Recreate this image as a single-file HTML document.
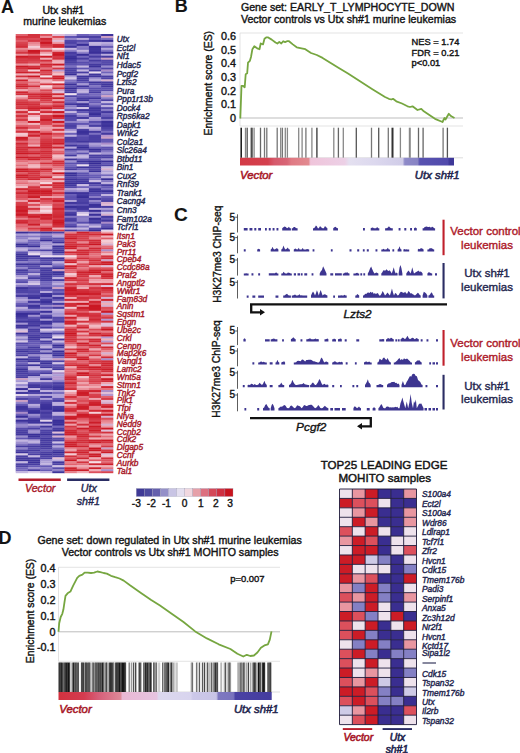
<!DOCTYPE html>
<html><head><meta charset="utf-8"><style>
html,body{margin:0;padding:0;background:#fff;}
svg{display:block;font-family:"Liberation Sans",sans-serif;}
svg{stroke-width:0.4px}
text{fill:currentColor;stroke:currentColor;}
[font-weight=bold] text,text[font-weight=bold]{stroke-width:0.08px}
</style></head><body>
<svg width="520" height="753" viewBox="0 0 520 753">
<defs><linearGradient id="gB" x1="0" x2="1" y1="0" y2="0"><stop offset="0" stop-color="#d33a46"/><stop offset="0.13" stop-color="#d4404e"/><stop offset="0.16" stop-color="#d65a6c"/><stop offset="0.22" stop-color="#d86676"/><stop offset="0.24" stop-color="#e07a84"/><stop offset="0.32" stop-color="#e28a90"/><stop offset="0.33" stop-color="#efc4da"/><stop offset="0.49" stop-color="#ecd0e6"/><stop offset="0.51" stop-color="#e4e0f0"/><stop offset="0.63" stop-color="#dcd8ee"/><stop offset="0.76" stop-color="#d0cce8"/><stop offset="0.77" stop-color="#8e8ac8"/><stop offset="0.83" stop-color="#8884c4"/><stop offset="0.84" stop-color="#5852b0"/><stop offset="0.97" stop-color="#514aac"/><stop offset="0.98" stop-color="#3e3898"/><stop offset="1" stop-color="#3e3898"/></linearGradient><linearGradient id="gD" x1="0" x2="1" y1="0" y2="0"><stop offset="0" stop-color="#d2323f"/><stop offset="0.12" stop-color="#d43c50"/><stop offset="0.19" stop-color="#d6607a"/><stop offset="0.29" stop-color="#de8898"/><stop offset="0.3" stop-color="#eab8d4"/><stop offset="0.46" stop-color="#e6c4e0"/><stop offset="0.47" stop-color="#dcd8ee"/><stop offset="0.62" stop-color="#d8d4ee"/><stop offset="0.63" stop-color="#ccc8e8"/><stop offset="0.74" stop-color="#c8c4e6"/><stop offset="0.75" stop-color="#7e78c0"/><stop offset="0.82" stop-color="#7a74be"/><stop offset="0.83" stop-color="#4a42a4"/><stop offset="1" stop-color="#443c9e"/></linearGradient></defs>
<rect width="520" height="753" fill="#fff"/>
<!-- Panel A -->
<text x="1" y="12.7" font-size="18" font-weight="bold" color="#141414">A</text>
<text x="63.3" y="13.8" font-size="10.6" text-anchor="middle" color="#141414">Utx sh#1</text>
<text x="64.7" y="25.1" font-size="10.6" text-anchor="middle" color="#141414">murine leukemias</text>
<g><rect x="15.7" y="34" width="12.5" height="2.23" fill="#e1626e"/><rect x="27.9" y="34" width="12.5" height="2.23" fill="#d3333f"/><rect x="40.1" y="34" width="12.5" height="2.23" fill="#de525e"/><rect x="52.3" y="34" width="12.5" height="2.23" fill="#e1bed7"/><rect x="64.5" y="34" width="12.5" height="2.23" fill="#c2b4e0"/><rect x="76.7" y="34" width="12.5" height="2.23" fill="#6e61ba"/><rect x="88.9" y="34" width="12.5" height="2.23" fill="#7c70c0"/><rect x="101.1" y="34" width="12.2" height="2.23" fill="#3f349c"/><rect x="15.7" y="35.98" width="12.5" height="2.23" fill="#d3333f"/><rect x="27.9" y="35.98" width="12.5" height="2.23" fill="#d4333f"/><rect x="40.1" y="35.98" width="12.5" height="2.23" fill="#ea8e99"/><rect x="52.3" y="35.98" width="12.5" height="2.23" fill="#db4a56"/><rect x="64.5" y="35.98" width="12.5" height="2.23" fill="#5e52b1"/><rect x="76.7" y="35.98" width="12.5" height="2.23" fill="#4c41a4"/><rect x="88.9" y="35.98" width="12.5" height="2.23" fill="#493fa3"/><rect x="101.1" y="35.98" width="12.2" height="2.23" fill="#cda0c3"/><rect x="15.7" y="37.95" width="12.5" height="2.23" fill="#da4753"/><rect x="27.9" y="37.95" width="12.5" height="2.23" fill="#db4b57"/><rect x="40.1" y="37.95" width="12.5" height="2.23" fill="#cf2733"/><rect x="52.3" y="37.95" width="12.5" height="2.23" fill="#eea4ae"/><rect x="64.5" y="37.95" width="12.5" height="2.23" fill="#9285ca"/><rect x="76.7" y="37.95" width="12.5" height="2.23" fill="#b7a9db"/><rect x="88.9" y="37.95" width="12.5" height="2.23" fill="#665ab6"/><rect x="101.1" y="37.95" width="12.2" height="2.23" fill="#7b6fc0"/><rect x="15.7" y="39.93" width="12.5" height="2.23" fill="#e1616d"/><rect x="27.9" y="39.93" width="12.5" height="2.23" fill="#d53844"/><rect x="40.1" y="39.93" width="12.5" height="2.23" fill="#d53743"/><rect x="52.3" y="39.93" width="12.5" height="2.23" fill="#e1bed7"/><rect x="64.5" y="39.93" width="12.5" height="2.23" fill="#5247a9"/><rect x="76.7" y="39.93" width="12.5" height="2.23" fill="#594ead"/><rect x="88.9" y="39.93" width="12.5" height="2.23" fill="#40369d"/><rect x="101.1" y="39.93" width="12.2" height="2.23" fill="#372d97"/><rect x="15.7" y="41.9" width="12.5" height="2.23" fill="#d94551"/><rect x="27.9" y="41.9" width="12.5" height="2.23" fill="#e8848f"/><rect x="40.1" y="41.9" width="12.5" height="2.23" fill="#ca1622"/><rect x="52.3" y="41.9" width="12.5" height="2.23" fill="#ed9ba5"/><rect x="64.5" y="41.9" width="12.5" height="2.23" fill="#4d42a6"/><rect x="76.7" y="41.9" width="12.5" height="2.23" fill="#7467bc"/><rect x="88.9" y="41.9" width="12.5" height="2.23" fill="#c3b5e0"/><rect x="101.1" y="41.9" width="12.2" height="2.23" fill="#baacdd"/><rect x="15.7" y="43.88" width="12.5" height="2.23" fill="#d63b47"/><rect x="27.9" y="43.88" width="12.5" height="2.23" fill="#ec96a0"/><rect x="40.1" y="43.88" width="12.5" height="2.23" fill="#d63a46"/><rect x="52.3" y="43.88" width="12.5" height="2.23" fill="#d12c38"/><rect x="64.5" y="43.88" width="12.5" height="2.23" fill="#6559b5"/><rect x="76.7" y="43.88" width="12.5" height="2.23" fill="#372d97"/><rect x="88.9" y="43.88" width="12.5" height="2.23" fill="#beb0de"/><rect x="101.1" y="43.88" width="12.2" height="2.23" fill="#a99bd5"/><rect x="15.7" y="45.86" width="12.5" height="2.23" fill="#d12d39"/><rect x="27.9" y="45.86" width="12.5" height="2.23" fill="#f4cdd6"/><rect x="40.1" y="45.86" width="12.5" height="2.23" fill="#db4955"/><rect x="52.3" y="45.86" width="12.5" height="2.23" fill="#cf2531"/><rect x="64.5" y="45.86" width="12.5" height="2.23" fill="#3e339b"/><rect x="76.7" y="45.86" width="12.5" height="2.23" fill="#897cc6"/><rect x="88.9" y="45.86" width="12.5" height="2.23" fill="#392f98"/><rect x="101.1" y="45.86" width="12.2" height="2.23" fill="#6458b4"/><rect x="15.7" y="47.83" width="12.5" height="2.23" fill="#e98993"/><rect x="27.9" y="47.83" width="12.5" height="2.23" fill="#f0afb8"/><rect x="40.1" y="47.83" width="12.5" height="2.23" fill="#efa9b3"/><rect x="52.3" y="47.83" width="12.5" height="2.23" fill="#f7e0e8"/><rect x="64.5" y="47.83" width="12.5" height="2.23" fill="#c1b3df"/><rect x="76.7" y="47.83" width="12.5" height="2.23" fill="#7f73c2"/><rect x="88.9" y="47.83" width="12.5" height="2.23" fill="#3f359c"/><rect x="101.1" y="47.83" width="12.2" height="2.23" fill="#b3a5da"/><rect x="15.7" y="49.81" width="12.5" height="2.23" fill="#e16470"/><rect x="27.9" y="49.81" width="12.5" height="2.23" fill="#ca1622"/><rect x="40.1" y="49.81" width="12.5" height="2.23" fill="#dc4d59"/><rect x="52.3" y="49.81" width="12.5" height="2.23" fill="#ed9ea8"/><rect x="64.5" y="49.81" width="12.5" height="2.23" fill="#8e81c9"/><rect x="76.7" y="49.81" width="12.5" height="2.23" fill="#c5b7e1"/><rect x="88.9" y="49.81" width="12.5" height="2.23" fill="#41379e"/><rect x="101.1" y="49.81" width="12.2" height="2.23" fill="#7f73c2"/><rect x="15.7" y="51.78" width="12.5" height="2.23" fill="#d43642"/><rect x="27.9" y="51.78" width="12.5" height="2.23" fill="#cd1f2b"/><rect x="40.1" y="51.78" width="12.5" height="2.23" fill="#ed9ca6"/><rect x="52.3" y="51.78" width="12.5" height="2.23" fill="#cf2430"/><rect x="64.5" y="51.78" width="12.5" height="2.23" fill="#463ba1"/><rect x="76.7" y="51.78" width="12.5" height="2.23" fill="#9083c9"/><rect x="88.9" y="51.78" width="12.5" height="2.23" fill="#3a2f98"/><rect x="101.1" y="51.78" width="12.2" height="2.23" fill="#3c329a"/><rect x="15.7" y="53.76" width="12.5" height="2.23" fill="#eb919c"/><rect x="27.9" y="53.76" width="12.5" height="2.23" fill="#e36c77"/><rect x="40.1" y="53.76" width="12.5" height="2.23" fill="#f5d3dc"/><rect x="52.3" y="53.76" width="12.5" height="2.23" fill="#ca1723"/><rect x="64.5" y="53.76" width="12.5" height="2.23" fill="#5045a8"/><rect x="76.7" y="53.76" width="12.5" height="2.23" fill="#372d97"/><rect x="88.9" y="53.76" width="12.5" height="2.23" fill="#6f63ba"/><rect x="101.1" y="53.76" width="12.2" height="2.23" fill="#bcaede"/><rect x="15.7" y="55.74" width="12.5" height="2.23" fill="#cb1925"/><rect x="27.9" y="55.74" width="12.5" height="2.23" fill="#cf2632"/><rect x="40.1" y="55.74" width="12.5" height="2.23" fill="#cc1c28"/><rect x="52.3" y="55.74" width="12.5" height="2.23" fill="#d53945"/><rect x="64.5" y="55.74" width="12.5" height="2.23" fill="#3c329a"/><rect x="76.7" y="55.74" width="12.5" height="2.23" fill="#7366bc"/><rect x="88.9" y="55.74" width="12.5" height="2.23" fill="#463ba1"/><rect x="101.1" y="55.74" width="12.2" height="2.23" fill="#443aa0"/><rect x="15.7" y="57.71" width="12.5" height="2.23" fill="#d53743"/><rect x="27.9" y="57.71" width="12.5" height="2.23" fill="#d2303c"/><rect x="40.1" y="57.71" width="12.5" height="2.23" fill="#efaab4"/><rect x="52.3" y="57.71" width="12.5" height="2.23" fill="#d3303c"/><rect x="64.5" y="57.71" width="12.5" height="2.23" fill="#362c96"/><rect x="76.7" y="57.71" width="12.5" height="2.23" fill="#463ba0"/><rect x="88.9" y="57.71" width="12.5" height="2.23" fill="#776abe"/><rect x="101.1" y="57.71" width="12.2" height="2.23" fill="#cda0c3"/><rect x="15.7" y="59.69" width="12.5" height="2.23" fill="#d53844"/><rect x="27.9" y="59.69" width="12.5" height="2.23" fill="#d63b47"/><rect x="40.1" y="59.69" width="12.5" height="2.23" fill="#d22e3a"/><rect x="52.3" y="59.69" width="12.5" height="2.23" fill="#eea5af"/><rect x="64.5" y="59.69" width="12.5" height="2.23" fill="#483da2"/><rect x="76.7" y="59.69" width="12.5" height="2.23" fill="#776abe"/><rect x="88.9" y="59.69" width="12.5" height="2.23" fill="#463ba0"/><rect x="101.1" y="59.69" width="12.2" height="2.23" fill="#5146a8"/><rect x="15.7" y="61.66" width="12.5" height="2.23" fill="#d53945"/><rect x="27.9" y="61.66" width="12.5" height="2.23" fill="#db4b57"/><rect x="40.1" y="61.66" width="12.5" height="2.23" fill="#e36d78"/><rect x="52.3" y="61.66" width="12.5" height="2.23" fill="#f0b2bc"/><rect x="64.5" y="61.66" width="12.5" height="2.23" fill="#4a3fa3"/><rect x="76.7" y="61.66" width="12.5" height="2.23" fill="#584cad"/><rect x="88.9" y="61.66" width="12.5" height="2.23" fill="#675bb6"/><rect x="101.1" y="61.66" width="12.2" height="2.23" fill="#564aab"/><rect x="15.7" y="63.64" width="12.5" height="2.23" fill="#ea8e99"/><rect x="27.9" y="63.64" width="12.5" height="2.23" fill="#eea3ac"/><rect x="40.1" y="63.64" width="12.5" height="2.23" fill="#cf2531"/><rect x="52.3" y="63.64" width="12.5" height="2.23" fill="#cb1925"/><rect x="64.5" y="63.64" width="12.5" height="2.23" fill="#5c50af"/><rect x="76.7" y="63.64" width="12.5" height="2.23" fill="#6054b2"/><rect x="88.9" y="63.64" width="12.5" height="2.23" fill="#43399f"/><rect x="101.1" y="63.64" width="12.2" height="2.23" fill="#5045a7"/><rect x="15.7" y="65.62" width="12.5" height="2.23" fill="#cb1a26"/><rect x="27.9" y="65.62" width="12.5" height="2.23" fill="#d12d39"/><rect x="40.1" y="65.62" width="12.5" height="2.23" fill="#d53844"/><rect x="52.3" y="65.62" width="12.5" height="2.23" fill="#efabb5"/><rect x="64.5" y="65.62" width="12.5" height="2.23" fill="#7b6fc0"/><rect x="76.7" y="65.62" width="12.5" height="2.23" fill="#c3b5e0"/><rect x="88.9" y="65.62" width="12.5" height="2.23" fill="#3b3199"/><rect x="101.1" y="65.62" width="12.2" height="2.23" fill="#978acd"/><rect x="15.7" y="67.59" width="12.5" height="2.23" fill="#d3313d"/><rect x="27.9" y="67.59" width="12.5" height="2.23" fill="#ca1723"/><rect x="40.1" y="67.59" width="12.5" height="2.23" fill="#e4717d"/><rect x="52.3" y="67.59" width="12.5" height="2.23" fill="#d43541"/><rect x="64.5" y="67.59" width="12.5" height="2.23" fill="#4a3fa3"/><rect x="76.7" y="67.59" width="12.5" height="2.23" fill="#5f54b2"/><rect x="88.9" y="67.59" width="12.5" height="2.23" fill="#7165bb"/><rect x="101.1" y="67.59" width="12.2" height="2.23" fill="#4e43a6"/><rect x="15.7" y="69.57" width="12.5" height="2.23" fill="#dc4f5b"/><rect x="27.9" y="69.57" width="12.5" height="2.23" fill="#f5d1d9"/><rect x="40.1" y="69.57" width="12.5" height="2.23" fill="#cf2531"/><rect x="52.3" y="69.57" width="12.5" height="2.23" fill="#b696ce"/><rect x="64.5" y="69.57" width="12.5" height="2.23" fill="#4b41a4"/><rect x="76.7" y="69.57" width="12.5" height="2.23" fill="#c4b6e1"/><rect x="88.9" y="69.57" width="12.5" height="2.23" fill="#483da2"/><rect x="101.1" y="69.57" width="12.2" height="2.23" fill="#aa8cc8"/><rect x="15.7" y="71.54" width="12.5" height="2.23" fill="#cd202c"/><rect x="27.9" y="71.54" width="12.5" height="2.23" fill="#d02834"/><rect x="40.1" y="71.54" width="12.5" height="2.23" fill="#db4c58"/><rect x="52.3" y="71.54" width="12.5" height="2.23" fill="#eea2ac"/><rect x="64.5" y="71.54" width="12.5" height="2.23" fill="#4a3fa3"/><rect x="76.7" y="71.54" width="12.5" height="2.23" fill="#483da2"/><rect x="88.9" y="71.54" width="12.5" height="2.23" fill="#eadcef"/><rect x="101.1" y="71.54" width="12.2" height="2.23" fill="#6f63ba"/><rect x="15.7" y="73.52" width="12.5" height="2.23" fill="#efabb5"/><rect x="27.9" y="73.52" width="12.5" height="2.23" fill="#f0b3bc"/><rect x="40.1" y="73.52" width="12.5" height="2.23" fill="#d53945"/><rect x="52.3" y="73.52" width="12.5" height="2.23" fill="#f2c0c9"/><rect x="64.5" y="73.52" width="12.5" height="2.23" fill="#372d96"/><rect x="76.7" y="73.52" width="12.5" height="2.23" fill="#bdafde"/><rect x="88.9" y="73.52" width="12.5" height="2.23" fill="#3f359c"/><rect x="101.1" y="73.52" width="12.2" height="2.23" fill="#ac9ed6"/><rect x="15.7" y="75.5" width="12.5" height="2.23" fill="#d12d39"/><rect x="27.9" y="75.5" width="12.5" height="2.23" fill="#ca1622"/><rect x="40.1" y="75.5" width="12.5" height="2.23" fill="#f7dfe7"/><rect x="52.3" y="75.5" width="12.5" height="2.23" fill="#cf2531"/><rect x="64.5" y="75.5" width="12.5" height="2.23" fill="#ac9ed6"/><rect x="76.7" y="75.5" width="12.5" height="2.23" fill="#3e349c"/><rect x="88.9" y="75.5" width="12.5" height="2.23" fill="#41369d"/><rect x="101.1" y="75.5" width="12.2" height="2.23" fill="#473ca1"/><rect x="15.7" y="77.47" width="12.5" height="2.23" fill="#eea5af"/><rect x="27.9" y="77.47" width="12.5" height="2.23" fill="#e57782"/><rect x="40.1" y="77.47" width="12.5" height="2.23" fill="#d3313d"/><rect x="52.3" y="77.47" width="12.5" height="2.23" fill="#cc1b27"/><rect x="64.5" y="77.47" width="12.5" height="2.23" fill="#d5c7e7"/><rect x="76.7" y="77.47" width="12.5" height="2.23" fill="#44399f"/><rect x="88.9" y="77.47" width="12.5" height="2.23" fill="#9b8ecf"/><rect x="101.1" y="77.47" width="12.2" height="2.23" fill="#4f44a7"/><rect x="15.7" y="79.45" width="12.5" height="2.23" fill="#cd202c"/><rect x="27.9" y="79.45" width="12.5" height="2.23" fill="#efa8b2"/><rect x="40.1" y="79.45" width="12.5" height="2.23" fill="#f0b2bc"/><rect x="52.3" y="79.45" width="12.5" height="2.23" fill="#e46f7a"/><rect x="64.5" y="79.45" width="12.5" height="2.23" fill="#7f72c1"/><rect x="76.7" y="79.45" width="12.5" height="2.23" fill="#493ea3"/><rect x="88.9" y="79.45" width="12.5" height="2.23" fill="#b4a6da"/><rect x="101.1" y="79.45" width="12.2" height="2.23" fill="#d7b0ce"/><rect x="15.7" y="81.42" width="12.5" height="2.23" fill="#e05e6a"/><rect x="27.9" y="81.42" width="12.5" height="2.23" fill="#e36e79"/><rect x="40.1" y="81.42" width="12.5" height="2.23" fill="#f0adb7"/><rect x="52.3" y="81.42" width="12.5" height="2.23" fill="#f7dfe7"/><rect x="64.5" y="81.42" width="12.5" height="2.23" fill="#6e62ba"/><rect x="76.7" y="81.42" width="12.5" height="2.23" fill="#5f53b1"/><rect x="88.9" y="81.42" width="12.5" height="2.23" fill="#3e349b"/><rect x="101.1" y="81.42" width="12.2" height="2.23" fill="#453aa0"/><rect x="15.7" y="83.4" width="12.5" height="2.23" fill="#d43642"/><rect x="27.9" y="83.4" width="12.5" height="2.23" fill="#e7828d"/><rect x="40.1" y="83.4" width="12.5" height="2.23" fill="#d43440"/><rect x="52.3" y="83.4" width="12.5" height="2.23" fill="#ce222e"/><rect x="64.5" y="83.4" width="12.5" height="2.23" fill="#3b3099"/><rect x="76.7" y="83.4" width="12.5" height="2.23" fill="#a698d4"/><rect x="88.9" y="83.4" width="12.5" height="2.23" fill="#5449aa"/><rect x="101.1" y="83.4" width="12.2" height="2.23" fill="#40369d"/><rect x="15.7" y="85.38" width="12.5" height="2.23" fill="#cd202c"/><rect x="27.9" y="85.38" width="12.5" height="2.23" fill="#d22e3a"/><rect x="40.1" y="85.38" width="12.5" height="2.23" fill="#f6dae2"/><rect x="52.3" y="85.38" width="12.5" height="2.23" fill="#e67a85"/><rect x="64.5" y="85.38" width="12.5" height="2.23" fill="#5b50af"/><rect x="76.7" y="85.38" width="12.5" height="2.23" fill="#3e339b"/><rect x="88.9" y="85.38" width="12.5" height="2.23" fill="#8174c3"/><rect x="101.1" y="85.38" width="12.2" height="2.23" fill="#42379e"/><rect x="15.7" y="87.35" width="12.5" height="2.23" fill="#d94551"/><rect x="27.9" y="87.35" width="12.5" height="2.23" fill="#e7818c"/><rect x="40.1" y="87.35" width="12.5" height="2.23" fill="#f0aeb8"/><rect x="52.3" y="87.35" width="12.5" height="2.23" fill="#d22f3b"/><rect x="64.5" y="87.35" width="12.5" height="2.23" fill="#372d96"/><rect x="76.7" y="87.35" width="12.5" height="2.23" fill="#6458b5"/><rect x="88.9" y="87.35" width="12.5" height="2.23" fill="#594eae"/><rect x="101.1" y="87.35" width="12.2" height="2.23" fill="#5b4faf"/><rect x="15.7" y="89.33" width="12.5" height="2.23" fill="#efaab4"/><rect x="27.9" y="89.33" width="12.5" height="2.23" fill="#e7818c"/><rect x="40.1" y="89.33" width="12.5" height="2.23" fill="#da4955"/><rect x="52.3" y="89.33" width="12.5" height="2.23" fill="#cda0c3"/><rect x="64.5" y="89.33" width="12.5" height="2.23" fill="#4f44a7"/><rect x="76.7" y="89.33" width="12.5" height="2.23" fill="#bbaddd"/><rect x="88.9" y="89.33" width="12.5" height="2.23" fill="#584dad"/><rect x="101.1" y="89.33" width="12.2" height="2.23" fill="#564bac"/><rect x="15.7" y="91.3" width="12.5" height="2.23" fill="#cf2430"/><rect x="27.9" y="91.3" width="12.5" height="2.23" fill="#e26773"/><rect x="40.1" y="91.3" width="12.5" height="2.23" fill="#df5763"/><rect x="52.3" y="91.3" width="12.5" height="2.23" fill="#e1bed7"/><rect x="64.5" y="91.3" width="12.5" height="2.23" fill="#43399f"/><rect x="76.7" y="91.3" width="12.5" height="2.23" fill="#bcaedd"/><rect x="88.9" y="91.3" width="12.5" height="2.23" fill="#493ea3"/><rect x="101.1" y="91.3" width="12.2" height="2.23" fill="#a698d4"/><rect x="15.7" y="93.28" width="12.5" height="2.23" fill="#d3313d"/><rect x="27.9" y="93.28" width="12.5" height="2.23" fill="#cf2531"/><rect x="40.1" y="93.28" width="12.5" height="2.23" fill="#cd1f2b"/><rect x="52.3" y="93.28" width="12.5" height="2.23" fill="#cf2632"/><rect x="64.5" y="93.28" width="12.5" height="2.23" fill="#eee0f0"/><rect x="76.7" y="93.28" width="12.5" height="2.23" fill="#6256b3"/><rect x="88.9" y="93.28" width="12.5" height="2.23" fill="#7669bd"/><rect x="101.1" y="93.28" width="12.2" height="2.23" fill="#8e81c8"/><rect x="15.7" y="95.26" width="12.5" height="2.23" fill="#f2bec7"/><rect x="27.9" y="95.26" width="12.5" height="2.23" fill="#d3313d"/><rect x="40.1" y="95.26" width="12.5" height="2.23" fill="#cd1f2b"/><rect x="52.3" y="95.26" width="12.5" height="2.23" fill="#ed9ca6"/><rect x="64.5" y="95.26" width="12.5" height="2.23" fill="#4e43a6"/><rect x="76.7" y="95.26" width="12.5" height="2.23" fill="#6559b5"/><rect x="88.9" y="95.26" width="12.5" height="2.23" fill="#6b5fb8"/><rect x="101.1" y="95.26" width="12.2" height="2.23" fill="#cda0c3"/><rect x="15.7" y="97.23" width="12.5" height="2.23" fill="#e88791"/><rect x="27.9" y="97.23" width="12.5" height="2.23" fill="#d3303c"/><rect x="40.1" y="97.23" width="12.5" height="2.23" fill="#d02733"/><rect x="52.3" y="97.23" width="12.5" height="2.23" fill="#cc1d29"/><rect x="64.5" y="97.23" width="12.5" height="2.23" fill="#7f72c2"/><rect x="76.7" y="97.23" width="12.5" height="2.23" fill="#443aa0"/><rect x="88.9" y="97.23" width="12.5" height="2.23" fill="#41369d"/><rect x="101.1" y="97.23" width="12.2" height="2.23" fill="#867ac5"/><rect x="15.7" y="99.21" width="12.5" height="2.23" fill="#da4753"/><rect x="27.9" y="99.21" width="12.5" height="2.23" fill="#e57883"/><rect x="40.1" y="99.21" width="12.5" height="2.23" fill="#d53945"/><rect x="52.3" y="99.21" width="12.5" height="2.23" fill="#ec99a3"/><rect x="64.5" y="99.21" width="12.5" height="2.23" fill="#6c60b9"/><rect x="76.7" y="99.21" width="12.5" height="2.23" fill="#3e349c"/><rect x="88.9" y="99.21" width="12.5" height="2.23" fill="#6e62ba"/><rect x="101.1" y="99.21" width="12.2" height="2.23" fill="#4b40a4"/><rect x="15.7" y="101.18" width="12.5" height="2.23" fill="#d3333f"/><rect x="27.9" y="101.18" width="12.5" height="2.23" fill="#d73e4a"/><rect x="40.1" y="101.18" width="12.5" height="2.23" fill="#dc4e5a"/><rect x="52.3" y="101.18" width="12.5" height="2.23" fill="#d02834"/><rect x="64.5" y="101.18" width="12.5" height="2.23" fill="#6d61b9"/><rect x="76.7" y="101.18" width="12.5" height="2.23" fill="#a396d2"/><rect x="88.9" y="101.18" width="12.5" height="2.23" fill="#6559b5"/><rect x="101.1" y="101.18" width="12.2" height="2.23" fill="#c5b7e1"/><rect x="15.7" y="103.16" width="12.5" height="2.23" fill="#d02935"/><rect x="27.9" y="103.16" width="12.5" height="2.23" fill="#d22e3a"/><rect x="40.1" y="103.16" width="12.5" height="2.23" fill="#e7808b"/><rect x="52.3" y="103.16" width="12.5" height="2.23" fill="#de535f"/><rect x="64.5" y="103.16" width="12.5" height="2.23" fill="#41379e"/><rect x="76.7" y="103.16" width="12.5" height="2.23" fill="#3a2f98"/><rect x="88.9" y="103.16" width="12.5" height="2.23" fill="#897cc6"/><rect x="101.1" y="103.16" width="12.2" height="2.23" fill="#6257b4"/><rect x="15.7" y="105.14" width="12.5" height="2.23" fill="#d73e4a"/><rect x="27.9" y="105.14" width="12.5" height="2.23" fill="#d3313d"/><rect x="40.1" y="105.14" width="12.5" height="2.23" fill="#d8404c"/><rect x="52.3" y="105.14" width="12.5" height="2.23" fill="#cf2632"/><rect x="64.5" y="105.14" width="12.5" height="2.23" fill="#877ac5"/><rect x="76.7" y="105.14" width="12.5" height="2.23" fill="#41379e"/><rect x="88.9" y="105.14" width="12.5" height="2.23" fill="#6256b3"/><rect x="101.1" y="105.14" width="12.2" height="2.23" fill="#bfb1de"/><rect x="15.7" y="107.11" width="12.5" height="2.23" fill="#d3323e"/><rect x="27.9" y="107.11" width="12.5" height="2.23" fill="#cd1f2b"/><rect x="40.1" y="107.11" width="12.5" height="2.23" fill="#cb1925"/><rect x="52.3" y="107.11" width="12.5" height="2.23" fill="#d43541"/><rect x="64.5" y="107.11" width="12.5" height="2.23" fill="#a295d2"/><rect x="76.7" y="107.11" width="12.5" height="2.23" fill="#d2c4e6"/><rect x="88.9" y="107.11" width="12.5" height="2.23" fill="#3f359c"/><rect x="101.1" y="107.11" width="12.2" height="2.23" fill="#574bac"/><rect x="15.7" y="109.09" width="12.5" height="2.23" fill="#eea1ab"/><rect x="27.9" y="109.09" width="12.5" height="2.23" fill="#d22f3b"/><rect x="40.1" y="109.09" width="12.5" height="2.23" fill="#e67d88"/><rect x="52.3" y="109.09" width="12.5" height="2.23" fill="#e1bed7"/><rect x="64.5" y="109.09" width="12.5" height="2.23" fill="#6156b3"/><rect x="76.7" y="109.09" width="12.5" height="2.23" fill="#3f349c"/><rect x="88.9" y="109.09" width="12.5" height="2.23" fill="#43389e"/><rect x="101.1" y="109.09" width="12.2" height="2.23" fill="#8478c4"/><rect x="15.7" y="111.06" width="12.5" height="2.23" fill="#d12b37"/><rect x="27.9" y="111.06" width="12.5" height="2.23" fill="#f4c9d2"/><rect x="40.1" y="111.06" width="12.5" height="2.23" fill="#d02834"/><rect x="52.3" y="111.06" width="12.5" height="2.23" fill="#cb1824"/><rect x="64.5" y="111.06" width="12.5" height="2.23" fill="#c5b7e1"/><rect x="76.7" y="111.06" width="12.5" height="2.23" fill="#6357b4"/><rect x="88.9" y="111.06" width="12.5" height="2.23" fill="#493ea3"/><rect x="101.1" y="111.06" width="12.2" height="2.23" fill="#42379e"/><rect x="15.7" y="113.04" width="12.5" height="2.23" fill="#e4707b"/><rect x="27.9" y="113.04" width="12.5" height="2.23" fill="#d73d49"/><rect x="40.1" y="113.04" width="12.5" height="2.23" fill="#efa6b0"/><rect x="52.3" y="113.04" width="12.5" height="2.23" fill="#e4717d"/><rect x="64.5" y="113.04" width="12.5" height="2.23" fill="#7266bc"/><rect x="76.7" y="113.04" width="12.5" height="2.23" fill="#aea0d7"/><rect x="88.9" y="113.04" width="12.5" height="2.23" fill="#372d97"/><rect x="101.1" y="113.04" width="12.2" height="2.23" fill="#7064bb"/><rect x="15.7" y="115.02" width="12.5" height="2.23" fill="#d3313d"/><rect x="27.9" y="115.02" width="12.5" height="2.23" fill="#f0afb9"/><rect x="40.1" y="115.02" width="12.5" height="2.23" fill="#d63a46"/><rect x="52.3" y="115.02" width="12.5" height="2.23" fill="#ca1622"/><rect x="64.5" y="115.02" width="12.5" height="2.23" fill="#463ba1"/><rect x="76.7" y="115.02" width="12.5" height="2.23" fill="#8679c5"/><rect x="88.9" y="115.02" width="12.5" height="2.23" fill="#4d42a5"/><rect x="101.1" y="115.02" width="12.2" height="2.23" fill="#6559b5"/><rect x="15.7" y="116.99" width="12.5" height="2.23" fill="#e1616c"/><rect x="27.9" y="116.99" width="12.5" height="2.23" fill="#f5d3dc"/><rect x="40.1" y="116.99" width="12.5" height="2.23" fill="#d53743"/><rect x="52.3" y="116.99" width="12.5" height="2.23" fill="#d22f3b"/><rect x="64.5" y="116.99" width="12.5" height="2.23" fill="#5449aa"/><rect x="76.7" y="116.99" width="12.5" height="2.23" fill="#44399f"/><rect x="88.9" y="116.99" width="12.5" height="2.23" fill="#aa9cd5"/><rect x="101.1" y="116.99" width="12.2" height="2.23" fill="#493fa3"/><rect x="15.7" y="118.97" width="12.5" height="2.23" fill="#d63a46"/><rect x="27.9" y="118.97" width="12.5" height="2.23" fill="#f4cdd6"/><rect x="40.1" y="118.97" width="12.5" height="2.23" fill="#cc1d29"/><rect x="52.3" y="118.97" width="12.5" height="2.23" fill="#cda0c3"/><rect x="64.5" y="118.97" width="12.5" height="2.23" fill="#554aab"/><rect x="76.7" y="118.97" width="12.5" height="2.23" fill="#bdafde"/><rect x="88.9" y="118.97" width="12.5" height="2.23" fill="#a092d1"/><rect x="101.1" y="118.97" width="12.2" height="2.23" fill="#8578c4"/><rect x="15.7" y="120.94" width="12.5" height="2.23" fill="#e7808b"/><rect x="27.9" y="120.94" width="12.5" height="2.23" fill="#cb1824"/><rect x="40.1" y="120.94" width="12.5" height="2.23" fill="#d8424e"/><rect x="52.3" y="120.94" width="12.5" height="2.23" fill="#cb1824"/><rect x="64.5" y="120.94" width="12.5" height="2.23" fill="#8f82c9"/><rect x="76.7" y="120.94" width="12.5" height="2.23" fill="#978acd"/><rect x="88.9" y="120.94" width="12.5" height="2.23" fill="#564bab"/><rect x="101.1" y="120.94" width="12.2" height="2.23" fill="#3a3099"/><rect x="15.7" y="122.92" width="12.5" height="2.23" fill="#eb939d"/><rect x="27.9" y="122.92" width="12.5" height="2.23" fill="#f1b6bf"/><rect x="40.1" y="122.92" width="12.5" height="2.23" fill="#d9434f"/><rect x="52.3" y="122.92" width="12.5" height="2.23" fill="#e57883"/><rect x="64.5" y="122.92" width="12.5" height="2.23" fill="#564aab"/><rect x="76.7" y="122.92" width="12.5" height="2.23" fill="#6054b2"/><rect x="88.9" y="122.92" width="12.5" height="2.23" fill="#7468bd"/><rect x="101.1" y="122.92" width="12.2" height="2.23" fill="#42389e"/><rect x="15.7" y="124.9" width="12.5" height="2.23" fill="#e1616d"/><rect x="27.9" y="124.9" width="12.5" height="2.23" fill="#e26671"/><rect x="40.1" y="124.9" width="12.5" height="2.23" fill="#e98994"/><rect x="52.3" y="124.9" width="12.5" height="2.23" fill="#d43642"/><rect x="64.5" y="124.9" width="12.5" height="2.23" fill="#4a3fa3"/><rect x="76.7" y="124.9" width="12.5" height="2.23" fill="#ab9dd6"/><rect x="88.9" y="124.9" width="12.5" height="2.23" fill="#483ea2"/><rect x="101.1" y="124.9" width="12.2" height="2.23" fill="#3c329a"/><rect x="15.7" y="126.87" width="12.5" height="2.23" fill="#d12c38"/><rect x="27.9" y="126.87" width="12.5" height="2.23" fill="#df5965"/><rect x="40.1" y="126.87" width="12.5" height="2.23" fill="#eea3ad"/><rect x="52.3" y="126.87" width="12.5" height="2.23" fill="#eea5af"/><rect x="64.5" y="126.87" width="12.5" height="2.23" fill="#5146a8"/><rect x="76.7" y="126.87" width="12.5" height="2.23" fill="#c3b5e0"/><rect x="88.9" y="126.87" width="12.5" height="2.23" fill="#baacdd"/><rect x="101.1" y="126.87" width="12.2" height="2.23" fill="#4c41a4"/><rect x="15.7" y="128.85" width="12.5" height="2.23" fill="#e36b77"/><rect x="27.9" y="128.85" width="12.5" height="2.23" fill="#f1b8c1"/><rect x="40.1" y="128.85" width="12.5" height="2.23" fill="#ec96a0"/><rect x="52.3" y="128.85" width="12.5" height="2.23" fill="#d22e3a"/><rect x="64.5" y="128.85" width="12.5" height="2.23" fill="#a092d1"/><rect x="76.7" y="128.85" width="12.5" height="2.23" fill="#493fa3"/><rect x="88.9" y="128.85" width="12.5" height="2.23" fill="#a799d4"/><rect x="101.1" y="128.85" width="12.2" height="2.23" fill="#564bab"/><rect x="15.7" y="130.82" width="12.5" height="2.23" fill="#d43541"/><rect x="27.9" y="130.82" width="12.5" height="2.23" fill="#cd1f2b"/><rect x="40.1" y="130.82" width="12.5" height="2.23" fill="#e36b76"/><rect x="52.3" y="130.82" width="12.5" height="2.23" fill="#f0b3bc"/><rect x="64.5" y="130.82" width="12.5" height="2.23" fill="#d1c3e5"/><rect x="76.7" y="130.82" width="12.5" height="2.23" fill="#3a3099"/><rect x="88.9" y="130.82" width="12.5" height="2.23" fill="#443a9f"/><rect x="101.1" y="130.82" width="12.2" height="2.23" fill="#7b6ec0"/><rect x="15.7" y="132.8" width="12.5" height="2.23" fill="#f4c9d2"/><rect x="27.9" y="132.8" width="12.5" height="2.23" fill="#dd515d"/><rect x="40.1" y="132.8" width="12.5" height="2.23" fill="#cd202c"/><rect x="52.3" y="132.8" width="12.5" height="2.23" fill="#d94551"/><rect x="64.5" y="132.8" width="12.5" height="2.23" fill="#6b5fb8"/><rect x="76.7" y="132.8" width="12.5" height="2.23" fill="#3e349b"/><rect x="88.9" y="132.8" width="12.5" height="2.23" fill="#7d71c1"/><rect x="101.1" y="132.8" width="12.2" height="2.23" fill="#44399f"/><rect x="15.7" y="134.78" width="12.5" height="2.23" fill="#f2bdc6"/><rect x="27.9" y="134.78" width="12.5" height="2.23" fill="#ce212d"/><rect x="40.1" y="134.78" width="12.5" height="2.23" fill="#dd515d"/><rect x="52.3" y="134.78" width="12.5" height="2.23" fill="#e1626d"/><rect x="64.5" y="134.78" width="12.5" height="2.23" fill="#c2b4e0"/><rect x="76.7" y="134.78" width="12.5" height="2.23" fill="#6559b5"/><rect x="88.9" y="134.78" width="12.5" height="2.23" fill="#4b40a4"/><rect x="101.1" y="134.78" width="12.2" height="2.23" fill="#b696ce"/><rect x="15.7" y="136.75" width="12.5" height="2.23" fill="#cb1925"/><rect x="27.9" y="136.75" width="12.5" height="2.23" fill="#e98a94"/><rect x="40.1" y="136.75" width="12.5" height="2.23" fill="#db4c58"/><rect x="52.3" y="136.75" width="12.5" height="2.23" fill="#ea919b"/><rect x="64.5" y="136.75" width="12.5" height="2.23" fill="#4b40a4"/><rect x="76.7" y="136.75" width="12.5" height="2.23" fill="#554aab"/><rect x="88.9" y="136.75" width="12.5" height="2.23" fill="#493ea3"/><rect x="101.1" y="136.75" width="12.2" height="2.23" fill="#cda0c3"/><rect x="15.7" y="138.73" width="12.5" height="2.23" fill="#cf2632"/><rect x="27.9" y="138.73" width="12.5" height="2.23" fill="#e4737f"/><rect x="40.1" y="138.73" width="12.5" height="2.23" fill="#d53945"/><rect x="52.3" y="138.73" width="12.5" height="2.23" fill="#d2303c"/><rect x="64.5" y="138.73" width="12.5" height="2.23" fill="#493ea2"/><rect x="76.7" y="138.73" width="12.5" height="2.23" fill="#5448aa"/><rect x="88.9" y="138.73" width="12.5" height="2.23" fill="#4a3fa3"/><rect x="101.1" y="138.73" width="12.2" height="2.23" fill="#5f54b2"/><rect x="15.7" y="140.7" width="12.5" height="2.23" fill="#e16470"/><rect x="27.9" y="140.7" width="12.5" height="2.23" fill="#e7828d"/><rect x="40.1" y="140.7" width="12.5" height="2.23" fill="#d43440"/><rect x="52.3" y="140.7" width="12.5" height="2.23" fill="#d43440"/><rect x="64.5" y="140.7" width="12.5" height="2.23" fill="#4b40a4"/><rect x="76.7" y="140.7" width="12.5" height="2.23" fill="#41369d"/><rect x="88.9" y="140.7" width="12.5" height="2.23" fill="#473ca1"/><rect x="101.1" y="140.7" width="12.2" height="2.23" fill="#6357b4"/><rect x="15.7" y="142.68" width="12.5" height="2.23" fill="#d02733"/><rect x="27.9" y="142.68" width="12.5" height="2.23" fill="#e36c78"/><rect x="40.1" y="142.68" width="12.5" height="2.23" fill="#cf2632"/><rect x="52.3" y="142.68" width="12.5" height="2.23" fill="#cc1d29"/><rect x="64.5" y="142.68" width="12.5" height="2.23" fill="#7366bc"/><rect x="76.7" y="142.68" width="12.5" height="2.23" fill="#796cbf"/><rect x="88.9" y="142.68" width="12.5" height="2.23" fill="#ad9fd7"/><rect x="101.1" y="142.68" width="12.2" height="2.23" fill="#aa8cc8"/><rect x="15.7" y="144.66" width="12.5" height="2.23" fill="#d94551"/><rect x="27.9" y="144.66" width="12.5" height="2.23" fill="#efabb5"/><rect x="40.1" y="144.66" width="12.5" height="2.23" fill="#d12b37"/><rect x="52.3" y="144.66" width="12.5" height="2.23" fill="#e7808b"/><rect x="64.5" y="144.66" width="12.5" height="2.23" fill="#3e349c"/><rect x="76.7" y="144.66" width="12.5" height="2.23" fill="#4d42a6"/><rect x="88.9" y="144.66" width="12.5" height="2.23" fill="#9f91d0"/><rect x="101.1" y="144.66" width="12.2" height="2.23" fill="#c0b2df"/><rect x="15.7" y="146.63" width="12.5" height="2.23" fill="#d12c38"/><rect x="27.9" y="146.63" width="12.5" height="2.23" fill="#cc1c28"/><rect x="40.1" y="146.63" width="12.5" height="2.23" fill="#cd1f2b"/><rect x="52.3" y="146.63" width="12.5" height="2.23" fill="#ce222e"/><rect x="64.5" y="146.63" width="12.5" height="2.23" fill="#b5a7db"/><rect x="76.7" y="146.63" width="12.5" height="2.23" fill="#382e98"/><rect x="88.9" y="146.63" width="12.5" height="2.23" fill="#6c60b9"/><rect x="101.1" y="146.63" width="12.2" height="2.23" fill="#5d51b0"/><rect x="15.7" y="148.61" width="12.5" height="2.23" fill="#d22e3a"/><rect x="27.9" y="148.61" width="12.5" height="2.23" fill="#e05e6a"/><rect x="40.1" y="148.61" width="12.5" height="2.23" fill="#d94652"/><rect x="52.3" y="148.61" width="12.5" height="2.23" fill="#ed9ba6"/><rect x="64.5" y="148.61" width="12.5" height="2.23" fill="#483da2"/><rect x="76.7" y="148.61" width="12.5" height="2.23" fill="#4d42a5"/><rect x="88.9" y="148.61" width="12.5" height="2.23" fill="#372d97"/><rect x="101.1" y="148.61" width="12.2" height="2.23" fill="#594ead"/><rect x="15.7" y="150.58" width="12.5" height="2.23" fill="#d12d39"/><rect x="27.9" y="150.58" width="12.5" height="2.23" fill="#d63c48"/><rect x="40.1" y="150.58" width="12.5" height="2.23" fill="#d02935"/><rect x="52.3" y="150.58" width="12.5" height="2.23" fill="#e1636e"/><rect x="64.5" y="150.58" width="12.5" height="2.23" fill="#7b6ec0"/><rect x="76.7" y="150.58" width="12.5" height="2.23" fill="#9f91d0"/><rect x="88.9" y="150.58" width="12.5" height="2.23" fill="#473ca1"/><rect x="101.1" y="150.58" width="12.2" height="2.23" fill="#8477c4"/><rect x="15.7" y="152.56" width="12.5" height="2.23" fill="#cb1824"/><rect x="27.9" y="152.56" width="12.5" height="2.23" fill="#cd1e2a"/><rect x="40.1" y="152.56" width="12.5" height="2.23" fill="#d22e3a"/><rect x="52.3" y="152.56" width="12.5" height="2.23" fill="#dd505c"/><rect x="64.5" y="152.56" width="12.5" height="2.23" fill="#7d71c1"/><rect x="76.7" y="152.56" width="12.5" height="2.23" fill="#5c50af"/><rect x="88.9" y="152.56" width="12.5" height="2.23" fill="#c4b6e0"/><rect x="101.1" y="152.56" width="12.2" height="2.23" fill="#a698d4"/><rect x="15.7" y="154.54" width="12.5" height="2.23" fill="#dd505c"/><rect x="27.9" y="154.54" width="12.5" height="2.23" fill="#e1646f"/><rect x="40.1" y="154.54" width="12.5" height="2.23" fill="#d73d49"/><rect x="52.3" y="154.54" width="12.5" height="2.23" fill="#f2bcc5"/><rect x="64.5" y="154.54" width="12.5" height="2.23" fill="#43399f"/><rect x="76.7" y="154.54" width="12.5" height="2.23" fill="#bfb1df"/><rect x="88.9" y="154.54" width="12.5" height="2.23" fill="#483da2"/><rect x="101.1" y="154.54" width="12.2" height="2.23" fill="#4d42a5"/><rect x="15.7" y="156.51" width="12.5" height="2.23" fill="#cb1925"/><rect x="27.9" y="156.51" width="12.5" height="2.23" fill="#ce232f"/><rect x="40.1" y="156.51" width="12.5" height="2.23" fill="#cf2531"/><rect x="52.3" y="156.51" width="12.5" height="2.23" fill="#f0b3bc"/><rect x="64.5" y="156.51" width="12.5" height="2.23" fill="#c5b7e1"/><rect x="76.7" y="156.51" width="12.5" height="2.23" fill="#beb0de"/><rect x="88.9" y="156.51" width="12.5" height="2.23" fill="#4b41a4"/><rect x="101.1" y="156.51" width="12.2" height="2.23" fill="#493ea3"/><rect x="15.7" y="158.49" width="12.5" height="2.23" fill="#db4b57"/><rect x="27.9" y="158.49" width="12.5" height="2.23" fill="#ce212d"/><rect x="40.1" y="158.49" width="12.5" height="2.23" fill="#da4753"/><rect x="52.3" y="158.49" width="12.5" height="2.23" fill="#e98994"/><rect x="64.5" y="158.49" width="12.5" height="2.23" fill="#3d329a"/><rect x="76.7" y="158.49" width="12.5" height="2.23" fill="#5f53b1"/><rect x="88.9" y="158.49" width="12.5" height="2.23" fill="#6256b4"/><rect x="101.1" y="158.49" width="12.2" height="2.23" fill="#9c8ecf"/><rect x="15.7" y="160.46" width="12.5" height="2.23" fill="#e36e7a"/><rect x="27.9" y="160.46" width="12.5" height="2.23" fill="#e98893"/><rect x="40.1" y="160.46" width="12.5" height="2.23" fill="#e57681"/><rect x="52.3" y="160.46" width="12.5" height="2.23" fill="#d12d39"/><rect x="64.5" y="160.46" width="12.5" height="2.23" fill="#9d90d0"/><rect x="76.7" y="160.46" width="12.5" height="2.23" fill="#3e339b"/><rect x="88.9" y="160.46" width="12.5" height="2.23" fill="#372d96"/><rect x="101.1" y="160.46" width="12.2" height="2.23" fill="#392e98"/><rect x="15.7" y="162.44" width="12.5" height="2.23" fill="#eb929c"/><rect x="27.9" y="162.44" width="12.5" height="2.23" fill="#e57580"/><rect x="40.1" y="162.44" width="12.5" height="2.23" fill="#d22f3b"/><rect x="52.3" y="162.44" width="12.5" height="2.23" fill="#d22f3b"/><rect x="64.5" y="162.44" width="12.5" height="2.23" fill="#5c51b0"/><rect x="76.7" y="162.44" width="12.5" height="2.23" fill="#5348aa"/><rect x="88.9" y="162.44" width="12.5" height="2.23" fill="#362c96"/><rect x="101.1" y="162.44" width="12.2" height="2.23" fill="#6155b3"/><rect x="15.7" y="164.42" width="12.5" height="2.23" fill="#e36e79"/><rect x="27.9" y="164.42" width="12.5" height="2.23" fill="#f1b5be"/><rect x="40.1" y="164.42" width="12.5" height="2.23" fill="#e57682"/><rect x="52.3" y="164.42" width="12.5" height="2.23" fill="#da4854"/><rect x="64.5" y="164.42" width="12.5" height="2.23" fill="#7367bc"/><rect x="76.7" y="164.42" width="12.5" height="2.23" fill="#eadcee"/><rect x="88.9" y="164.42" width="12.5" height="2.23" fill="#4a3fa3"/><rect x="101.1" y="164.42" width="12.2" height="2.23" fill="#4d42a6"/><rect x="15.7" y="166.39" width="12.5" height="2.23" fill="#e98893"/><rect x="27.9" y="166.39" width="12.5" height="2.23" fill="#f0afb8"/><rect x="40.1" y="166.39" width="12.5" height="2.23" fill="#e57884"/><rect x="52.3" y="166.39" width="12.5" height="2.23" fill="#e4717d"/><rect x="64.5" y="166.39" width="12.5" height="2.23" fill="#5a4fae"/><rect x="76.7" y="166.39" width="12.5" height="2.23" fill="#3c329a"/><rect x="88.9" y="166.39" width="12.5" height="2.23" fill="#453aa0"/><rect x="101.1" y="166.39" width="12.2" height="2.23" fill="#c5b7e1"/><rect x="15.7" y="168.37" width="12.5" height="2.23" fill="#cb1925"/><rect x="27.9" y="168.37" width="12.5" height="2.23" fill="#d3323e"/><rect x="40.1" y="168.37" width="12.5" height="2.23" fill="#ce212d"/><rect x="52.3" y="168.37" width="12.5" height="2.23" fill="#e67d88"/><rect x="64.5" y="168.37" width="12.5" height="2.23" fill="#473ca1"/><rect x="76.7" y="168.37" width="12.5" height="2.23" fill="#6c60b9"/><rect x="88.9" y="168.37" width="12.5" height="2.23" fill="#5145a8"/><rect x="101.1" y="168.37" width="12.2" height="2.23" fill="#d7b0ce"/><rect x="15.7" y="170.34" width="12.5" height="2.23" fill="#cc1d29"/><rect x="27.9" y="170.34" width="12.5" height="2.23" fill="#cf2632"/><rect x="40.1" y="170.34" width="12.5" height="2.23" fill="#d8414d"/><rect x="52.3" y="170.34" width="12.5" height="2.23" fill="#f4c8d1"/><rect x="64.5" y="170.34" width="12.5" height="2.23" fill="#aa9cd6"/><rect x="76.7" y="170.34" width="12.5" height="2.23" fill="#a395d2"/><rect x="88.9" y="170.34" width="12.5" height="2.23" fill="#3a3099"/><rect x="101.1" y="170.34" width="12.2" height="2.23" fill="#ac9fd7"/><rect x="15.7" y="172.32" width="12.5" height="2.23" fill="#df5863"/><rect x="27.9" y="172.32" width="12.5" height="2.23" fill="#d3333f"/><rect x="40.1" y="172.32" width="12.5" height="2.23" fill="#e26772"/><rect x="52.3" y="172.32" width="12.5" height="2.23" fill="#ca1723"/><rect x="64.5" y="172.32" width="12.5" height="2.23" fill="#372d97"/><rect x="76.7" y="172.32" width="12.5" height="2.23" fill="#5d52b0"/><rect x="88.9" y="172.32" width="12.5" height="2.23" fill="#8f82c9"/><rect x="101.1" y="172.32" width="12.2" height="2.23" fill="#beb0de"/><rect x="15.7" y="174.3" width="12.5" height="2.23" fill="#cc1d29"/><rect x="27.9" y="174.3" width="12.5" height="2.23" fill="#d43541"/><rect x="40.1" y="174.3" width="12.5" height="2.23" fill="#e26671"/><rect x="52.3" y="174.3" width="12.5" height="2.23" fill="#e4737e"/><rect x="64.5" y="174.3" width="12.5" height="2.23" fill="#3c329a"/><rect x="76.7" y="174.3" width="12.5" height="2.23" fill="#5b4fae"/><rect x="88.9" y="174.3" width="12.5" height="2.23" fill="#685cb7"/><rect x="101.1" y="174.3" width="12.2" height="2.23" fill="#7367bc"/><rect x="15.7" y="176.27" width="12.5" height="2.23" fill="#ce212d"/><rect x="27.9" y="176.27" width="12.5" height="2.23" fill="#d3313d"/><rect x="40.1" y="176.27" width="12.5" height="2.23" fill="#cd202c"/><rect x="52.3" y="176.27" width="12.5" height="2.23" fill="#f3c6ce"/><rect x="64.5" y="176.27" width="12.5" height="2.23" fill="#5348a9"/><rect x="76.7" y="176.27" width="12.5" height="2.23" fill="#5e52b1"/><rect x="88.9" y="176.27" width="12.5" height="2.23" fill="#6156b3"/><rect x="101.1" y="176.27" width="12.2" height="2.23" fill="#bbaddd"/><rect x="15.7" y="178.25" width="12.5" height="2.23" fill="#d94652"/><rect x="27.9" y="178.25" width="12.5" height="2.23" fill="#cf2531"/><rect x="40.1" y="178.25" width="12.5" height="2.23" fill="#e7808b"/><rect x="52.3" y="178.25" width="12.5" height="2.23" fill="#d8424e"/><rect x="64.5" y="178.25" width="12.5" height="2.23" fill="#3d329a"/><rect x="76.7" y="178.25" width="12.5" height="2.23" fill="#463ba0"/><rect x="88.9" y="178.25" width="12.5" height="2.23" fill="#8578c4"/><rect x="101.1" y="178.25" width="12.2" height="2.23" fill="#362c96"/><rect x="15.7" y="180.22" width="12.5" height="2.23" fill="#e88792"/><rect x="27.9" y="180.22" width="12.5" height="2.23" fill="#efaab4"/><rect x="40.1" y="180.22" width="12.5" height="2.23" fill="#eea1ab"/><rect x="52.3" y="180.22" width="12.5" height="2.23" fill="#efacb6"/><rect x="64.5" y="180.22" width="12.5" height="2.23" fill="#473da2"/><rect x="76.7" y="180.22" width="12.5" height="2.23" fill="#43389f"/><rect x="88.9" y="180.22" width="12.5" height="2.23" fill="#ccbee3"/><rect x="101.1" y="180.22" width="12.2" height="2.23" fill="#8376c3"/><rect x="15.7" y="182.2" width="12.5" height="2.23" fill="#e36c78"/><rect x="27.9" y="182.2" width="12.5" height="2.23" fill="#e7818c"/><rect x="40.1" y="182.2" width="12.5" height="2.23" fill="#f5d5dd"/><rect x="52.3" y="182.2" width="12.5" height="2.23" fill="#ce232f"/><rect x="64.5" y="182.2" width="12.5" height="2.23" fill="#3a3098"/><rect x="76.7" y="182.2" width="12.5" height="2.23" fill="#3e349c"/><rect x="88.9" y="182.2" width="12.5" height="2.23" fill="#3f349c"/><rect x="101.1" y="182.2" width="12.2" height="2.23" fill="#bdafde"/><rect x="15.7" y="184.18" width="12.5" height="2.23" fill="#ec97a2"/><rect x="27.9" y="184.18" width="12.5" height="2.23" fill="#e8848f"/><rect x="40.1" y="184.18" width="12.5" height="2.23" fill="#d22d39"/><rect x="52.3" y="184.18" width="12.5" height="2.23" fill="#d2303c"/><rect x="64.5" y="184.18" width="12.5" height="2.23" fill="#42389e"/><rect x="76.7" y="184.18" width="12.5" height="2.23" fill="#ccbee3"/><rect x="88.9" y="184.18" width="12.5" height="2.23" fill="#5a4fae"/><rect x="101.1" y="184.18" width="12.2" height="2.23" fill="#463ba1"/><rect x="15.7" y="186.15" width="12.5" height="2.23" fill="#f2bac3"/><rect x="27.9" y="186.15" width="12.5" height="2.23" fill="#d3323e"/><rect x="40.1" y="186.15" width="12.5" height="2.23" fill="#efa6b0"/><rect x="52.3" y="186.15" width="12.5" height="2.23" fill="#d22f3b"/><rect x="64.5" y="186.15" width="12.5" height="2.23" fill="#5448aa"/><rect x="76.7" y="186.15" width="12.5" height="2.23" fill="#7164bb"/><rect x="88.9" y="186.15" width="12.5" height="2.23" fill="#8073c2"/><rect x="101.1" y="186.15" width="12.2" height="2.23" fill="#665ab6"/><rect x="15.7" y="188.13" width="12.5" height="2.23" fill="#cf2733"/><rect x="27.9" y="188.13" width="12.5" height="2.23" fill="#d22f3b"/><rect x="40.1" y="188.13" width="12.5" height="2.23" fill="#d53844"/><rect x="52.3" y="188.13" width="12.5" height="2.23" fill="#d94652"/><rect x="64.5" y="188.13" width="12.5" height="2.23" fill="#b1a3d9"/><rect x="76.7" y="188.13" width="12.5" height="2.23" fill="#c3b5e0"/><rect x="88.9" y="188.13" width="12.5" height="2.23" fill="#3f359c"/><rect x="101.1" y="188.13" width="12.2" height="2.23" fill="#786cbf"/><rect x="15.7" y="190.1" width="12.5" height="2.23" fill="#dd515d"/><rect x="27.9" y="190.1" width="12.5" height="2.23" fill="#ca1723"/><rect x="40.1" y="190.1" width="12.5" height="2.23" fill="#ca1723"/><rect x="52.3" y="190.1" width="12.5" height="2.23" fill="#e4737e"/><rect x="64.5" y="190.1" width="12.5" height="2.23" fill="#9184ca"/><rect x="76.7" y="190.1" width="12.5" height="2.23" fill="#9d8fcf"/><rect x="88.9" y="190.1" width="12.5" height="2.23" fill="#3a3099"/><rect x="101.1" y="190.1" width="12.2" height="2.23" fill="#3a3099"/><rect x="15.7" y="192.08" width="12.5" height="2.23" fill="#d02834"/><rect x="27.9" y="192.08" width="12.5" height="2.23" fill="#cc1d29"/><rect x="40.1" y="192.08" width="12.5" height="2.23" fill="#cc1d29"/><rect x="52.3" y="192.08" width="12.5" height="2.23" fill="#d22e3a"/><rect x="64.5" y="192.08" width="12.5" height="2.23" fill="#3e339b"/><rect x="76.7" y="192.08" width="12.5" height="2.23" fill="#3e339b"/><rect x="88.9" y="192.08" width="12.5" height="2.23" fill="#554aab"/><rect x="101.1" y="192.08" width="12.2" height="2.23" fill="#5a4fae"/><rect x="15.7" y="194.06" width="12.5" height="2.23" fill="#dc4d59"/><rect x="27.9" y="194.06" width="12.5" height="2.23" fill="#d3323e"/><rect x="40.1" y="194.06" width="12.5" height="2.23" fill="#d2303c"/><rect x="52.3" y="194.06" width="12.5" height="2.23" fill="#e26773"/><rect x="64.5" y="194.06" width="12.5" height="2.23" fill="#675bb6"/><rect x="76.7" y="194.06" width="12.5" height="2.23" fill="#41379e"/><rect x="88.9" y="194.06" width="12.5" height="2.23" fill="#5d51b0"/><rect x="101.1" y="194.06" width="12.2" height="2.23" fill="#c3b5e0"/><rect x="15.7" y="196.03" width="12.5" height="2.23" fill="#da4753"/><rect x="27.9" y="196.03" width="12.5" height="2.23" fill="#cb1b27"/><rect x="40.1" y="196.03" width="12.5" height="2.23" fill="#ec96a0"/><rect x="52.3" y="196.03" width="12.5" height="2.23" fill="#ec99a4"/><rect x="64.5" y="196.03" width="12.5" height="2.23" fill="#5c50af"/><rect x="76.7" y="196.03" width="12.5" height="2.23" fill="#372d96"/><rect x="88.9" y="196.03" width="12.5" height="2.23" fill="#897cc6"/><rect x="101.1" y="196.03" width="12.2" height="2.23" fill="#695db7"/><rect x="15.7" y="198.01" width="12.5" height="2.23" fill="#e05d69"/><rect x="27.9" y="198.01" width="12.5" height="2.23" fill="#e67a85"/><rect x="40.1" y="198.01" width="12.5" height="2.23" fill="#d3313d"/><rect x="52.3" y="198.01" width="12.5" height="2.23" fill="#d73d49"/><rect x="64.5" y="198.01" width="12.5" height="2.23" fill="#5e52b1"/><rect x="76.7" y="198.01" width="12.5" height="2.23" fill="#5146a8"/><rect x="88.9" y="198.01" width="12.5" height="2.23" fill="#483da2"/><rect x="101.1" y="198.01" width="12.2" height="2.23" fill="#584cac"/><rect x="15.7" y="199.98" width="12.5" height="2.23" fill="#ed9faa"/><rect x="27.9" y="199.98" width="12.5" height="2.23" fill="#cf2632"/><rect x="40.1" y="199.98" width="12.5" height="2.23" fill="#dc4e5a"/><rect x="52.3" y="199.98" width="12.5" height="2.23" fill="#cd202c"/><rect x="64.5" y="199.98" width="12.5" height="2.23" fill="#b2a4d9"/><rect x="76.7" y="199.98" width="12.5" height="2.23" fill="#4e43a6"/><rect x="88.9" y="199.98" width="12.5" height="2.23" fill="#9588cc"/><rect x="101.1" y="199.98" width="12.2" height="2.23" fill="#4c41a4"/><rect x="15.7" y="201.96" width="12.5" height="2.23" fill="#d8404c"/><rect x="27.9" y="201.96" width="12.5" height="2.23" fill="#efa6b0"/><rect x="40.1" y="201.96" width="12.5" height="2.23" fill="#e16470"/><rect x="52.3" y="201.96" width="12.5" height="2.23" fill="#de5460"/><rect x="64.5" y="201.96" width="12.5" height="2.23" fill="#41369d"/><rect x="76.7" y="201.96" width="12.5" height="2.23" fill="#473ca1"/><rect x="88.9" y="201.96" width="12.5" height="2.23" fill="#6d61b9"/><rect x="101.1" y="201.96" width="12.2" height="2.23" fill="#d7b0ce"/><rect x="15.7" y="203.94" width="12.5" height="2.23" fill="#d73d49"/><rect x="27.9" y="203.94" width="12.5" height="2.23" fill="#db4c58"/><rect x="40.1" y="203.94" width="12.5" height="2.23" fill="#eb929c"/><rect x="52.3" y="203.94" width="12.5" height="2.23" fill="#d73f4b"/><rect x="64.5" y="203.94" width="12.5" height="2.23" fill="#675bb7"/><rect x="76.7" y="203.94" width="12.5" height="2.23" fill="#5d51b0"/><rect x="88.9" y="203.94" width="12.5" height="2.23" fill="#3b3199"/><rect x="101.1" y="203.94" width="12.2" height="2.23" fill="#e1bed7"/><rect x="15.7" y="205.91" width="12.5" height="2.23" fill="#cf2430"/><rect x="27.9" y="205.91" width="12.5" height="2.23" fill="#eea1ab"/><rect x="40.1" y="205.91" width="12.5" height="2.23" fill="#f6d7e0"/><rect x="52.3" y="205.91" width="12.5" height="2.23" fill="#d94551"/><rect x="64.5" y="205.91" width="12.5" height="2.23" fill="#382e97"/><rect x="76.7" y="205.91" width="12.5" height="2.23" fill="#3f359c"/><rect x="88.9" y="205.91" width="12.5" height="2.23" fill="#3d339b"/><rect x="101.1" y="205.91" width="12.2" height="2.23" fill="#493ea3"/><rect x="15.7" y="207.89" width="12.5" height="2.23" fill="#cf2733"/><rect x="27.9" y="207.89" width="12.5" height="2.23" fill="#d3323e"/><rect x="40.1" y="207.89" width="12.5" height="2.23" fill="#f0b0ba"/><rect x="52.3" y="207.89" width="12.5" height="2.23" fill="#cd212d"/><rect x="64.5" y="207.89" width="12.5" height="2.23" fill="#5449aa"/><rect x="76.7" y="207.89" width="12.5" height="2.23" fill="#41369d"/><rect x="88.9" y="207.89" width="12.5" height="2.23" fill="#b7a9db"/><rect x="101.1" y="207.89" width="12.2" height="2.23" fill="#ad9fd7"/><rect x="15.7" y="209.86" width="12.5" height="2.23" fill="#cb1824"/><rect x="27.9" y="209.86" width="12.5" height="2.23" fill="#ea8d98"/><rect x="40.1" y="209.86" width="12.5" height="2.23" fill="#f6dbe3"/><rect x="52.3" y="209.86" width="12.5" height="2.23" fill="#d53945"/><rect x="64.5" y="209.86" width="12.5" height="2.23" fill="#8074c2"/><rect x="76.7" y="209.86" width="12.5" height="2.23" fill="#5d51b0"/><rect x="88.9" y="209.86" width="12.5" height="2.23" fill="#362c96"/><rect x="101.1" y="209.86" width="12.2" height="2.23" fill="#796dbf"/><rect x="15.7" y="211.84" width="12.5" height="2.23" fill="#d22e3a"/><rect x="27.9" y="211.84" width="12.5" height="2.23" fill="#f0b2bb"/><rect x="40.1" y="211.84" width="12.5" height="2.23" fill="#f2c1ca"/><rect x="52.3" y="211.84" width="12.5" height="2.23" fill="#d3323e"/><rect x="64.5" y="211.84" width="12.5" height="2.23" fill="#4b40a4"/><rect x="76.7" y="211.84" width="12.5" height="2.23" fill="#d2c4e5"/><rect x="88.9" y="211.84" width="12.5" height="2.23" fill="#9689cc"/><rect x="101.1" y="211.84" width="12.2" height="2.23" fill="#cfc1e5"/><rect x="15.7" y="213.82" width="12.5" height="2.23" fill="#cb1a26"/><rect x="27.9" y="213.82" width="12.5" height="2.23" fill="#d3323e"/><rect x="40.1" y="213.82" width="12.5" height="2.23" fill="#cd1f2b"/><rect x="52.3" y="213.82" width="12.5" height="2.23" fill="#d12d39"/><rect x="64.5" y="213.82" width="12.5" height="2.23" fill="#3d339b"/><rect x="76.7" y="213.82" width="12.5" height="2.23" fill="#eddff0"/><rect x="88.9" y="213.82" width="12.5" height="2.23" fill="#3a3099"/><rect x="101.1" y="213.82" width="12.2" height="2.23" fill="#d7b0ce"/><rect x="15.7" y="215.79" width="12.5" height="2.23" fill="#da4854"/><rect x="27.9" y="215.79" width="12.5" height="2.23" fill="#cc1b27"/><rect x="40.1" y="215.79" width="12.5" height="2.23" fill="#d12b37"/><rect x="52.3" y="215.79" width="12.5" height="2.23" fill="#cf2632"/><rect x="64.5" y="215.79" width="12.5" height="2.23" fill="#8477c4"/><rect x="76.7" y="215.79" width="12.5" height="2.23" fill="#8578c4"/><rect x="88.9" y="215.79" width="12.5" height="2.23" fill="#9083ca"/><rect x="101.1" y="215.79" width="12.2" height="2.23" fill="#43399f"/><rect x="15.7" y="217.77" width="12.5" height="2.23" fill="#e7808b"/><rect x="27.9" y="217.77" width="12.5" height="2.23" fill="#df5864"/><rect x="40.1" y="217.77" width="12.5" height="2.23" fill="#cd212d"/><rect x="52.3" y="217.77" width="12.5" height="2.23" fill="#d63b47"/><rect x="64.5" y="217.77" width="12.5" height="2.23" fill="#4e43a6"/><rect x="76.7" y="217.77" width="12.5" height="2.23" fill="#8e81c9"/><rect x="88.9" y="217.77" width="12.5" height="2.23" fill="#372d96"/><rect x="101.1" y="217.77" width="12.2" height="2.23" fill="#6459b5"/><rect x="15.7" y="219.74" width="12.5" height="2.23" fill="#d22e3a"/><rect x="27.9" y="219.74" width="12.5" height="2.23" fill="#d9434f"/><rect x="40.1" y="219.74" width="12.5" height="2.23" fill="#df5965"/><rect x="52.3" y="219.74" width="12.5" height="2.23" fill="#cc1d29"/><rect x="64.5" y="219.74" width="12.5" height="2.23" fill="#473ca1"/><rect x="76.7" y="219.74" width="12.5" height="2.23" fill="#8a7dc7"/><rect x="88.9" y="219.74" width="12.5" height="2.23" fill="#4a40a4"/><rect x="101.1" y="219.74" width="12.2" height="2.23" fill="#41369d"/><rect x="15.7" y="221.72" width="12.5" height="2.23" fill="#cf2632"/><rect x="27.9" y="221.72" width="12.5" height="2.23" fill="#db4a56"/><rect x="40.1" y="221.72" width="12.5" height="2.23" fill="#dd525e"/><rect x="52.3" y="221.72" width="12.5" height="2.23" fill="#ca1723"/><rect x="64.5" y="221.72" width="12.5" height="2.23" fill="#7d70c0"/><rect x="76.7" y="221.72" width="12.5" height="2.23" fill="#584dad"/><rect x="88.9" y="221.72" width="12.5" height="2.23" fill="#40369d"/><rect x="101.1" y="221.72" width="12.2" height="2.23" fill="#aa8cc8"/><rect x="15.7" y="223.7" width="12.5" height="2.23" fill="#e26773"/><rect x="27.9" y="223.7" width="12.5" height="2.23" fill="#cc1d29"/><rect x="40.1" y="223.7" width="12.5" height="2.23" fill="#ea8d97"/><rect x="52.3" y="223.7" width="12.5" height="2.23" fill="#cf2531"/><rect x="64.5" y="223.7" width="12.5" height="2.23" fill="#5d51b0"/><rect x="76.7" y="223.7" width="12.5" height="2.23" fill="#bdafde"/><rect x="88.9" y="223.7" width="12.5" height="2.23" fill="#988bcd"/><rect x="101.1" y="223.7" width="12.2" height="2.23" fill="#6458b4"/><rect x="15.7" y="225.67" width="12.5" height="2.23" fill="#e1626e"/><rect x="27.9" y="225.67" width="12.5" height="2.23" fill="#e36e7a"/><rect x="40.1" y="225.67" width="12.5" height="2.23" fill="#e26671"/><rect x="52.3" y="225.67" width="12.5" height="2.23" fill="#d2303c"/><rect x="64.5" y="225.67" width="12.5" height="2.23" fill="#463ba0"/><rect x="76.7" y="225.67" width="12.5" height="2.23" fill="#8073c2"/><rect x="88.9" y="225.67" width="12.5" height="2.23" fill="#c7b9e1"/><rect x="101.1" y="225.67" width="12.2" height="2.23" fill="#5e52b0"/><rect x="15.7" y="227.65" width="12.5" height="2.23" fill="#e77e89"/><rect x="27.9" y="227.65" width="12.5" height="2.23" fill="#d53743"/><rect x="40.1" y="227.65" width="12.5" height="2.23" fill="#cc1c28"/><rect x="52.3" y="227.65" width="12.5" height="2.23" fill="#f0b0ba"/><rect x="64.5" y="227.65" width="12.5" height="2.23" fill="#bdafde"/><rect x="76.7" y="227.65" width="12.5" height="2.23" fill="#c4b6e0"/><rect x="88.9" y="227.65" width="12.5" height="2.23" fill="#5347a9"/><rect x="101.1" y="227.65" width="12.2" height="2.23" fill="#382e97"/><rect x="15.7" y="229.62" width="12.5" height="1.98" fill="#e98b96"/><rect x="27.9" y="229.62" width="12.5" height="1.98" fill="#e16570"/><rect x="40.1" y="229.62" width="12.5" height="1.98" fill="#d12d39"/><rect x="52.3" y="229.62" width="12.5" height="1.98" fill="#d53743"/><rect x="64.5" y="229.62" width="12.5" height="1.98" fill="#453aa0"/><rect x="76.7" y="229.62" width="12.5" height="1.98" fill="#7468bd"/><rect x="88.9" y="229.62" width="12.5" height="1.98" fill="#362c96"/><rect x="101.1" y="229.62" width="12.2" height="1.98" fill="#e4d6ec"/><rect x="15.7" y="231.6" width="12.5" height="2.23" fill="#382e98"/><rect x="27.9" y="231.6" width="12.5" height="2.23" fill="#4d42a5"/><rect x="40.1" y="231.6" width="12.5" height="2.23" fill="#3d339b"/><rect x="52.3" y="231.6" width="12.5" height="2.23" fill="#4d42a5"/><rect x="64.5" y="231.6" width="12.5" height="2.23" fill="#e7808b"/><rect x="76.7" y="231.6" width="12.5" height="2.23" fill="#cd202c"/><rect x="88.9" y="231.6" width="12.5" height="2.23" fill="#da4854"/><rect x="101.1" y="231.6" width="12.2" height="2.23" fill="#ed9fa9"/><rect x="15.7" y="233.58" width="12.5" height="2.23" fill="#a99bd5"/><rect x="27.9" y="233.58" width="12.5" height="2.23" fill="#baacdd"/><rect x="40.1" y="233.58" width="12.5" height="2.23" fill="#9a8dce"/><rect x="52.3" y="233.58" width="12.5" height="2.23" fill="#b696ce"/><rect x="64.5" y="233.58" width="12.5" height="2.23" fill="#d2303c"/><rect x="76.7" y="233.58" width="12.5" height="2.23" fill="#d3333f"/><rect x="88.9" y="233.58" width="12.5" height="2.23" fill="#d02935"/><rect x="101.1" y="233.58" width="12.2" height="2.23" fill="#ca1723"/><rect x="15.7" y="235.56" width="12.5" height="2.23" fill="#8073c2"/><rect x="27.9" y="235.56" width="12.5" height="2.23" fill="#8377c4"/><rect x="40.1" y="235.56" width="12.5" height="2.23" fill="#6e62ba"/><rect x="52.3" y="235.56" width="12.5" height="2.23" fill="#b4a7da"/><rect x="64.5" y="235.56" width="12.5" height="2.23" fill="#d22f3b"/><rect x="76.7" y="235.56" width="12.5" height="2.23" fill="#d63a46"/><rect x="88.9" y="235.56" width="12.5" height="2.23" fill="#e1626e"/><rect x="101.1" y="235.56" width="12.2" height="2.23" fill="#f0b1bb"/><rect x="15.7" y="237.54" width="12.5" height="2.23" fill="#9083ca"/><rect x="27.9" y="237.54" width="12.5" height="2.23" fill="#c1b3df"/><rect x="40.1" y="237.54" width="12.5" height="2.23" fill="#6155b2"/><rect x="52.3" y="237.54" width="12.5" height="2.23" fill="#5b50af"/><rect x="64.5" y="237.54" width="12.5" height="2.23" fill="#cb1824"/><rect x="76.7" y="237.54" width="12.5" height="2.23" fill="#d63d49"/><rect x="88.9" y="237.54" width="12.5" height="2.23" fill="#e7808b"/><rect x="101.1" y="237.54" width="12.2" height="2.23" fill="#df5a65"/><rect x="15.7" y="239.52" width="12.5" height="2.23" fill="#b0a2d8"/><rect x="27.9" y="239.52" width="12.5" height="2.23" fill="#7468bd"/><rect x="40.1" y="239.52" width="12.5" height="2.23" fill="#372c96"/><rect x="52.3" y="239.52" width="12.5" height="2.23" fill="#6256b3"/><rect x="64.5" y="239.52" width="12.5" height="2.23" fill="#db4c58"/><rect x="76.7" y="239.52" width="12.5" height="2.23" fill="#d73f4b"/><rect x="88.9" y="239.52" width="12.5" height="2.23" fill="#d12c38"/><rect x="101.1" y="239.52" width="12.2" height="2.23" fill="#f4cdd6"/><rect x="15.7" y="241.5" width="12.5" height="2.23" fill="#8d80c8"/><rect x="27.9" y="241.5" width="12.5" height="2.23" fill="#6e62ba"/><rect x="40.1" y="241.5" width="12.5" height="2.23" fill="#a092d1"/><rect x="52.3" y="241.5" width="12.5" height="2.23" fill="#3c329a"/><rect x="64.5" y="241.5" width="12.5" height="2.23" fill="#d2303c"/><rect x="76.7" y="241.5" width="12.5" height="2.23" fill="#e88691"/><rect x="88.9" y="241.5" width="12.5" height="2.23" fill="#d22f3b"/><rect x="101.1" y="241.5" width="12.2" height="2.23" fill="#f2c1ca"/><rect x="15.7" y="243.48" width="12.5" height="2.23" fill="#382e97"/><rect x="27.9" y="243.48" width="12.5" height="2.23" fill="#655ab6"/><rect x="40.1" y="243.48" width="12.5" height="2.23" fill="#9d90cf"/><rect x="52.3" y="243.48" width="12.5" height="2.23" fill="#afa1d8"/><rect x="64.5" y="243.48" width="12.5" height="2.23" fill="#d3313d"/><rect x="76.7" y="243.48" width="12.5" height="2.23" fill="#d22d39"/><rect x="88.9" y="243.48" width="12.5" height="2.23" fill="#ca1622"/><rect x="101.1" y="243.48" width="12.2" height="2.23" fill="#d7b0ce"/><rect x="15.7" y="245.46" width="12.5" height="2.23" fill="#453ba0"/><rect x="27.9" y="245.46" width="12.5" height="2.23" fill="#372d97"/><rect x="40.1" y="245.46" width="12.5" height="2.23" fill="#b3a5d9"/><rect x="52.3" y="245.46" width="12.5" height="2.23" fill="#382e97"/><rect x="64.5" y="245.46" width="12.5" height="2.23" fill="#cb1a26"/><rect x="76.7" y="245.46" width="12.5" height="2.23" fill="#d63a46"/><rect x="88.9" y="245.46" width="12.5" height="2.23" fill="#e26671"/><rect x="101.1" y="245.46" width="12.2" height="2.23" fill="#e36c77"/><rect x="15.7" y="247.44" width="12.5" height="2.23" fill="#baacdd"/><rect x="27.9" y="247.44" width="12.5" height="2.23" fill="#9e91d0"/><rect x="40.1" y="247.44" width="12.5" height="2.23" fill="#b6a8db"/><rect x="52.3" y="247.44" width="12.5" height="2.23" fill="#4e43a6"/><rect x="64.5" y="247.44" width="12.5" height="2.23" fill="#cd1e2a"/><rect x="76.7" y="247.44" width="12.5" height="2.23" fill="#e67a85"/><rect x="88.9" y="247.44" width="12.5" height="2.23" fill="#cf2733"/><rect x="101.1" y="247.44" width="12.2" height="2.23" fill="#de535f"/><rect x="15.7" y="249.42" width="12.5" height="2.23" fill="#b9abdc"/><rect x="27.9" y="249.42" width="12.5" height="2.23" fill="#5d51b0"/><rect x="40.1" y="249.42" width="12.5" height="2.23" fill="#4b40a4"/><rect x="52.3" y="249.42" width="12.5" height="2.23" fill="#41379d"/><rect x="64.5" y="249.42" width="12.5" height="2.23" fill="#eea5af"/><rect x="76.7" y="249.42" width="12.5" height="2.23" fill="#cf2733"/><rect x="88.9" y="249.42" width="12.5" height="2.23" fill="#d53743"/><rect x="101.1" y="249.42" width="12.2" height="2.23" fill="#aa8cc8"/><rect x="15.7" y="251.4" width="12.5" height="2.23" fill="#5c51b0"/><rect x="27.9" y="251.4" width="12.5" height="2.23" fill="#c8bae2"/><rect x="40.1" y="251.4" width="12.5" height="2.23" fill="#b2a4d9"/><rect x="52.3" y="251.4" width="12.5" height="2.23" fill="#3d339b"/><rect x="64.5" y="251.4" width="12.5" height="2.23" fill="#ce2430"/><rect x="76.7" y="251.4" width="12.5" height="2.23" fill="#d12b37"/><rect x="88.9" y="251.4" width="12.5" height="2.23" fill="#db4955"/><rect x="101.1" y="251.4" width="12.2" height="2.23" fill="#e88590"/><rect x="15.7" y="253.38" width="12.5" height="2.23" fill="#3e349b"/><rect x="27.9" y="253.38" width="12.5" height="2.23" fill="#eadcee"/><rect x="40.1" y="253.38" width="12.5" height="2.23" fill="#b5a7db"/><rect x="52.3" y="253.38" width="12.5" height="2.23" fill="#6f63ba"/><rect x="64.5" y="253.38" width="12.5" height="2.23" fill="#dd515d"/><rect x="76.7" y="253.38" width="12.5" height="2.23" fill="#cf2733"/><rect x="88.9" y="253.38" width="12.5" height="2.23" fill="#e46f7b"/><rect x="101.1" y="253.38" width="12.2" height="2.23" fill="#f1b9c2"/><rect x="15.7" y="255.36" width="12.5" height="2.23" fill="#3f359c"/><rect x="27.9" y="255.36" width="12.5" height="2.23" fill="#3b3099"/><rect x="40.1" y="255.36" width="12.5" height="2.23" fill="#eadcef"/><rect x="52.3" y="255.36" width="12.5" height="2.23" fill="#e5d7ed"/><rect x="64.5" y="255.36" width="12.5" height="2.23" fill="#f6dbe3"/><rect x="76.7" y="255.36" width="12.5" height="2.23" fill="#e1616d"/><rect x="88.9" y="255.36" width="12.5" height="2.23" fill="#e4717c"/><rect x="101.1" y="255.36" width="12.2" height="2.23" fill="#d3323e"/><rect x="15.7" y="257.34" width="12.5" height="2.23" fill="#43399f"/><rect x="27.9" y="257.34" width="12.5" height="2.23" fill="#5247a9"/><rect x="40.1" y="257.34" width="12.5" height="2.23" fill="#40369d"/><rect x="52.3" y="257.34" width="12.5" height="2.23" fill="#3c329a"/><rect x="64.5" y="257.34" width="12.5" height="2.23" fill="#eb96a0"/><rect x="76.7" y="257.34" width="12.5" height="2.23" fill="#d22e3a"/><rect x="88.9" y="257.34" width="12.5" height="2.23" fill="#db4a56"/><rect x="101.1" y="257.34" width="12.2" height="2.23" fill="#d12c38"/><rect x="15.7" y="259.32" width="12.5" height="2.23" fill="#4d42a6"/><rect x="27.9" y="259.32" width="12.5" height="2.23" fill="#7266bb"/><rect x="40.1" y="259.32" width="12.5" height="2.23" fill="#4f44a7"/><rect x="52.3" y="259.32" width="12.5" height="2.23" fill="#4a3fa3"/><rect x="64.5" y="259.32" width="12.5" height="2.23" fill="#d12b37"/><rect x="76.7" y="259.32" width="12.5" height="2.23" fill="#df5965"/><rect x="88.9" y="259.32" width="12.5" height="2.23" fill="#d22e3a"/><rect x="101.1" y="259.32" width="12.2" height="2.23" fill="#cda0c3"/><rect x="15.7" y="261.3" width="12.5" height="2.23" fill="#8b7ec7"/><rect x="27.9" y="261.3" width="12.5" height="2.23" fill="#7c70c0"/><rect x="40.1" y="261.3" width="12.5" height="2.23" fill="#6256b3"/><rect x="52.3" y="261.3" width="12.5" height="2.23" fill="#bbaddd"/><rect x="64.5" y="261.3" width="12.5" height="2.23" fill="#cd1e2a"/><rect x="76.7" y="261.3" width="12.5" height="2.23" fill="#ed9ea8"/><rect x="88.9" y="261.3" width="12.5" height="2.23" fill="#d94450"/><rect x="101.1" y="261.3" width="12.2" height="2.23" fill="#cc1c28"/><rect x="15.7" y="263.29" width="12.5" height="2.23" fill="#3c329a"/><rect x="27.9" y="263.29" width="12.5" height="2.23" fill="#43389e"/><rect x="40.1" y="263.29" width="12.5" height="2.23" fill="#3d339b"/><rect x="52.3" y="263.29" width="12.5" height="2.23" fill="#8b7ec7"/><rect x="64.5" y="263.29" width="12.5" height="2.23" fill="#f2bdc6"/><rect x="76.7" y="263.29" width="12.5" height="2.23" fill="#dc4c58"/><rect x="88.9" y="263.29" width="12.5" height="2.23" fill="#ce232f"/><rect x="101.1" y="263.29" width="12.2" height="2.23" fill="#cb1a26"/><rect x="15.7" y="265.27" width="12.5" height="2.23" fill="#6256b3"/><rect x="27.9" y="265.27" width="12.5" height="2.23" fill="#584dad"/><rect x="40.1" y="265.27" width="12.5" height="2.23" fill="#b0a2d8"/><rect x="52.3" y="265.27" width="12.5" height="2.23" fill="#675bb6"/><rect x="64.5" y="265.27" width="12.5" height="2.23" fill="#cc1b27"/><rect x="76.7" y="265.27" width="12.5" height="2.23" fill="#dc4f5b"/><rect x="88.9" y="265.27" width="12.5" height="2.23" fill="#eea1ab"/><rect x="101.1" y="265.27" width="12.2" height="2.23" fill="#e1bed7"/><rect x="15.7" y="267.25" width="12.5" height="2.23" fill="#8f82c9"/><rect x="27.9" y="267.25" width="12.5" height="2.23" fill="#4f44a7"/><rect x="40.1" y="267.25" width="12.5" height="2.23" fill="#483da2"/><rect x="52.3" y="267.25" width="12.5" height="2.23" fill="#392f98"/><rect x="64.5" y="267.25" width="12.5" height="2.23" fill="#d43440"/><rect x="76.7" y="267.25" width="12.5" height="2.23" fill="#e57681"/><rect x="88.9" y="267.25" width="12.5" height="2.23" fill="#db4b57"/><rect x="101.1" y="267.25" width="12.2" height="2.23" fill="#dc4f5b"/><rect x="15.7" y="269.23" width="12.5" height="2.23" fill="#44399f"/><rect x="27.9" y="269.23" width="12.5" height="2.23" fill="#7e71c1"/><rect x="40.1" y="269.23" width="12.5" height="2.23" fill="#43399f"/><rect x="52.3" y="269.23" width="12.5" height="2.23" fill="#cda0c3"/><rect x="64.5" y="269.23" width="12.5" height="2.23" fill="#e26672"/><rect x="76.7" y="269.23" width="12.5" height="2.23" fill="#dd515d"/><rect x="88.9" y="269.23" width="12.5" height="2.23" fill="#ce232f"/><rect x="101.1" y="269.23" width="12.2" height="2.23" fill="#cf2632"/><rect x="15.7" y="271.21" width="12.5" height="2.23" fill="#4e43a6"/><rect x="27.9" y="271.21" width="12.5" height="2.23" fill="#5f53b1"/><rect x="40.1" y="271.21" width="12.5" height="2.23" fill="#4a3fa3"/><rect x="52.3" y="271.21" width="12.5" height="2.23" fill="#3a3099"/><rect x="64.5" y="271.21" width="12.5" height="2.23" fill="#e26571"/><rect x="76.7" y="271.21" width="12.5" height="2.23" fill="#cd202c"/><rect x="88.9" y="271.21" width="12.5" height="2.23" fill="#ca1622"/><rect x="101.1" y="271.21" width="12.2" height="2.23" fill="#e1626d"/><rect x="15.7" y="273.19" width="12.5" height="2.23" fill="#6054b2"/><rect x="27.9" y="273.19" width="12.5" height="2.23" fill="#bdafde"/><rect x="40.1" y="273.19" width="12.5" height="2.23" fill="#40359c"/><rect x="52.3" y="273.19" width="12.5" height="2.23" fill="#3f349c"/><rect x="64.5" y="273.19" width="12.5" height="2.23" fill="#f4cdd6"/><rect x="76.7" y="273.19" width="12.5" height="2.23" fill="#d12b37"/><rect x="88.9" y="273.19" width="12.5" height="2.23" fill="#d43541"/><rect x="101.1" y="273.19" width="12.2" height="2.23" fill="#ce232f"/><rect x="15.7" y="275.17" width="12.5" height="2.23" fill="#a89ad4"/><rect x="27.9" y="275.17" width="12.5" height="2.23" fill="#6c5fb9"/><rect x="40.1" y="275.17" width="12.5" height="2.23" fill="#41379d"/><rect x="52.3" y="275.17" width="12.5" height="2.23" fill="#6357b4"/><rect x="64.5" y="275.17" width="12.5" height="2.23" fill="#efa9b3"/><rect x="76.7" y="275.17" width="12.5" height="2.23" fill="#d3323e"/><rect x="88.9" y="275.17" width="12.5" height="2.23" fill="#efa9b2"/><rect x="101.1" y="275.17" width="12.2" height="2.23" fill="#ce222e"/><rect x="15.7" y="277.15" width="12.5" height="2.23" fill="#c6b8e1"/><rect x="27.9" y="277.15" width="12.5" height="2.23" fill="#463ca1"/><rect x="40.1" y="277.15" width="12.5" height="2.23" fill="#463ba0"/><rect x="52.3" y="277.15" width="12.5" height="2.23" fill="#c1b3df"/><rect x="64.5" y="277.15" width="12.5" height="2.23" fill="#ce232f"/><rect x="76.7" y="277.15" width="12.5" height="2.23" fill="#dc4f5b"/><rect x="88.9" y="277.15" width="12.5" height="2.23" fill="#e26a75"/><rect x="101.1" y="277.15" width="12.2" height="2.23" fill="#d53743"/><rect x="15.7" y="279.13" width="12.5" height="2.23" fill="#6d61b9"/><rect x="27.9" y="279.13" width="12.5" height="2.23" fill="#877ac5"/><rect x="40.1" y="279.13" width="12.5" height="2.23" fill="#463ca1"/><rect x="52.3" y="279.13" width="12.5" height="2.23" fill="#473ca1"/><rect x="64.5" y="279.13" width="12.5" height="2.23" fill="#d53743"/><rect x="76.7" y="279.13" width="12.5" height="2.23" fill="#d53743"/><rect x="88.9" y="279.13" width="12.5" height="2.23" fill="#ec9aa5"/><rect x="101.1" y="279.13" width="12.2" height="2.23" fill="#eea0aa"/><rect x="15.7" y="281.11" width="12.5" height="2.23" fill="#554aab"/><rect x="27.9" y="281.11" width="12.5" height="2.23" fill="#beb0de"/><rect x="40.1" y="281.11" width="12.5" height="2.23" fill="#7266bc"/><rect x="52.3" y="281.11" width="12.5" height="2.23" fill="#a395d2"/><rect x="64.5" y="281.11" width="12.5" height="2.23" fill="#ea909a"/><rect x="76.7" y="281.11" width="12.5" height="2.23" fill="#dd515d"/><rect x="88.9" y="281.11" width="12.5" height="2.23" fill="#efabb5"/><rect x="101.1" y="281.11" width="12.2" height="2.23" fill="#eea4ae"/><rect x="15.7" y="283.09" width="12.5" height="2.23" fill="#baacdd"/><rect x="27.9" y="283.09" width="12.5" height="2.23" fill="#d4c6e6"/><rect x="40.1" y="283.09" width="12.5" height="2.23" fill="#7568bd"/><rect x="52.3" y="283.09" width="12.5" height="2.23" fill="#b9abdc"/><rect x="64.5" y="283.09" width="12.5" height="2.23" fill="#d3313d"/><rect x="76.7" y="283.09" width="12.5" height="2.23" fill="#d63d49"/><rect x="88.9" y="283.09" width="12.5" height="2.23" fill="#d2303c"/><rect x="101.1" y="283.09" width="12.2" height="2.23" fill="#d02935"/><rect x="15.7" y="285.07" width="12.5" height="2.23" fill="#8578c4"/><rect x="27.9" y="285.07" width="12.5" height="2.23" fill="#6f62ba"/><rect x="40.1" y="285.07" width="12.5" height="2.23" fill="#776abe"/><rect x="52.3" y="285.07" width="12.5" height="2.23" fill="#897cc6"/><rect x="64.5" y="285.07" width="12.5" height="2.23" fill="#dd525e"/><rect x="76.7" y="285.07" width="12.5" height="2.23" fill="#e98b95"/><rect x="88.9" y="285.07" width="12.5" height="2.23" fill="#e57782"/><rect x="101.1" y="285.07" width="12.2" height="2.23" fill="#e1bed7"/><rect x="15.7" y="287.05" width="12.5" height="2.23" fill="#3c329a"/><rect x="27.9" y="287.05" width="12.5" height="2.23" fill="#4d42a6"/><rect x="40.1" y="287.05" width="12.5" height="2.23" fill="#4b40a4"/><rect x="52.3" y="287.05" width="12.5" height="2.23" fill="#cda0c3"/><rect x="64.5" y="287.05" width="12.5" height="2.23" fill="#cc1d29"/><rect x="76.7" y="287.05" width="12.5" height="2.23" fill="#efa8b1"/><rect x="88.9" y="287.05" width="12.5" height="2.23" fill="#d3333f"/><rect x="101.1" y="287.05" width="12.2" height="2.23" fill="#cc1d29"/><rect x="15.7" y="289.03" width="12.5" height="2.23" fill="#4c41a5"/><rect x="27.9" y="289.03" width="12.5" height="2.23" fill="#5549aa"/><rect x="40.1" y="289.03" width="12.5" height="2.23" fill="#6559b5"/><rect x="52.3" y="289.03" width="12.5" height="2.23" fill="#5b50af"/><rect x="64.5" y="289.03" width="12.5" height="2.23" fill="#cb1a26"/><rect x="76.7" y="289.03" width="12.5" height="2.23" fill="#d2303c"/><rect x="88.9" y="289.03" width="12.5" height="2.23" fill="#d73e4a"/><rect x="101.1" y="289.03" width="12.2" height="2.23" fill="#d43440"/><rect x="15.7" y="291.01" width="12.5" height="2.23" fill="#4e43a6"/><rect x="27.9" y="291.01" width="12.5" height="2.23" fill="#5146a8"/><rect x="40.1" y="291.01" width="12.5" height="2.23" fill="#b8aadc"/><rect x="52.3" y="291.01" width="12.5" height="2.23" fill="#6f63ba"/><rect x="64.5" y="291.01" width="12.5" height="2.23" fill="#d02834"/><rect x="76.7" y="291.01" width="12.5" height="2.23" fill="#d02834"/><rect x="88.9" y="291.01" width="12.5" height="2.23" fill="#d2303c"/><rect x="101.1" y="291.01" width="12.2" height="2.23" fill="#da4652"/><rect x="15.7" y="292.99" width="12.5" height="2.23" fill="#6f62ba"/><rect x="27.9" y="292.99" width="12.5" height="2.23" fill="#5f54b2"/><rect x="40.1" y="292.99" width="12.5" height="2.23" fill="#3e349b"/><rect x="52.3" y="292.99" width="12.5" height="2.23" fill="#4b40a4"/><rect x="64.5" y="292.99" width="12.5" height="2.23" fill="#cd212d"/><rect x="76.7" y="292.99" width="12.5" height="2.23" fill="#cb1a26"/><rect x="88.9" y="292.99" width="12.5" height="2.23" fill="#cd1f2b"/><rect x="101.1" y="292.99" width="12.2" height="2.23" fill="#e36b77"/><rect x="15.7" y="294.97" width="12.5" height="2.23" fill="#463ba0"/><rect x="27.9" y="294.97" width="12.5" height="2.23" fill="#44399f"/><rect x="40.1" y="294.97" width="12.5" height="2.23" fill="#362c96"/><rect x="52.3" y="294.97" width="12.5" height="2.23" fill="#a698d3"/><rect x="64.5" y="294.97" width="12.5" height="2.23" fill="#d53743"/><rect x="76.7" y="294.97" width="12.5" height="2.23" fill="#de5460"/><rect x="88.9" y="294.97" width="12.5" height="2.23" fill="#d9434f"/><rect x="101.1" y="294.97" width="12.2" height="2.23" fill="#db4c58"/><rect x="15.7" y="296.95" width="12.5" height="2.23" fill="#9a8dce"/><rect x="27.9" y="296.95" width="12.5" height="2.23" fill="#3b319a"/><rect x="40.1" y="296.95" width="12.5" height="2.23" fill="#7266bb"/><rect x="52.3" y="296.95" width="12.5" height="2.23" fill="#41369d"/><rect x="64.5" y="296.95" width="12.5" height="2.23" fill="#efa9b3"/><rect x="76.7" y="296.95" width="12.5" height="2.23" fill="#d22e3a"/><rect x="88.9" y="296.95" width="12.5" height="2.23" fill="#d53743"/><rect x="101.1" y="296.95" width="12.2" height="2.23" fill="#d7b0ce"/><rect x="15.7" y="298.93" width="12.5" height="2.23" fill="#b6a8db"/><rect x="27.9" y="298.93" width="12.5" height="2.23" fill="#988bcd"/><rect x="40.1" y="298.93" width="12.5" height="2.23" fill="#483ea2"/><rect x="52.3" y="298.93" width="12.5" height="2.23" fill="#6256b3"/><rect x="64.5" y="298.93" width="12.5" height="2.23" fill="#d02a36"/><rect x="76.7" y="298.93" width="12.5" height="2.23" fill="#d63a46"/><rect x="88.9" y="298.93" width="12.5" height="2.23" fill="#ea8e98"/><rect x="101.1" y="298.93" width="12.2" height="2.23" fill="#cf2430"/><rect x="15.7" y="300.91" width="12.5" height="2.23" fill="#9b8ece"/><rect x="27.9" y="300.91" width="12.5" height="2.23" fill="#43389f"/><rect x="40.1" y="300.91" width="12.5" height="2.23" fill="#3a3099"/><rect x="52.3" y="300.91" width="12.5" height="2.23" fill="#b2a4d9"/><rect x="64.5" y="300.91" width="12.5" height="2.23" fill="#f0afb9"/><rect x="76.7" y="300.91" width="12.5" height="2.23" fill="#efa7b1"/><rect x="88.9" y="300.91" width="12.5" height="2.23" fill="#d02733"/><rect x="101.1" y="300.91" width="12.2" height="2.23" fill="#d7b0ce"/><rect x="15.7" y="302.89" width="12.5" height="2.23" fill="#6a5eb8"/><rect x="27.9" y="302.89" width="12.5" height="2.23" fill="#7e71c1"/><rect x="40.1" y="302.89" width="12.5" height="2.23" fill="#4f44a6"/><rect x="52.3" y="302.89" width="12.5" height="2.23" fill="#463ba1"/><rect x="64.5" y="302.89" width="12.5" height="2.23" fill="#d12d39"/><rect x="76.7" y="302.89" width="12.5" height="2.23" fill="#ca1723"/><rect x="88.9" y="302.89" width="12.5" height="2.23" fill="#d73f4b"/><rect x="101.1" y="302.89" width="12.2" height="2.23" fill="#f0adb7"/><rect x="15.7" y="304.87" width="12.5" height="2.23" fill="#584cac"/><rect x="27.9" y="304.87" width="12.5" height="2.23" fill="#3e349c"/><rect x="40.1" y="304.87" width="12.5" height="2.23" fill="#9588cc"/><rect x="52.3" y="304.87" width="12.5" height="2.23" fill="#aa8cc8"/><rect x="64.5" y="304.87" width="12.5" height="2.23" fill="#d12c38"/><rect x="76.7" y="304.87" width="12.5" height="2.23" fill="#e98893"/><rect x="88.9" y="304.87" width="12.5" height="2.23" fill="#cb1824"/><rect x="101.1" y="304.87" width="12.2" height="2.23" fill="#d7b0ce"/><rect x="15.7" y="306.85" width="12.5" height="2.23" fill="#bdafde"/><rect x="27.9" y="306.85" width="12.5" height="2.23" fill="#463ca1"/><rect x="40.1" y="306.85" width="12.5" height="2.23" fill="#5e52b1"/><rect x="52.3" y="306.85" width="12.5" height="2.23" fill="#483da2"/><rect x="64.5" y="306.85" width="12.5" height="2.23" fill="#f3c6cf"/><rect x="76.7" y="306.85" width="12.5" height="2.23" fill="#cc1c28"/><rect x="88.9" y="306.85" width="12.5" height="2.23" fill="#cb1925"/><rect x="101.1" y="306.85" width="12.2" height="2.23" fill="#dc4c58"/><rect x="15.7" y="308.83" width="12.5" height="2.23" fill="#a194d2"/><rect x="27.9" y="308.83" width="12.5" height="2.23" fill="#998cce"/><rect x="40.1" y="308.83" width="12.5" height="2.23" fill="#ac9ed6"/><rect x="52.3" y="308.83" width="12.5" height="2.23" fill="#c4b6e1"/><rect x="64.5" y="308.83" width="12.5" height="2.23" fill="#e05f6b"/><rect x="76.7" y="308.83" width="12.5" height="2.23" fill="#d43541"/><rect x="88.9" y="308.83" width="12.5" height="2.23" fill="#cb1a26"/><rect x="101.1" y="308.83" width="12.2" height="2.23" fill="#df5864"/><rect x="15.7" y="310.81" width="12.5" height="2.23" fill="#6357b4"/><rect x="27.9" y="310.81" width="12.5" height="2.23" fill="#6256b3"/><rect x="40.1" y="310.81" width="12.5" height="2.23" fill="#3a3099"/><rect x="52.3" y="310.81" width="12.5" height="2.23" fill="#b7a9dc"/><rect x="64.5" y="310.81" width="12.5" height="2.23" fill="#db4955"/><rect x="76.7" y="310.81" width="12.5" height="2.23" fill="#e05f6a"/><rect x="88.9" y="310.81" width="12.5" height="2.23" fill="#ed9fa9"/><rect x="101.1" y="310.81" width="12.2" height="2.23" fill="#cb1925"/><rect x="15.7" y="312.79" width="12.5" height="2.23" fill="#372d97"/><rect x="27.9" y="312.79" width="12.5" height="2.23" fill="#3b3099"/><rect x="40.1" y="312.79" width="12.5" height="2.23" fill="#9a8dce"/><rect x="52.3" y="312.79" width="12.5" height="2.23" fill="#a295d2"/><rect x="64.5" y="312.79" width="12.5" height="2.23" fill="#cf2632"/><rect x="76.7" y="312.79" width="12.5" height="2.23" fill="#d12c38"/><rect x="88.9" y="312.79" width="12.5" height="2.23" fill="#d63a46"/><rect x="101.1" y="312.79" width="12.2" height="2.23" fill="#b696ce"/><rect x="15.7" y="314.77" width="12.5" height="2.23" fill="#3d339b"/><rect x="27.9" y="314.77" width="12.5" height="2.23" fill="#a294d2"/><rect x="40.1" y="314.77" width="12.5" height="2.23" fill="#5045a7"/><rect x="52.3" y="314.77" width="12.5" height="2.23" fill="#ac9ed6"/><rect x="64.5" y="314.77" width="12.5" height="2.23" fill="#eea5af"/><rect x="76.7" y="314.77" width="12.5" height="2.23" fill="#d22f3b"/><rect x="88.9" y="314.77" width="12.5" height="2.23" fill="#d22e3a"/><rect x="101.1" y="314.77" width="12.2" height="2.23" fill="#e05f6b"/><rect x="15.7" y="316.75" width="12.5" height="2.23" fill="#493ea2"/><rect x="27.9" y="316.75" width="12.5" height="2.23" fill="#5f53b1"/><rect x="40.1" y="316.75" width="12.5" height="2.23" fill="#3c329a"/><rect x="52.3" y="316.75" width="12.5" height="2.23" fill="#5348aa"/><rect x="64.5" y="316.75" width="12.5" height="2.23" fill="#cc1c28"/><rect x="76.7" y="316.75" width="12.5" height="2.23" fill="#eb929d"/><rect x="88.9" y="316.75" width="12.5" height="2.23" fill="#d63d49"/><rect x="101.1" y="316.75" width="12.2" height="2.23" fill="#d53743"/><rect x="15.7" y="318.73" width="12.5" height="2.23" fill="#594eae"/><rect x="27.9" y="318.73" width="12.5" height="2.23" fill="#4f44a7"/><rect x="40.1" y="318.73" width="12.5" height="2.23" fill="#aa9cd5"/><rect x="52.3" y="318.73" width="12.5" height="2.23" fill="#5c50af"/><rect x="64.5" y="318.73" width="12.5" height="2.23" fill="#e36a76"/><rect x="76.7" y="318.73" width="12.5" height="2.23" fill="#f2c0c9"/><rect x="88.9" y="318.73" width="12.5" height="2.23" fill="#cf2733"/><rect x="101.1" y="318.73" width="12.2" height="2.23" fill="#b696ce"/><rect x="15.7" y="320.71" width="12.5" height="2.23" fill="#3f359c"/><rect x="27.9" y="320.71" width="12.5" height="2.23" fill="#40369d"/><rect x="40.1" y="320.71" width="12.5" height="2.23" fill="#392f98"/><rect x="52.3" y="320.71" width="12.5" height="2.23" fill="#463ba1"/><rect x="64.5" y="320.71" width="12.5" height="2.23" fill="#cd202c"/><rect x="76.7" y="320.71" width="12.5" height="2.23" fill="#d3313d"/><rect x="88.9" y="320.71" width="12.5" height="2.23" fill="#d8414d"/><rect x="101.1" y="320.71" width="12.2" height="2.23" fill="#d43440"/><rect x="15.7" y="322.7" width="12.5" height="2.23" fill="#a496d3"/><rect x="27.9" y="322.7" width="12.5" height="2.23" fill="#4b40a4"/><rect x="40.1" y="322.7" width="12.5" height="2.23" fill="#3e339b"/><rect x="52.3" y="322.7" width="12.5" height="2.23" fill="#ac9ed6"/><rect x="64.5" y="322.7" width="12.5" height="2.23" fill="#ce232f"/><rect x="76.7" y="322.7" width="12.5" height="2.23" fill="#f0b1bb"/><rect x="88.9" y="322.7" width="12.5" height="2.23" fill="#e67d87"/><rect x="101.1" y="322.7" width="12.2" height="2.23" fill="#e1bed7"/><rect x="15.7" y="324.68" width="12.5" height="2.23" fill="#3e349b"/><rect x="27.9" y="324.68" width="12.5" height="2.23" fill="#40359d"/><rect x="40.1" y="324.68" width="12.5" height="2.23" fill="#8275c3"/><rect x="52.3" y="324.68" width="12.5" height="2.23" fill="#ac9ed6"/><rect x="64.5" y="324.68" width="12.5" height="2.23" fill="#f0b3bc"/><rect x="76.7" y="324.68" width="12.5" height="2.23" fill="#dc4d59"/><rect x="88.9" y="324.68" width="12.5" height="2.23" fill="#f1bac3"/><rect x="101.1" y="324.68" width="12.2" height="2.23" fill="#e1bed7"/><rect x="15.7" y="326.66" width="12.5" height="2.23" fill="#453aa0"/><rect x="27.9" y="326.66" width="12.5" height="2.23" fill="#7468bd"/><rect x="40.1" y="326.66" width="12.5" height="2.23" fill="#453aa0"/><rect x="52.3" y="326.66" width="12.5" height="2.23" fill="#7b6fc0"/><rect x="64.5" y="326.66" width="12.5" height="2.23" fill="#e05d69"/><rect x="76.7" y="326.66" width="12.5" height="2.23" fill="#ce232f"/><rect x="88.9" y="326.66" width="12.5" height="2.23" fill="#efa9b2"/><rect x="101.1" y="326.66" width="12.2" height="2.23" fill="#da4955"/><rect x="15.7" y="328.64" width="12.5" height="2.23" fill="#c6b8e1"/><rect x="27.9" y="328.64" width="12.5" height="2.23" fill="#463ba1"/><rect x="40.1" y="328.64" width="12.5" height="2.23" fill="#dccee9"/><rect x="52.3" y="328.64" width="12.5" height="2.23" fill="#e8daee"/><rect x="64.5" y="328.64" width="12.5" height="2.23" fill="#d12d39"/><rect x="76.7" y="328.64" width="12.5" height="2.23" fill="#eb929d"/><rect x="88.9" y="328.64" width="12.5" height="2.23" fill="#da4955"/><rect x="101.1" y="328.64" width="12.2" height="2.23" fill="#ca1622"/><rect x="15.7" y="330.62" width="12.5" height="2.23" fill="#e1bed7"/><rect x="27.9" y="330.62" width="12.5" height="2.23" fill="#4c41a4"/><rect x="40.1" y="330.62" width="12.5" height="2.23" fill="#ada0d7"/><rect x="52.3" y="330.62" width="12.5" height="2.23" fill="#9184ca"/><rect x="64.5" y="330.62" width="12.5" height="2.23" fill="#d22e3a"/><rect x="76.7" y="330.62" width="12.5" height="2.23" fill="#d3313d"/><rect x="88.9" y="330.62" width="12.5" height="2.23" fill="#e4717c"/><rect x="101.1" y="330.62" width="12.2" height="2.23" fill="#e67984"/><rect x="15.7" y="332.6" width="12.5" height="2.23" fill="#3d339b"/><rect x="27.9" y="332.6" width="12.5" height="2.23" fill="#594dad"/><rect x="40.1" y="332.6" width="12.5" height="2.23" fill="#392f98"/><rect x="52.3" y="332.6" width="12.5" height="2.23" fill="#5247a9"/><rect x="64.5" y="332.6" width="12.5" height="2.23" fill="#ca1622"/><rect x="76.7" y="332.6" width="12.5" height="2.23" fill="#efa7b0"/><rect x="88.9" y="332.6" width="12.5" height="2.23" fill="#cd202c"/><rect x="101.1" y="332.6" width="12.2" height="2.23" fill="#d7404c"/><rect x="15.7" y="334.58" width="12.5" height="2.23" fill="#7669bd"/><rect x="27.9" y="334.58" width="12.5" height="2.23" fill="#483da2"/><rect x="40.1" y="334.58" width="12.5" height="2.23" fill="#5a4fae"/><rect x="52.3" y="334.58" width="12.5" height="2.23" fill="#bdafde"/><rect x="64.5" y="334.58" width="12.5" height="2.23" fill="#ce232f"/><rect x="76.7" y="334.58" width="12.5" height="2.23" fill="#de535f"/><rect x="88.9" y="334.58" width="12.5" height="2.23" fill="#d43642"/><rect x="101.1" y="334.58" width="12.2" height="2.23" fill="#cb1824"/><rect x="15.7" y="336.56" width="12.5" height="2.23" fill="#beb0de"/><rect x="27.9" y="336.56" width="12.5" height="2.23" fill="#41369d"/><rect x="40.1" y="336.56" width="12.5" height="2.23" fill="#3f359c"/><rect x="52.3" y="336.56" width="12.5" height="2.23" fill="#ecdeef"/><rect x="64.5" y="336.56" width="12.5" height="2.23" fill="#d63a46"/><rect x="76.7" y="336.56" width="12.5" height="2.23" fill="#eb929d"/><rect x="88.9" y="336.56" width="12.5" height="2.23" fill="#eea5ae"/><rect x="101.1" y="336.56" width="12.2" height="2.23" fill="#b696ce"/><rect x="15.7" y="338.54" width="12.5" height="2.23" fill="#9083c9"/><rect x="27.9" y="338.54" width="12.5" height="2.23" fill="#463ba1"/><rect x="40.1" y="338.54" width="12.5" height="2.23" fill="#bdafde"/><rect x="52.3" y="338.54" width="12.5" height="2.23" fill="#3f349c"/><rect x="64.5" y="338.54" width="12.5" height="2.23" fill="#d22e3a"/><rect x="76.7" y="338.54" width="12.5" height="2.23" fill="#d8414d"/><rect x="88.9" y="338.54" width="12.5" height="2.23" fill="#d02834"/><rect x="101.1" y="338.54" width="12.2" height="2.23" fill="#f0afb9"/><rect x="15.7" y="340.52" width="12.5" height="2.23" fill="#d5c7e7"/><rect x="27.9" y="340.52" width="12.5" height="2.23" fill="#6054b2"/><rect x="40.1" y="340.52" width="12.5" height="2.23" fill="#483da2"/><rect x="52.3" y="340.52" width="12.5" height="2.23" fill="#c9bbe2"/><rect x="64.5" y="340.52" width="12.5" height="2.23" fill="#d43642"/><rect x="76.7" y="340.52" width="12.5" height="2.23" fill="#e98a95"/><rect x="88.9" y="340.52" width="12.5" height="2.23" fill="#d12b37"/><rect x="101.1" y="340.52" width="12.2" height="2.23" fill="#b696ce"/><rect x="15.7" y="342.5" width="12.5" height="2.23" fill="#5448aa"/><rect x="27.9" y="342.5" width="12.5" height="2.23" fill="#6559b5"/><rect x="40.1" y="342.5" width="12.5" height="2.23" fill="#5a4eae"/><rect x="52.3" y="342.5" width="12.5" height="2.23" fill="#8376c3"/><rect x="64.5" y="342.5" width="12.5" height="2.23" fill="#e05c68"/><rect x="76.7" y="342.5" width="12.5" height="2.23" fill="#cc1c28"/><rect x="88.9" y="342.5" width="12.5" height="2.23" fill="#e36c77"/><rect x="101.1" y="342.5" width="12.2" height="2.23" fill="#db4a56"/><rect x="15.7" y="344.48" width="12.5" height="2.23" fill="#6559b5"/><rect x="27.9" y="344.48" width="12.5" height="2.23" fill="#6b5fb8"/><rect x="40.1" y="344.48" width="12.5" height="2.23" fill="#a396d2"/><rect x="52.3" y="344.48" width="12.5" height="2.23" fill="#372d96"/><rect x="64.5" y="344.48" width="12.5" height="2.23" fill="#e98994"/><rect x="76.7" y="344.48" width="12.5" height="2.23" fill="#d43642"/><rect x="88.9" y="344.48" width="12.5" height="2.23" fill="#ce222e"/><rect x="101.1" y="344.48" width="12.2" height="2.23" fill="#e1bed7"/><rect x="15.7" y="346.46" width="12.5" height="2.23" fill="#7266bc"/><rect x="27.9" y="346.46" width="12.5" height="2.23" fill="#453ba0"/><rect x="40.1" y="346.46" width="12.5" height="2.23" fill="#bdafde"/><rect x="52.3" y="346.46" width="12.5" height="2.23" fill="#4a3fa3"/><rect x="64.5" y="346.46" width="12.5" height="2.23" fill="#f2bdc6"/><rect x="76.7" y="346.46" width="12.5" height="2.23" fill="#e46f7b"/><rect x="88.9" y="346.46" width="12.5" height="2.23" fill="#d94652"/><rect x="101.1" y="346.46" width="12.2" height="2.23" fill="#cf2733"/><rect x="15.7" y="348.44" width="12.5" height="2.23" fill="#4b41a4"/><rect x="27.9" y="348.44" width="12.5" height="2.23" fill="#4c41a5"/><rect x="40.1" y="348.44" width="12.5" height="2.23" fill="#443aa0"/><rect x="52.3" y="348.44" width="12.5" height="2.23" fill="#a395d2"/><rect x="64.5" y="348.44" width="12.5" height="2.23" fill="#d53945"/><rect x="76.7" y="348.44" width="12.5" height="2.23" fill="#ce222e"/><rect x="88.9" y="348.44" width="12.5" height="2.23" fill="#eea4ae"/><rect x="101.1" y="348.44" width="12.2" height="2.23" fill="#e05c68"/><rect x="15.7" y="350.42" width="12.5" height="2.23" fill="#3f349c"/><rect x="27.9" y="350.42" width="12.5" height="2.23" fill="#4e43a6"/><rect x="40.1" y="350.42" width="12.5" height="2.23" fill="#a295d2"/><rect x="52.3" y="350.42" width="12.5" height="2.23" fill="#392f98"/><rect x="64.5" y="350.42" width="12.5" height="2.23" fill="#e7808b"/><rect x="76.7" y="350.42" width="12.5" height="2.23" fill="#d12c38"/><rect x="88.9" y="350.42" width="12.5" height="2.23" fill="#dc4d59"/><rect x="101.1" y="350.42" width="12.2" height="2.23" fill="#e88590"/><rect x="15.7" y="352.4" width="12.5" height="2.23" fill="#5d52b0"/><rect x="27.9" y="352.4" width="12.5" height="2.23" fill="#493ea3"/><rect x="40.1" y="352.4" width="12.5" height="2.23" fill="#453ba0"/><rect x="52.3" y="352.4" width="12.5" height="2.23" fill="#4a3fa3"/><rect x="64.5" y="352.4" width="12.5" height="2.23" fill="#ca1622"/><rect x="76.7" y="352.4" width="12.5" height="2.23" fill="#e36c77"/><rect x="88.9" y="352.4" width="12.5" height="2.23" fill="#e4707b"/><rect x="101.1" y="352.4" width="12.2" height="2.23" fill="#d7b0ce"/><rect x="15.7" y="354.38" width="12.5" height="2.23" fill="#4c41a4"/><rect x="27.9" y="354.38" width="12.5" height="2.23" fill="#9a8cce"/><rect x="40.1" y="354.38" width="12.5" height="2.23" fill="#b4a6da"/><rect x="52.3" y="354.38" width="12.5" height="2.23" fill="#392f98"/><rect x="64.5" y="354.38" width="12.5" height="2.23" fill="#d43440"/><rect x="76.7" y="354.38" width="12.5" height="2.23" fill="#e67d88"/><rect x="88.9" y="354.38" width="12.5" height="2.23" fill="#d43440"/><rect x="101.1" y="354.38" width="12.2" height="2.23" fill="#ec97a2"/><rect x="15.7" y="356.36" width="12.5" height="2.23" fill="#c7b9e1"/><rect x="27.9" y="356.36" width="12.5" height="2.23" fill="#5247a9"/><rect x="40.1" y="356.36" width="12.5" height="2.23" fill="#a99bd5"/><rect x="52.3" y="356.36" width="12.5" height="2.23" fill="#7366bc"/><rect x="64.5" y="356.36" width="12.5" height="2.23" fill="#d3303c"/><rect x="76.7" y="356.36" width="12.5" height="2.23" fill="#cf2531"/><rect x="88.9" y="356.36" width="12.5" height="2.23" fill="#ed9da7"/><rect x="101.1" y="356.36" width="12.2" height="2.23" fill="#d12a36"/><rect x="15.7" y="358.34" width="12.5" height="2.23" fill="#392f98"/><rect x="27.9" y="358.34" width="12.5" height="2.23" fill="#473da2"/><rect x="40.1" y="358.34" width="12.5" height="2.23" fill="#b9abdc"/><rect x="52.3" y="358.34" width="12.5" height="2.23" fill="#cda0c3"/><rect x="64.5" y="358.34" width="12.5" height="2.23" fill="#f0b0b9"/><rect x="76.7" y="358.34" width="12.5" height="2.23" fill="#ca1723"/><rect x="88.9" y="358.34" width="12.5" height="2.23" fill="#de5561"/><rect x="101.1" y="358.34" width="12.2" height="2.23" fill="#aa8cc8"/><rect x="15.7" y="360.32" width="12.5" height="2.23" fill="#594ead"/><rect x="27.9" y="360.32" width="12.5" height="2.23" fill="#392f98"/><rect x="40.1" y="360.32" width="12.5" height="2.23" fill="#443aa0"/><rect x="52.3" y="360.32" width="12.5" height="2.23" fill="#4f44a7"/><rect x="64.5" y="360.32" width="12.5" height="2.23" fill="#dd525e"/><rect x="76.7" y="360.32" width="12.5" height="2.23" fill="#e1636e"/><rect x="88.9" y="360.32" width="12.5" height="2.23" fill="#d43541"/><rect x="101.1" y="360.32" width="12.2" height="2.23" fill="#d12d39"/><rect x="15.7" y="362.3" width="12.5" height="2.23" fill="#6e61ba"/><rect x="27.9" y="362.3" width="12.5" height="2.23" fill="#c1b3df"/><rect x="40.1" y="362.3" width="12.5" height="2.23" fill="#3b3199"/><rect x="52.3" y="362.3" width="12.5" height="2.23" fill="#d3c5e6"/><rect x="64.5" y="362.3" width="12.5" height="2.23" fill="#d94551"/><rect x="76.7" y="362.3" width="12.5" height="2.23" fill="#de5561"/><rect x="88.9" y="362.3" width="12.5" height="2.23" fill="#d43541"/><rect x="101.1" y="362.3" width="12.2" height="2.23" fill="#cf2531"/><rect x="15.7" y="364.28" width="12.5" height="2.23" fill="#483ea2"/><rect x="27.9" y="364.28" width="12.5" height="2.23" fill="#3c329a"/><rect x="40.1" y="364.28" width="12.5" height="2.23" fill="#584dad"/><rect x="52.3" y="364.28" width="12.5" height="2.23" fill="#5c50af"/><rect x="64.5" y="364.28" width="12.5" height="2.23" fill="#d12b37"/><rect x="76.7" y="364.28" width="12.5" height="2.23" fill="#cf2430"/><rect x="88.9" y="364.28" width="12.5" height="2.23" fill="#e98a95"/><rect x="101.1" y="364.28" width="12.2" height="2.23" fill="#cf2632"/><rect x="15.7" y="366.26" width="12.5" height="2.23" fill="#6155b3"/><rect x="27.9" y="366.26" width="12.5" height="2.23" fill="#bfb1df"/><rect x="40.1" y="366.26" width="12.5" height="2.23" fill="#41379e"/><rect x="52.3" y="366.26" width="12.5" height="2.23" fill="#5549aa"/><rect x="64.5" y="366.26" width="12.5" height="2.23" fill="#efa9b2"/><rect x="76.7" y="366.26" width="12.5" height="2.23" fill="#cf2733"/><rect x="88.9" y="366.26" width="12.5" height="2.23" fill="#cc1b27"/><rect x="101.1" y="366.26" width="12.2" height="2.23" fill="#d43440"/><rect x="15.7" y="368.24" width="12.5" height="2.23" fill="#3a3099"/><rect x="27.9" y="368.24" width="12.5" height="2.23" fill="#bfb1de"/><rect x="40.1" y="368.24" width="12.5" height="2.23" fill="#c1b3df"/><rect x="52.3" y="368.24" width="12.5" height="2.23" fill="#41379e"/><rect x="64.5" y="368.24" width="12.5" height="2.23" fill="#e26773"/><rect x="76.7" y="368.24" width="12.5" height="2.23" fill="#d43541"/><rect x="88.9" y="368.24" width="12.5" height="2.23" fill="#d02733"/><rect x="101.1" y="368.24" width="12.2" height="2.23" fill="#cc1d29"/><rect x="15.7" y="370.22" width="12.5" height="2.23" fill="#453ba0"/><rect x="27.9" y="370.22" width="12.5" height="2.23" fill="#6e62ba"/><rect x="40.1" y="370.22" width="12.5" height="2.23" fill="#665ab6"/><rect x="52.3" y="370.22" width="12.5" height="2.23" fill="#e6d8ed"/><rect x="64.5" y="370.22" width="12.5" height="2.23" fill="#e26975"/><rect x="76.7" y="370.22" width="12.5" height="2.23" fill="#e8838d"/><rect x="88.9" y="370.22" width="12.5" height="2.23" fill="#de5561"/><rect x="101.1" y="370.22" width="12.2" height="2.23" fill="#d3323e"/><rect x="15.7" y="372.2" width="12.5" height="2.23" fill="#493ea3"/><rect x="27.9" y="372.2" width="12.5" height="2.23" fill="#554aab"/><rect x="40.1" y="372.2" width="12.5" height="2.23" fill="#453aa0"/><rect x="52.3" y="372.2" width="12.5" height="2.23" fill="#aa8cc8"/><rect x="64.5" y="372.2" width="12.5" height="2.23" fill="#e36b76"/><rect x="76.7" y="372.2" width="12.5" height="2.23" fill="#ca1723"/><rect x="88.9" y="372.2" width="12.5" height="2.23" fill="#da4753"/><rect x="101.1" y="372.2" width="12.2" height="2.23" fill="#e67984"/><rect x="15.7" y="374.18" width="12.5" height="2.23" fill="#4f44a7"/><rect x="27.9" y="374.18" width="12.5" height="2.23" fill="#40369d"/><rect x="40.1" y="374.18" width="12.5" height="2.23" fill="#bcaede"/><rect x="52.3" y="374.18" width="12.5" height="2.23" fill="#ac9ed6"/><rect x="64.5" y="374.18" width="12.5" height="2.23" fill="#dd505c"/><rect x="76.7" y="374.18" width="12.5" height="2.23" fill="#ce212d"/><rect x="88.9" y="374.18" width="12.5" height="2.23" fill="#d3323e"/><rect x="101.1" y="374.18" width="12.2" height="2.23" fill="#cd1f2b"/><rect x="15.7" y="376.16" width="12.5" height="2.23" fill="#4a3fa3"/><rect x="27.9" y="376.16" width="12.5" height="2.23" fill="#afa2d8"/><rect x="40.1" y="376.16" width="12.5" height="2.23" fill="#9487cb"/><rect x="52.3" y="376.16" width="12.5" height="2.23" fill="#b696ce"/><rect x="64.5" y="376.16" width="12.5" height="2.23" fill="#d02935"/><rect x="76.7" y="376.16" width="12.5" height="2.23" fill="#f3c1ca"/><rect x="88.9" y="376.16" width="12.5" height="2.23" fill="#d7404c"/><rect x="101.1" y="376.16" width="12.2" height="2.23" fill="#efa6b0"/><rect x="15.7" y="378.14" width="12.5" height="2.23" fill="#cda0c3"/><rect x="27.9" y="378.14" width="12.5" height="2.23" fill="#c2b4e0"/><rect x="40.1" y="378.14" width="12.5" height="2.23" fill="#40369d"/><rect x="52.3" y="378.14" width="12.5" height="2.23" fill="#b696ce"/><rect x="64.5" y="378.14" width="12.5" height="2.23" fill="#cf2632"/><rect x="76.7" y="378.14" width="12.5" height="2.23" fill="#e8848f"/><rect x="88.9" y="378.14" width="12.5" height="2.23" fill="#da4854"/><rect x="101.1" y="378.14" width="12.2" height="2.23" fill="#cb1a26"/><rect x="15.7" y="380.12" width="12.5" height="2.23" fill="#a699d4"/><rect x="27.9" y="380.12" width="12.5" height="2.23" fill="#c7b9e1"/><rect x="40.1" y="380.12" width="12.5" height="2.23" fill="#b9abdc"/><rect x="52.3" y="380.12" width="12.5" height="2.23" fill="#8c7fc8"/><rect x="64.5" y="380.12" width="12.5" height="2.23" fill="#db4c58"/><rect x="76.7" y="380.12" width="12.5" height="2.23" fill="#e36a75"/><rect x="88.9" y="380.12" width="12.5" height="2.23" fill="#d63b47"/><rect x="101.1" y="380.12" width="12.2" height="2.23" fill="#d12d39"/><rect x="15.7" y="382.1" width="12.5" height="2.23" fill="#d9cbe8"/><rect x="27.9" y="382.1" width="12.5" height="2.23" fill="#6155b3"/><rect x="40.1" y="382.1" width="12.5" height="2.23" fill="#5d51b0"/><rect x="52.3" y="382.1" width="12.5" height="2.23" fill="#493ea3"/><rect x="64.5" y="382.1" width="12.5" height="2.23" fill="#ce2430"/><rect x="76.7" y="382.1" width="12.5" height="2.23" fill="#eea0aa"/><rect x="88.9" y="382.1" width="12.5" height="2.23" fill="#dd505c"/><rect x="101.1" y="382.1" width="12.2" height="2.23" fill="#eea3ad"/><rect x="15.7" y="384.09" width="12.5" height="2.23" fill="#978acd"/><rect x="27.9" y="384.09" width="12.5" height="2.23" fill="#40359d"/><rect x="40.1" y="384.09" width="12.5" height="2.23" fill="#5045a8"/><rect x="52.3" y="384.09" width="12.5" height="2.23" fill="#4d42a5"/><rect x="64.5" y="384.09" width="12.5" height="2.23" fill="#d94652"/><rect x="76.7" y="384.09" width="12.5" height="2.23" fill="#e57883"/><rect x="88.9" y="384.09" width="12.5" height="2.23" fill="#e98b96"/><rect x="101.1" y="384.09" width="12.2" height="2.23" fill="#e1bed7"/><rect x="15.7" y="386.07" width="12.5" height="2.23" fill="#bbaddd"/><rect x="27.9" y="386.07" width="12.5" height="2.23" fill="#3c329a"/><rect x="40.1" y="386.07" width="12.5" height="2.23" fill="#41379d"/><rect x="52.3" y="386.07" width="12.5" height="2.23" fill="#3d339b"/><rect x="64.5" y="386.07" width="12.5" height="2.23" fill="#dc4e5a"/><rect x="76.7" y="386.07" width="12.5" height="2.23" fill="#f0adb7"/><rect x="88.9" y="386.07" width="12.5" height="2.23" fill="#efa6af"/><rect x="101.1" y="386.07" width="12.2" height="2.23" fill="#d02733"/><rect x="15.7" y="388.05" width="12.5" height="2.23" fill="#382e97"/><rect x="27.9" y="388.05" width="12.5" height="2.23" fill="#beb0de"/><rect x="40.1" y="388.05" width="12.5" height="2.23" fill="#574bac"/><rect x="52.3" y="388.05" width="12.5" height="2.23" fill="#3d339b"/><rect x="64.5" y="388.05" width="12.5" height="2.23" fill="#d12b37"/><rect x="76.7" y="388.05" width="12.5" height="2.23" fill="#ea8f99"/><rect x="88.9" y="388.05" width="12.5" height="2.23" fill="#e4727d"/><rect x="101.1" y="388.05" width="12.2" height="2.23" fill="#e4707b"/><rect x="15.7" y="390.03" width="12.5" height="2.23" fill="#b8aadc"/><rect x="27.9" y="390.03" width="12.5" height="2.23" fill="#3d339b"/><rect x="40.1" y="390.03" width="12.5" height="2.23" fill="#bfb1df"/><rect x="52.3" y="390.03" width="12.5" height="2.23" fill="#afa1d8"/><rect x="64.5" y="390.03" width="12.5" height="2.23" fill="#f5d0d9"/><rect x="76.7" y="390.03" width="12.5" height="2.23" fill="#d22e3a"/><rect x="88.9" y="390.03" width="12.5" height="2.23" fill="#cf2531"/><rect x="101.1" y="390.03" width="12.2" height="2.23" fill="#aa8cc8"/><rect x="15.7" y="392.01" width="12.5" height="2.23" fill="#42389e"/><rect x="27.9" y="392.01" width="12.5" height="2.23" fill="#4c41a5"/><rect x="40.1" y="392.01" width="12.5" height="2.23" fill="#5348a9"/><rect x="52.3" y="392.01" width="12.5" height="2.23" fill="#7a6ebf"/><rect x="64.5" y="392.01" width="12.5" height="2.23" fill="#eea3ad"/><rect x="76.7" y="392.01" width="12.5" height="2.23" fill="#cc1b27"/><rect x="88.9" y="392.01" width="12.5" height="2.23" fill="#e4737f"/><rect x="101.1" y="392.01" width="12.2" height="2.23" fill="#e1bed7"/><rect x="15.7" y="393.99" width="12.5" height="2.23" fill="#e6d8ed"/><rect x="27.9" y="393.99" width="12.5" height="2.23" fill="#b7a9db"/><rect x="40.1" y="393.99" width="12.5" height="2.23" fill="#b3a5da"/><rect x="52.3" y="393.99" width="12.5" height="2.23" fill="#b2a4d9"/><rect x="64.5" y="393.99" width="12.5" height="2.23" fill="#e67a85"/><rect x="76.7" y="393.99" width="12.5" height="2.23" fill="#cd1f2b"/><rect x="88.9" y="393.99" width="12.5" height="2.23" fill="#d8414d"/><rect x="101.1" y="393.99" width="12.2" height="2.23" fill="#b696ce"/><rect x="15.7" y="395.97" width="12.5" height="2.23" fill="#7f72c1"/><rect x="27.9" y="395.97" width="12.5" height="2.23" fill="#796dbf"/><rect x="40.1" y="395.97" width="12.5" height="2.23" fill="#4b40a4"/><rect x="52.3" y="395.97" width="12.5" height="2.23" fill="#b1a3d9"/><rect x="64.5" y="395.97" width="12.5" height="2.23" fill="#d2303c"/><rect x="76.7" y="395.97" width="12.5" height="2.23" fill="#e4727d"/><rect x="88.9" y="395.97" width="12.5" height="2.23" fill="#d63c48"/><rect x="101.1" y="395.97" width="12.2" height="2.23" fill="#e1626e"/><rect x="15.7" y="397.95" width="12.5" height="2.23" fill="#4b40a4"/><rect x="27.9" y="397.95" width="12.5" height="2.23" fill="#5f53b1"/><rect x="40.1" y="397.95" width="12.5" height="2.23" fill="#aa9cd6"/><rect x="52.3" y="397.95" width="12.5" height="2.23" fill="#6054b2"/><rect x="64.5" y="397.95" width="12.5" height="2.23" fill="#e05f6a"/><rect x="76.7" y="397.95" width="12.5" height="2.23" fill="#e05e6a"/><rect x="88.9" y="397.95" width="12.5" height="2.23" fill="#eea5af"/><rect x="101.1" y="397.95" width="12.2" height="2.23" fill="#d63a46"/><rect x="15.7" y="399.93" width="12.5" height="2.23" fill="#cda0c3"/><rect x="27.9" y="399.93" width="12.5" height="2.23" fill="#564aab"/><rect x="40.1" y="399.93" width="12.5" height="2.23" fill="#594ead"/><rect x="52.3" y="399.93" width="12.5" height="2.23" fill="#4a3fa4"/><rect x="64.5" y="399.93" width="12.5" height="2.23" fill="#f0b1ba"/><rect x="76.7" y="399.93" width="12.5" height="2.23" fill="#db4b57"/><rect x="88.9" y="399.93" width="12.5" height="2.23" fill="#d63a46"/><rect x="101.1" y="399.93" width="12.2" height="2.23" fill="#e1bed7"/><rect x="15.7" y="401.91" width="12.5" height="2.23" fill="#9385cb"/><rect x="27.9" y="401.91" width="12.5" height="2.23" fill="#5549aa"/><rect x="40.1" y="401.91" width="12.5" height="2.23" fill="#4c41a5"/><rect x="52.3" y="401.91" width="12.5" height="2.23" fill="#bcaedd"/><rect x="64.5" y="401.91" width="12.5" height="2.23" fill="#d2303c"/><rect x="76.7" y="401.91" width="12.5" height="2.23" fill="#e26773"/><rect x="88.9" y="401.91" width="12.5" height="2.23" fill="#ce232f"/><rect x="101.1" y="401.91" width="12.2" height="2.23" fill="#d7b0ce"/><rect x="15.7" y="403.89" width="12.5" height="2.23" fill="#6357b4"/><rect x="27.9" y="403.89" width="12.5" height="2.23" fill="#baacdd"/><rect x="40.1" y="403.89" width="12.5" height="2.23" fill="#3e339b"/><rect x="52.3" y="403.89" width="12.5" height="2.23" fill="#bfb1df"/><rect x="64.5" y="403.89" width="12.5" height="2.23" fill="#efa6b0"/><rect x="76.7" y="403.89" width="12.5" height="2.23" fill="#d43642"/><rect x="88.9" y="403.89" width="12.5" height="2.23" fill="#cc1c28"/><rect x="101.1" y="403.89" width="12.2" height="2.23" fill="#d73f4b"/><rect x="15.7" y="405.87" width="12.5" height="2.23" fill="#3f349c"/><rect x="27.9" y="405.87" width="12.5" height="2.23" fill="#9e91d0"/><rect x="40.1" y="405.87" width="12.5" height="2.23" fill="#3b3199"/><rect x="52.3" y="405.87" width="12.5" height="2.23" fill="#463ba0"/><rect x="64.5" y="405.87" width="12.5" height="2.23" fill="#e4707c"/><rect x="76.7" y="405.87" width="12.5" height="2.23" fill="#cd1e2a"/><rect x="88.9" y="405.87" width="12.5" height="2.23" fill="#e67a86"/><rect x="101.1" y="405.87" width="12.2" height="2.23" fill="#cd1e2a"/><rect x="15.7" y="407.85" width="12.5" height="2.23" fill="#40359d"/><rect x="27.9" y="407.85" width="12.5" height="2.23" fill="#5449aa"/><rect x="40.1" y="407.85" width="12.5" height="2.23" fill="#392f98"/><rect x="52.3" y="407.85" width="12.5" height="2.23" fill="#41379d"/><rect x="64.5" y="407.85" width="12.5" height="2.23" fill="#d3313d"/><rect x="76.7" y="407.85" width="12.5" height="2.23" fill="#cc1d29"/><rect x="88.9" y="407.85" width="12.5" height="2.23" fill="#e67a85"/><rect x="101.1" y="407.85" width="12.2" height="2.23" fill="#eb95a0"/><rect x="15.7" y="409.83" width="12.5" height="2.23" fill="#5146a8"/><rect x="27.9" y="409.83" width="12.5" height="2.23" fill="#3d339b"/><rect x="40.1" y="409.83" width="12.5" height="2.23" fill="#564aab"/><rect x="52.3" y="409.83" width="12.5" height="2.23" fill="#372d97"/><rect x="64.5" y="409.83" width="12.5" height="2.23" fill="#d02834"/><rect x="76.7" y="409.83" width="12.5" height="2.23" fill="#e98792"/><rect x="88.9" y="409.83" width="12.5" height="2.23" fill="#d12a36"/><rect x="101.1" y="409.83" width="12.2" height="2.23" fill="#cc1c28"/><rect x="15.7" y="411.81" width="12.5" height="2.23" fill="#aa8cc8"/><rect x="27.9" y="411.81" width="12.5" height="2.23" fill="#372d97"/><rect x="40.1" y="411.81" width="12.5" height="2.23" fill="#43389e"/><rect x="52.3" y="411.81" width="12.5" height="2.23" fill="#bfb1df"/><rect x="64.5" y="411.81" width="12.5" height="2.23" fill="#e26873"/><rect x="76.7" y="411.81" width="12.5" height="2.23" fill="#dc4e5a"/><rect x="88.9" y="411.81" width="12.5" height="2.23" fill="#f5d1d9"/><rect x="101.1" y="411.81" width="12.2" height="2.23" fill="#e57681"/><rect x="15.7" y="413.79" width="12.5" height="2.23" fill="#6e61b9"/><rect x="27.9" y="413.79" width="12.5" height="2.23" fill="#9e91d0"/><rect x="40.1" y="413.79" width="12.5" height="2.23" fill="#5247a8"/><rect x="52.3" y="413.79" width="12.5" height="2.23" fill="#bfb1df"/><rect x="64.5" y="413.79" width="12.5" height="2.23" fill="#ed9da7"/><rect x="76.7" y="413.79" width="12.5" height="2.23" fill="#cb1a26"/><rect x="88.9" y="413.79" width="12.5" height="2.23" fill="#d12b37"/><rect x="101.1" y="413.79" width="12.2" height="2.23" fill="#cc1c28"/><rect x="15.7" y="415.77" width="12.5" height="2.23" fill="#372d97"/><rect x="27.9" y="415.77" width="12.5" height="2.23" fill="#8174c2"/><rect x="40.1" y="415.77" width="12.5" height="2.23" fill="#4c41a4"/><rect x="52.3" y="415.77" width="12.5" height="2.23" fill="#5a4fae"/><rect x="64.5" y="415.77" width="12.5" height="2.23" fill="#cd202c"/><rect x="76.7" y="415.77" width="12.5" height="2.23" fill="#cd1e2a"/><rect x="88.9" y="415.77" width="12.5" height="2.23" fill="#cd202c"/><rect x="101.1" y="415.77" width="12.2" height="2.23" fill="#d7b0ce"/><rect x="15.7" y="417.75" width="12.5" height="2.23" fill="#9e91d0"/><rect x="27.9" y="417.75" width="12.5" height="2.23" fill="#5044a7"/><rect x="40.1" y="417.75" width="12.5" height="2.23" fill="#5a4fae"/><rect x="52.3" y="417.75" width="12.5" height="2.23" fill="#5f53b1"/><rect x="64.5" y="417.75" width="12.5" height="2.23" fill="#cb1925"/><rect x="76.7" y="417.75" width="12.5" height="2.23" fill="#de535f"/><rect x="88.9" y="417.75" width="12.5" height="2.23" fill="#d3333f"/><rect x="101.1" y="417.75" width="12.2" height="2.23" fill="#db4a56"/><rect x="15.7" y="419.73" width="12.5" height="2.23" fill="#392f98"/><rect x="27.9" y="419.73" width="12.5" height="2.23" fill="#3c329a"/><rect x="40.1" y="419.73" width="12.5" height="2.23" fill="#e1d3eb"/><rect x="52.3" y="419.73" width="12.5" height="2.23" fill="#392e98"/><rect x="64.5" y="419.73" width="12.5" height="2.23" fill="#e98c97"/><rect x="76.7" y="419.73" width="12.5" height="2.23" fill="#e36a76"/><rect x="88.9" y="419.73" width="12.5" height="2.23" fill="#d8414d"/><rect x="101.1" y="419.73" width="12.2" height="2.23" fill="#e77f8a"/><rect x="15.7" y="421.71" width="12.5" height="2.23" fill="#6357b4"/><rect x="27.9" y="421.71" width="12.5" height="2.23" fill="#3e349c"/><rect x="40.1" y="421.71" width="12.5" height="2.23" fill="#3e339b"/><rect x="52.3" y="421.71" width="12.5" height="2.23" fill="#3d339b"/><rect x="64.5" y="421.71" width="12.5" height="2.23" fill="#d12c38"/><rect x="76.7" y="421.71" width="12.5" height="2.23" fill="#ea8d97"/><rect x="88.9" y="421.71" width="12.5" height="2.23" fill="#cc1c28"/><rect x="101.1" y="421.71" width="12.2" height="2.23" fill="#eb919c"/><rect x="15.7" y="423.69" width="12.5" height="2.23" fill="#9588cc"/><rect x="27.9" y="423.69" width="12.5" height="2.23" fill="#b6a8db"/><rect x="40.1" y="423.69" width="12.5" height="2.23" fill="#b7a9dc"/><rect x="52.3" y="423.69" width="12.5" height="2.23" fill="#372d97"/><rect x="64.5" y="423.69" width="12.5" height="2.23" fill="#eea0aa"/><rect x="76.7" y="423.69" width="12.5" height="2.23" fill="#d22f3b"/><rect x="88.9" y="423.69" width="12.5" height="2.23" fill="#dc4f5b"/><rect x="101.1" y="423.69" width="12.2" height="2.23" fill="#d7b0ce"/><rect x="15.7" y="425.67" width="12.5" height="2.23" fill="#9184ca"/><rect x="27.9" y="425.67" width="12.5" height="2.23" fill="#786cbe"/><rect x="40.1" y="425.67" width="12.5" height="2.23" fill="#3f359c"/><rect x="52.3" y="425.67" width="12.5" height="2.23" fill="#7468bd"/><rect x="64.5" y="425.67" width="12.5" height="2.23" fill="#d43440"/><rect x="76.7" y="425.67" width="12.5" height="2.23" fill="#ea909a"/><rect x="88.9" y="425.67" width="12.5" height="2.23" fill="#cc1b27"/><rect x="101.1" y="425.67" width="12.2" height="2.23" fill="#ec9aa4"/><rect x="15.7" y="427.65" width="12.5" height="2.23" fill="#554aab"/><rect x="27.9" y="427.65" width="12.5" height="2.23" fill="#4b40a4"/><rect x="40.1" y="427.65" width="12.5" height="2.23" fill="#8074c2"/><rect x="52.3" y="427.65" width="12.5" height="2.23" fill="#473ca1"/><rect x="64.5" y="427.65" width="12.5" height="2.23" fill="#de535f"/><rect x="76.7" y="427.65" width="12.5" height="2.23" fill="#cb1a26"/><rect x="88.9" y="427.65" width="12.5" height="2.23" fill="#d3323e"/><rect x="101.1" y="427.65" width="12.2" height="2.23" fill="#cc1b27"/><rect x="15.7" y="429.63" width="12.5" height="2.23" fill="#4a3fa3"/><rect x="27.9" y="429.63" width="12.5" height="2.23" fill="#9789cc"/><rect x="40.1" y="429.63" width="12.5" height="2.23" fill="#4b40a4"/><rect x="52.3" y="429.63" width="12.5" height="2.23" fill="#3b3199"/><rect x="64.5" y="429.63" width="12.5" height="2.23" fill="#d02935"/><rect x="76.7" y="429.63" width="12.5" height="2.23" fill="#de5460"/><rect x="88.9" y="429.63" width="12.5" height="2.23" fill="#cd1f2b"/><rect x="101.1" y="429.63" width="12.2" height="2.23" fill="#e1bed7"/><rect x="15.7" y="431.61" width="12.5" height="2.23" fill="#473ca1"/><rect x="27.9" y="431.61" width="12.5" height="2.23" fill="#9a8cce"/><rect x="40.1" y="431.61" width="12.5" height="2.23" fill="#4c41a5"/><rect x="52.3" y="431.61" width="12.5" height="2.23" fill="#e1bed7"/><rect x="64.5" y="431.61" width="12.5" height="2.23" fill="#ce232f"/><rect x="76.7" y="431.61" width="12.5" height="2.23" fill="#da4955"/><rect x="88.9" y="431.61" width="12.5" height="2.23" fill="#d63c48"/><rect x="101.1" y="431.61" width="12.2" height="2.23" fill="#d2303c"/><rect x="15.7" y="433.59" width="12.5" height="2.23" fill="#42379e"/><rect x="27.9" y="433.59" width="12.5" height="2.23" fill="#382e98"/><rect x="40.1" y="433.59" width="12.5" height="2.23" fill="#3a3099"/><rect x="52.3" y="433.59" width="12.5" height="2.23" fill="#4b40a4"/><rect x="64.5" y="433.59" width="12.5" height="2.23" fill="#cd1f2b"/><rect x="76.7" y="433.59" width="12.5" height="2.23" fill="#d12c38"/><rect x="88.9" y="433.59" width="12.5" height="2.23" fill="#e98b95"/><rect x="101.1" y="433.59" width="12.2" height="2.23" fill="#efa6b0"/><rect x="15.7" y="435.57" width="12.5" height="2.23" fill="#9a8dce"/><rect x="27.9" y="435.57" width="12.5" height="2.23" fill="#3b3199"/><rect x="40.1" y="435.57" width="12.5" height="2.23" fill="#594dad"/><rect x="52.3" y="435.57" width="12.5" height="2.23" fill="#d7b0ce"/><rect x="64.5" y="435.57" width="12.5" height="2.23" fill="#eb95a0"/><rect x="76.7" y="435.57" width="12.5" height="2.23" fill="#d02733"/><rect x="88.9" y="435.57" width="12.5" height="2.23" fill="#d43642"/><rect x="101.1" y="435.57" width="12.2" height="2.23" fill="#e36b77"/><rect x="15.7" y="437.55" width="12.5" height="2.23" fill="#6155b2"/><rect x="27.9" y="437.55" width="12.5" height="2.23" fill="#5045a8"/><rect x="40.1" y="437.55" width="12.5" height="2.23" fill="#41379e"/><rect x="52.3" y="437.55" width="12.5" height="2.23" fill="#5449aa"/><rect x="64.5" y="437.55" width="12.5" height="2.23" fill="#e4707b"/><rect x="76.7" y="437.55" width="12.5" height="2.23" fill="#d8424e"/><rect x="88.9" y="437.55" width="12.5" height="2.23" fill="#efa9b2"/><rect x="101.1" y="437.55" width="12.2" height="2.23" fill="#ed9ca6"/><rect x="15.7" y="439.53" width="12.5" height="2.23" fill="#c2b4e0"/><rect x="27.9" y="439.53" width="12.5" height="2.23" fill="#b0a2d8"/><rect x="40.1" y="439.53" width="12.5" height="2.23" fill="#443a9f"/><rect x="52.3" y="439.53" width="12.5" height="2.23" fill="#4d42a5"/><rect x="64.5" y="439.53" width="12.5" height="2.23" fill="#db4b57"/><rect x="76.7" y="439.53" width="12.5" height="2.23" fill="#d12d39"/><rect x="88.9" y="439.53" width="12.5" height="2.23" fill="#ce232f"/><rect x="101.1" y="439.53" width="12.2" height="2.23" fill="#cb1a26"/><rect x="15.7" y="441.51" width="12.5" height="2.23" fill="#9f91d0"/><rect x="27.9" y="441.51" width="12.5" height="2.23" fill="#beb0de"/><rect x="40.1" y="441.51" width="12.5" height="2.23" fill="#4c41a5"/><rect x="52.3" y="441.51" width="12.5" height="2.23" fill="#cfc1e5"/><rect x="64.5" y="441.51" width="12.5" height="2.23" fill="#cd1e2a"/><rect x="76.7" y="441.51" width="12.5" height="2.23" fill="#d22f3b"/><rect x="88.9" y="441.51" width="12.5" height="2.23" fill="#cc1b27"/><rect x="101.1" y="441.51" width="12.2" height="2.23" fill="#d43440"/><rect x="15.7" y="443.5" width="12.5" height="2.23" fill="#8073c2"/><rect x="27.9" y="443.5" width="12.5" height="2.23" fill="#6357b4"/><rect x="40.1" y="443.5" width="12.5" height="2.23" fill="#3f349c"/><rect x="52.3" y="443.5" width="12.5" height="2.23" fill="#5e52b1"/><rect x="64.5" y="443.5" width="12.5" height="2.23" fill="#ce232f"/><rect x="76.7" y="443.5" width="12.5" height="2.23" fill="#de535f"/><rect x="88.9" y="443.5" width="12.5" height="2.23" fill="#e7818c"/><rect x="101.1" y="443.5" width="12.2" height="2.23" fill="#e36c77"/><rect x="15.7" y="445.48" width="12.5" height="2.23" fill="#463ba1"/><rect x="27.9" y="445.48" width="12.5" height="2.23" fill="#453ba0"/><rect x="40.1" y="445.48" width="12.5" height="2.23" fill="#42389e"/><rect x="52.3" y="445.48" width="12.5" height="2.23" fill="#b5a8db"/><rect x="64.5" y="445.48" width="12.5" height="2.23" fill="#ca1723"/><rect x="76.7" y="445.48" width="12.5" height="2.23" fill="#cf2531"/><rect x="88.9" y="445.48" width="12.5" height="2.23" fill="#ec9aa5"/><rect x="101.1" y="445.48" width="12.2" height="2.23" fill="#d53844"/><rect x="15.7" y="447.46" width="12.5" height="2.23" fill="#8f82c9"/><rect x="27.9" y="447.46" width="12.5" height="2.23" fill="#564bab"/><rect x="40.1" y="447.46" width="12.5" height="2.23" fill="#4a3fa3"/><rect x="52.3" y="447.46" width="12.5" height="2.23" fill="#766abd"/><rect x="64.5" y="447.46" width="12.5" height="2.23" fill="#e7828d"/><rect x="76.7" y="447.46" width="12.5" height="2.23" fill="#e36c77"/><rect x="88.9" y="447.46" width="12.5" height="2.23" fill="#ca1723"/><rect x="101.1" y="447.46" width="12.2" height="2.23" fill="#cda0c3"/><rect x="15.7" y="449.44" width="12.5" height="2.23" fill="#5146a8"/><rect x="27.9" y="449.44" width="12.5" height="2.23" fill="#463ba1"/><rect x="40.1" y="449.44" width="12.5" height="2.23" fill="#6156b3"/><rect x="52.3" y="449.44" width="12.5" height="2.23" fill="#4e43a6"/><rect x="64.5" y="449.44" width="12.5" height="2.23" fill="#ed9da7"/><rect x="76.7" y="449.44" width="12.5" height="2.23" fill="#d3323e"/><rect x="88.9" y="449.44" width="12.5" height="2.23" fill="#cb1824"/><rect x="101.1" y="449.44" width="12.2" height="2.23" fill="#d53945"/><rect x="15.7" y="451.42" width="12.5" height="2.23" fill="#3c319a"/><rect x="27.9" y="451.42" width="12.5" height="2.23" fill="#584dad"/><rect x="40.1" y="451.42" width="12.5" height="2.23" fill="#4a3fa3"/><rect x="52.3" y="451.42" width="12.5" height="2.23" fill="#362c96"/><rect x="64.5" y="451.42" width="12.5" height="2.23" fill="#cf2632"/><rect x="76.7" y="451.42" width="12.5" height="2.23" fill="#ce222e"/><rect x="88.9" y="451.42" width="12.5" height="2.23" fill="#eb939d"/><rect x="101.1" y="451.42" width="12.2" height="2.23" fill="#cc1c28"/><rect x="15.7" y="453.4" width="12.5" height="2.23" fill="#d8cae8"/><rect x="27.9" y="453.4" width="12.5" height="2.23" fill="#493ea2"/><rect x="40.1" y="453.4" width="12.5" height="2.23" fill="#3e349c"/><rect x="52.3" y="453.4" width="12.5" height="2.23" fill="#493ea3"/><rect x="64.5" y="453.4" width="12.5" height="2.23" fill="#f4cbd3"/><rect x="76.7" y="453.4" width="12.5" height="2.23" fill="#d53844"/><rect x="88.9" y="453.4" width="12.5" height="2.23" fill="#cc1d29"/><rect x="101.1" y="453.4" width="12.2" height="2.23" fill="#e1bed7"/><rect x="15.7" y="455.38" width="12.5" height="2.23" fill="#483da2"/><rect x="27.9" y="455.38" width="12.5" height="2.23" fill="#c5b7e1"/><rect x="40.1" y="455.38" width="12.5" height="2.23" fill="#4c41a4"/><rect x="52.3" y="455.38" width="12.5" height="2.23" fill="#4a3fa3"/><rect x="64.5" y="455.38" width="12.5" height="2.23" fill="#d2303c"/><rect x="76.7" y="455.38" width="12.5" height="2.23" fill="#e26671"/><rect x="88.9" y="455.38" width="12.5" height="2.23" fill="#cb1925"/><rect x="101.1" y="455.38" width="12.2" height="2.23" fill="#f1b9c3"/><rect x="15.7" y="457.36" width="12.5" height="2.23" fill="#42379e"/><rect x="27.9" y="457.36" width="12.5" height="2.23" fill="#40359c"/><rect x="40.1" y="457.36" width="12.5" height="2.23" fill="#4c41a5"/><rect x="52.3" y="457.36" width="12.5" height="2.23" fill="#e1bed7"/><rect x="64.5" y="457.36" width="12.5" height="2.23" fill="#dc4e5a"/><rect x="76.7" y="457.36" width="12.5" height="2.23" fill="#ce2430"/><rect x="88.9" y="457.36" width="12.5" height="2.23" fill="#efa8b2"/><rect x="101.1" y="457.36" width="12.2" height="2.23" fill="#d22f3b"/><rect x="15.7" y="459.34" width="12.5" height="2.23" fill="#3e349b"/><rect x="27.9" y="459.34" width="12.5" height="2.23" fill="#3f359c"/><rect x="40.1" y="459.34" width="12.5" height="2.23" fill="#a699d4"/><rect x="52.3" y="459.34" width="12.5" height="2.23" fill="#baacdd"/><rect x="64.5" y="459.34" width="12.5" height="2.23" fill="#ca1723"/><rect x="76.7" y="459.34" width="12.5" height="2.23" fill="#eea3ad"/><rect x="88.9" y="459.34" width="12.5" height="2.23" fill="#df5763"/><rect x="101.1" y="459.34" width="12.2" height="2.23" fill="#de5460"/><rect x="15.7" y="461.32" width="12.5" height="2.23" fill="#c4b6e1"/><rect x="27.9" y="461.32" width="12.5" height="2.23" fill="#3c319a"/><rect x="40.1" y="461.32" width="12.5" height="2.23" fill="#b0a3d8"/><rect x="52.3" y="461.32" width="12.5" height="2.23" fill="#40369d"/><rect x="64.5" y="461.32" width="12.5" height="2.23" fill="#e7808a"/><rect x="76.7" y="461.32" width="12.5" height="2.23" fill="#d3333f"/><rect x="88.9" y="461.32" width="12.5" height="2.23" fill="#f7dde5"/><rect x="101.1" y="461.32" width="12.2" height="2.23" fill="#e1636f"/><rect x="15.7" y="463.3" width="12.5" height="2.23" fill="#4d42a5"/><rect x="27.9" y="463.3" width="12.5" height="2.23" fill="#473ca1"/><rect x="40.1" y="463.3" width="12.5" height="2.23" fill="#c0b2df"/><rect x="52.3" y="463.3" width="12.5" height="2.23" fill="#4d42a6"/><rect x="64.5" y="463.3" width="12.5" height="2.23" fill="#e1616d"/><rect x="76.7" y="463.3" width="12.5" height="2.23" fill="#e4727d"/><rect x="88.9" y="463.3" width="12.5" height="2.23" fill="#cf2632"/><rect x="101.1" y="463.3" width="12.2" height="2.23" fill="#cc1e2a"/><rect x="15.7" y="465.28" width="12.5" height="2.23" fill="#4e43a6"/><rect x="27.9" y="465.28" width="12.5" height="2.23" fill="#665ab6"/><rect x="40.1" y="465.28" width="12.5" height="2.23" fill="#6559b5"/><rect x="52.3" y="465.28" width="12.5" height="2.23" fill="#cfc1e5"/><rect x="64.5" y="465.28" width="12.5" height="2.23" fill="#ed9ea8"/><rect x="76.7" y="465.28" width="12.5" height="2.23" fill="#efa9b3"/><rect x="88.9" y="465.28" width="12.5" height="2.23" fill="#f1b9c3"/><rect x="101.1" y="465.28" width="12.2" height="2.23" fill="#f0afb8"/><rect x="15.7" y="467.26" width="12.5" height="2.23" fill="#7064bb"/><rect x="27.9" y="467.26" width="12.5" height="2.23" fill="#9b8ecf"/><rect x="40.1" y="467.26" width="12.5" height="2.23" fill="#887bc6"/><rect x="52.3" y="467.26" width="12.5" height="2.23" fill="#564bab"/><rect x="64.5" y="467.26" width="12.5" height="2.23" fill="#ce212d"/><rect x="76.7" y="467.26" width="12.5" height="2.23" fill="#e7808b"/><rect x="88.9" y="467.26" width="12.5" height="2.23" fill="#cd1f2b"/><rect x="101.1" y="467.26" width="12.2" height="2.23" fill="#e4727d"/><rect x="15.7" y="469.24" width="12.5" height="2.23" fill="#7467bc"/><rect x="27.9" y="469.24" width="12.5" height="2.23" fill="#473ca1"/><rect x="40.1" y="469.24" width="12.5" height="2.23" fill="#665ab6"/><rect x="52.3" y="469.24" width="12.5" height="2.23" fill="#8c7fc7"/><rect x="64.5" y="469.24" width="12.5" height="2.23" fill="#ce222e"/><rect x="76.7" y="469.24" width="12.5" height="2.23" fill="#cd1e2a"/><rect x="88.9" y="469.24" width="12.5" height="2.23" fill="#f0afb8"/><rect x="101.1" y="469.24" width="12.2" height="2.23" fill="#aa8cc8"/><rect x="15.7" y="471.22" width="12.5" height="1.98" fill="#c3b5e0"/><rect x="27.9" y="471.22" width="12.5" height="1.98" fill="#e0d2eb"/><rect x="40.1" y="471.22" width="12.5" height="1.98" fill="#c1b3df"/><rect x="52.3" y="471.22" width="12.5" height="1.98" fill="#3d339b"/><rect x="64.5" y="471.22" width="12.5" height="1.98" fill="#e77f8a"/><rect x="76.7" y="471.22" width="12.5" height="1.98" fill="#f0adb6"/><rect x="88.9" y="471.22" width="12.5" height="1.98" fill="#dd505c"/><rect x="101.1" y="471.22" width="12.2" height="1.98" fill="#d8424e"/></g>
<g font-size="8.3" font-style="italic"><text x="116.8" y="42.4" color="#25274f">Utx</text><text x="116.8" y="50.93" color="#25274f">Ect2l</text><text x="116.8" y="59.46" color="#25274f">Nf1</text><text x="116.8" y="67.99" color="#25274f">Hdac5</text><text x="116.8" y="76.52" color="#25274f">Pcgf2</text><text x="116.8" y="85.05" color="#25274f">Lzts2</text><text x="116.8" y="93.58" color="#25274f">Pura</text><text x="116.8" y="102.11" color="#25274f">Ppp1r13b</text><text x="116.8" y="110.64" color="#25274f">Dock4</text><text x="116.8" y="119.17" color="#25274f">Rps6ka2</text><text x="116.8" y="127.7" color="#25274f">Dapk1</text><text x="116.8" y="136.23" color="#25274f">Wnk2</text><text x="116.8" y="144.76" color="#25274f">Col2a1</text><text x="116.8" y="153.29" color="#25274f">Slc26a4</text><text x="116.8" y="161.82" color="#25274f">Btbd11</text><text x="116.8" y="170.35" color="#25274f">Bin1</text><text x="116.8" y="178.88" color="#25274f">Cux2</text><text x="116.8" y="187.41" color="#25274f">Rnf39</text><text x="116.8" y="195.94" color="#25274f">Trank1</text><text x="116.8" y="204.47" color="#25274f">Cacng4</text><text x="116.8" y="213" color="#25274f">Cnn3</text><text x="116.8" y="221.53" color="#25274f">Fam102a</text><text x="116.8" y="230.06" color="#25274f">Tcf7l1</text><text x="116.8" y="238.9" color="#a81a2a">Itsn1</text><text x="116.8" y="246.73" color="#a81a2a">Pak3</text><text x="116.8" y="254.56" color="#a81a2a">Prr11</text><text x="116.8" y="262.39" color="#a81a2a">Cpeb4</text><text x="116.8" y="270.22" color="#a81a2a">Ccdc88a</text><text x="116.8" y="278.05" color="#a81a2a">Praf2</text><text x="116.8" y="285.88" color="#a81a2a">Angptl2</text><text x="116.8" y="293.71" color="#a81a2a">Wwtr1</text><text x="116.8" y="301.54" color="#a81a2a">Fam83d</text><text x="116.8" y="309.37" color="#a81a2a">Anln</text><text x="116.8" y="317.2" color="#a81a2a">Sqstm1</text><text x="116.8" y="325.03" color="#a81a2a">Epgn</text><text x="116.8" y="332.86" color="#a81a2a">Ube2c</text><text x="116.8" y="340.69" color="#a81a2a">Crkl</text><text x="116.8" y="348.52" color="#a81a2a">Cenpn</text><text x="116.8" y="356.35" color="#a81a2a">Map2k6</text><text x="116.8" y="364.18" color="#a81a2a">Vangl1</text><text x="116.8" y="372.01" color="#a81a2a">Lamc2</text><text x="116.8" y="379.84" color="#a81a2a">Wnt5a</text><text x="116.8" y="387.67" color="#a81a2a">Stmn1</text><text x="116.8" y="395.5" color="#a81a2a">Tnk2</text><text x="116.8" y="403.33" color="#a81a2a">Plk1</text><text x="116.8" y="411.16" color="#a81a2a">Tfpi</text><text x="116.8" y="418.99" color="#a81a2a">Nfya</text><text x="116.8" y="426.82" color="#a81a2a">Nedd9</text><text x="116.8" y="434.65" color="#a81a2a">Ccnb2</text><text x="116.8" y="442.48" color="#a81a2a">Cdk2</text><text x="116.8" y="450.31" color="#a81a2a">Dlgap5</text><text x="116.8" y="458.14" color="#a81a2a">Ccnf</text><text x="116.8" y="465.97" color="#a81a2a">Aurkb</text><text x="116.8" y="473.8" color="#a81a2a">Tal1</text></g>
<rect x="18.5" y="478.5" width="42.3" height="2.5" fill="#b51e2d"/>
<rect x="67.1" y="478.5" width="42.3" height="2.5" fill="#2b2d64"/>
<g font-size="10.7" font-style="italic" text-anchor="middle">
<text x="40.2" y="491.8" color="#a81a2a">Vector</text>
<text x="88.8" y="491.8" color="#25274f">Utx</text>
<text x="88.3" y="504.6" color="#25274f">sh#1</text>
</g>
<!-- legend -->
<g><rect x="136.3" y="488.5" width="8.06" height="8" fill="#3f3a96" stroke="#9a98b0" stroke-width="0.3"/><rect x="144.36" y="488.5" width="8.06" height="8" fill="#4c4a9f" stroke="#9a98b0" stroke-width="0.3"/><rect x="152.42" y="488.5" width="8.06" height="8" fill="#6560ad" stroke="#9a98b0" stroke-width="0.3"/><rect x="160.48" y="488.5" width="8.06" height="8" fill="#9490c8" stroke="#9a98b0" stroke-width="0.3"/><rect x="168.53" y="488.5" width="8.06" height="8" fill="#c8c4e4" stroke="#9a98b0" stroke-width="0.3"/><rect x="176.59" y="488.5" width="8.06" height="8" fill="#e4dff0" stroke="#9a98b0" stroke-width="0.3"/><rect x="184.65" y="488.5" width="8.06" height="8" fill="#f0d8e0" stroke="#9a98b0" stroke-width="0.3"/><rect x="192.71" y="488.5" width="8.06" height="8" fill="#e6a0a8" stroke="#9a98b0" stroke-width="0.3"/><rect x="200.77" y="488.5" width="8.06" height="8" fill="#dc7080" stroke="#9a98b0" stroke-width="0.3"/><rect x="208.82" y="488.5" width="8.06" height="8" fill="#d44858" stroke="#9a98b0" stroke-width="0.3"/><rect x="216.88" y="488.5" width="8.06" height="8" fill="#cf3040" stroke="#9a98b0" stroke-width="0.3"/><rect x="224.94" y="488.5" width="8.06" height="8" fill="#c8141e" stroke="#9a98b0" stroke-width="0.3"/></g>
<g font-size="10.2" text-anchor="middle" color="#141414">
<text x="136.3" y="507">-3</text><text x="151.4" y="507">-2</text><text x="166.5" y="507">-1</text><text x="184.5" y="507">0</text><text x="200.9" y="507">1</text><text x="215.8" y="507">2</text><text x="230" y="507">3</text>
</g>
<!-- Panel B -->
<text x="174.7" y="12.4" font-size="18" font-weight="bold" color="#141414">B</text>
<g font-size="10.65" color="#141414">
<text x="240.9" y="11.3">Gene set: EARLY_T_LYMPHOCYTE_DOWN</text>
<text x="240.9" y="22.8">Vector controls vs Utx sh#1 murine leukemias</text>
</g>
<text transform="translate(211.7,83.2) rotate(-90)" font-size="10.4" text-anchor="middle" color="#141414">Enrichment score (ES)</text>
<g font-size="10.8" text-anchor="end" color="#141414"><text x="236" y="39.85">0.6</text><text x="236" y="53.52">0.5</text><text x="236" y="67.18">0.4</text><text x="236" y="80.85">0.3</text><text x="236" y="94.52">0.2</text><text x="236" y="108.18">0.1</text><text x="236" y="121.85">0</text></g>
<g stroke="#ededed" stroke-width="0.7" fill="none">M266.7,33V126M293.4,33V126M320.1,33V126M346.8,33V126M373.5,33V126M400.2,33V126M426.9,33V126M453.6,33V126M240,104.33 H463M240,90.67 H463M240,77 H463M240,63.33 H463M240,49.67 H463</g>
<path d="M463,33H240V126H463" fill="none" stroke="#dcdcdc" stroke-width="0.8"/><path d="M240,157.8H463" stroke="#d4d4d4" stroke-width="0.8"/>
<path d="M240,118H463" stroke="#bdbdbd" stroke-width="1"/>
<path d="M240.3,118.5 L241.5,85.8 L242.8,85.8 L244.7,87.3 L245.7,74.2 L247.2,73.3 L248,62.7 L249.9,60.8 L251,57 L252.4,49.2 L254.3,46.3 L257.2,48.3 L259.5,49.2 L260.7,43.5 L263,44.4 L264.5,38.7 L266.5,37.3 L267.8,37.3 L271.7,39.6 L275.5,42.5 L277.4,43.5 L279.3,41.9 L281.3,43.5 L283.2,41.2 L285.1,42.1 L287,41.2 L289,41.2 L292.8,44.4 L296.7,47.3 L301.5,48.3 L305.3,49.2 L311,53 L316.8,55 L322.6,57.9 L330.3,62.7 L338,67.5 L348,73.5 L360,81.3 L372,89 L385,97 L388.8,98.8 L391.3,99.5 L393,98.8 L396.3,101.3 L402,103.5 L407.5,106.3 L410,107 L412.5,106.3 L417.5,110 L421.3,108.8 L423.8,111.3 L429,114.8 L435,118.8 L442.5,122 L444.5,118 L445.5,119.5 L448.8,113.8 L451.3,116.3 L454.5,118" fill="none" stroke="#76a640" stroke-width="1.8" stroke-linejoin="round"/>
<g font-size="9.3" color="#141414"><text x="411.6" y="45">NES = 1.74</text><text x="411.6" y="55.9">FDR = 0.21</text><text x="411.6" y="66.2">p&lt;0.01</text></g>
<rect x="240.45" y="127.7" width="1.5" height="30.1" fill="#151515"/><rect x="244.85" y="127.7" width="1.3" height="30.1" fill="#888"/><rect x="246.55" y="127.7" width="1.3" height="30.1" fill="#555"/><rect x="250.6" y="127.7" width="1.4" height="30.1" fill="#444"/><rect x="251.8" y="127.7" width="1.2" height="30.1" fill="#777"/><rect x="253.45" y="127.7" width="1.3" height="30.1" fill="#888"/><rect x="259.85" y="127.7" width="1.3" height="30.1" fill="#666"/><rect x="263.85" y="127.7" width="1.3" height="30.1" fill="#777"/><rect x="266.15" y="127.7" width="1.3" height="30.1" fill="#777"/><rect x="276.55" y="127.7" width="1.3" height="30.1" fill="#777"/><rect x="280.05" y="127.7" width="1.3" height="30.1" fill="#888"/><rect x="281.75" y="127.7" width="1.3" height="30.1" fill="#777"/><rect x="284.65" y="127.7" width="1.3" height="30.1" fill="#888"/><rect x="286.75" y="127.7" width="1.3" height="30.1" fill="#888"/><rect x="298.05" y="127.7" width="1.3" height="30.1" fill="#888"/><rect x="301.45" y="127.7" width="1.3" height="30.1" fill="#888"/><rect x="305.25" y="127.7" width="1.3" height="30.1" fill="#777"/><rect x="311.25" y="127.7" width="1.3" height="30.1" fill="#888"/><rect x="316.2" y="127.7" width="1.4" height="30.1" fill="#444"/><rect x="333.15" y="127.7" width="1.3" height="30.1" fill="#888"/><rect x="337.75" y="127.7" width="1.3" height="30.1" fill="#666"/><rect x="342.65" y="127.7" width="1.3" height="30.1" fill="#888"/><rect x="355.65" y="127.7" width="1.3" height="30.1" fill="#555"/><rect x="370.85" y="127.7" width="1.3" height="30.1" fill="#777"/><rect x="378.05" y="127.7" width="1.3" height="30.1" fill="#555"/><rect x="387.65" y="127.7" width="1.3" height="30.1" fill="#777"/><rect x="391.5" y="127.7" width="2" height="30.1" fill="#333"/><rect x="399.75" y="127.7" width="1.3" height="30.1" fill="#888"/><rect x="408.8" y="127.7" width="2" height="30.1" fill="#888"/><rect x="417.85" y="127.7" width="1.3" height="30.1" fill="#666"/><rect x="422.45" y="127.7" width="1.3" height="30.1" fill="#666"/><rect x="442.45" y="127.7" width="1.3" height="30.1" fill="#777"/><rect x="446.75" y="127.7" width="1.3" height="30.1" fill="#555"/>
<rect x="240" y="157.8" width="214" height="7.7" fill="url(#gB)"/>
<g font-size="11.35" font-style="italic" stroke-width="0.55">
<text x="240" y="178.7" color="#a81a2a">Vector</text>
<text x="459.6" y="178.7" text-anchor="end" color="#25274f">Utx sh#1</text>
</g>
<!-- Panel C -->
<text x="174" y="221.3" font-size="19" font-weight="bold" color="#141414">C</text>
<g font-size="10.3" text-anchor="middle" color="#141414">
<text transform="translate(221.3,254.2) rotate(-90)">H3K27me3 ChIP-seq</text>
<text transform="translate(220.3,369) rotate(-90)">H3K27me3 ChIP-seq</text>
</g>
<path d="M237.5,214.3V232.5M235.2,217.2H237.5M237.5,235.6V253.3M235.2,237.6H237.5M237.5,257.9V275.6M235.2,260H237.5M237.5,280.2V298.5M235.2,282.3H237.5M237.5,327V345.1M235.2,331H237.5M237.5,348.2V366.3M235.2,351H237.5M237.5,370.7V388.8M235.2,372.9H237.5M237.5,393.2V411.3M235.2,395H237.5" stroke="#333" stroke-width="0.8" fill="none"/>
<g font-size="10" text-anchor="end" color="#141414"><text x="235" y="220.6">5</text><text x="235" y="241">5</text><text x="235" y="263.4">5</text><text x="235" y="285.7">5</text><text x="235" y="334.4">5</text><text x="235" y="354.4">5</text><text x="235" y="376.3">5</text><text x="235" y="398.4">5</text></g>
<path d="M243.8,230.4H247.6V228.1H243.8ZM249.5,230.4H252.4V228.1H249.5ZM254.3,230.4H256.3V228.1H254.3ZM258.2,230.4H261V228.1H258.2ZM265,230.4H266.8V228.1H265ZM268.8,230.4H270.7V228.1H268.8ZM272.6,230.4H274.5V228.1H272.6ZM276.5,230.4H278.4V228.1H276.5ZM282.2,230.4L282.2,228.2L283.4,227.33L284.6,226.59L285.8,226.92L287,228.2L287,230.4ZM287,230.4L287,228.2L287.98,227.73L288.95,226.7L289.92,228.2L290.9,228.2L290.9,230.4ZM291.8,230.4L291.8,228.2L292.77,228.2L293.73,227.02L294.7,227.03L295.67,227.82L296.63,228.2L297.6,228.2L297.6,230.4ZM313,230.4L313,228.2L313.97,228.2L314.93,227.16L315.9,225.61L316.87,226.18L317.83,228.2L318.8,228.2L318.8,230.4ZM318.8,230.4L318.8,228.2L319.75,226.47L320.7,226.38L321.65,227.74L322.6,228.2L322.6,230.4ZM322.6,230.4L322.6,228.2L323.8,228.14L325,226.1L326.2,227.14L327.4,228.2L327.4,230.4ZM333.2,230.4L333.2,228.2L334.4,227.16L335.6,226.86L336.8,228.02L338,228.2L338,230.4ZM363,230.4H364.9V228.1H363ZM370.7,230.4L370.7,228.2L371.77,227.82L372.85,227.6L373.93,228.15L375,228.2L375,230.4ZM375,230.4L375,228.2L376.07,228.18L377.15,226.9L378.23,228.2L379.3,228.2L379.3,230.4ZM385.1,230.4L385.1,228.2L386.38,228.2L387.67,227.78L388.95,226.16L390.23,227.75L391.52,228.2L392.8,228.2L392.8,230.4ZM398.6,230.4H400.5V228.1H398.6ZM404.3,230.4H406.3V228.1H404.3ZM410.1,230.4H412V228.1H410.1ZM414,230.4L414,228.2L415.4,227.47L416.8,228.2L416.8,230.4ZM422.6,230.4L422.6,228.2L423.64,228.15L424.68,226.98L425.73,226.79L426.77,226.52L427.81,226.94L428.85,226.97L429.89,226.81L430.93,227.64L431.98,226.86L433.02,227.05L434.06,228.2L435.1,228.2L435.1,230.4ZM243.8,251.6H245.7V249.3H243.8ZM257.2,251.6L257.2,249.4L258.65,248.84L260.1,249.4L260.1,251.6ZM270.7,251.6L270.7,249.4L271.65,248.74L272.6,246.73L273.55,249.07L274.5,249.4L274.5,251.6ZM274.5,251.6L274.5,249.4L275.48,248.92L276.45,248.29L277.42,248.62L278.4,249.4L278.4,251.6ZM281.3,251.6L281.3,249.4L282.38,248.8L283.45,245.51L284.53,248.37L285.6,249.4L285.6,251.6ZM285.6,251.6L285.6,249.4L286.68,248.69L287.75,247.53L288.82,249.22L289.9,249.4L289.9,251.6ZM293.8,251.6L293.8,249.4L295.4,248.46L297,249.4L297,251.6ZM297,251.6L297,249.4L297.88,249.25L298.75,247.63L299.62,249.4L300.5,249.4L300.5,251.6ZM300.5,251.6L300.5,249.4L301.57,249.4L302.65,247.96L303.73,249.4L304.8,249.4L304.8,251.6ZM304.8,251.6L304.8,249.4L305.9,249.4L307,249.09L308.1,249.33L309.2,249.4L309.2,251.6ZM312.6,251.6H314.4V249.3H312.6ZM330.85,251.6H332.65V249.3H330.85ZM349.5,251.6H351.5V249.3H349.5ZM357.2,251.6H359.2V249.3H357.2ZM362.85,251.6H364.65V249.3H362.85ZM366.8,251.6H368.8V249.3H366.8ZM375.5,251.6H377.4V249.3H375.5ZM381.3,251.6L381.3,249.4L382.38,249.4L383.45,248.73L384.53,249.4L385.6,249.4L385.6,251.6ZM385.6,251.6L385.6,249.4L386.7,249.23L387.8,247.87L388.9,249.4L390,249.4L390,251.6ZM392.4,251.6H394.2V249.3H392.4ZM397.6,251.6L397.6,249.4L398.58,248.7L399.55,246.28L400.52,248.95L401.5,249.4L401.5,251.6ZM403.4,251.6L403.4,249.4L404.37,248.98L405.33,249.4L406.3,249.32L407.27,249.4L408.23,249.39L409.2,249.4L409.2,251.6ZM417.8,251.6L417.8,249.4L418.77,248.79L419.73,249.29L420.7,248.37L421.67,248.3L422.63,248.82L423.6,249.4L423.6,251.6ZM427.4,251.6L427.4,249.4L428.53,249.4L429.67,248.28L430.8,248.32L431.93,248.13L433.07,249.27L434.2,249.4L434.2,251.6ZM243.8,275.6L243.8,273.4L245,273.4L246.2,273.17L247.4,273.4L248.6,273.4L248.6,275.6ZM251.5,275.6H253.4V273.3H251.5ZM258.2,275.6H260.1V273.3H258.2ZM268.8,275.6H274.5V273.3H268.8ZM274.5,275.6L274.5,273.4L275.48,272.68L276.45,272.58L277.42,273.4L278.4,273.4L278.4,275.6ZM281.3,275.6L281.3,273.4L282.48,273.39L283.65,271.64L284.82,273.18L286,273.4L286,275.6ZM286,275.6L286,273.4L286.97,273.4L287.93,272.62L288.9,272.74L289.87,272.88L290.83,273.4L291.8,273.4L291.8,275.6ZM293.8,275.6H296V273.3H293.8ZM297.5,275.6H300V273.3H297.5ZM300.8,275.6H302.6V273.3H300.8ZM304.3,275.6H307.2V273.3H304.3ZM311.6,275.6H313.4V273.3H311.6ZM319.7,275.6L319.7,273.4L320.83,271.33L321.97,270.07L323.1,266.34L324.23,268.53L325.37,271.05L326.5,273.4L326.5,275.6ZM330.3,275.6H333.2V273.3H330.3ZM335,275.6H338V273.3H335ZM338,275.6H341.8V273.3H338ZM342.8,275.6L342.8,273.4L343.92,273.4L345.03,272.44L346.15,272.67L347.27,272.35L348.38,273.29L349.5,273.4L349.5,275.6ZM353.4,275.6L353.4,273.4L354.37,273.4L355.33,273.4L356.3,272.88L357.27,272.85L358.23,273.4L359.2,273.4L359.2,275.6ZM360.35,275.6H362.15V273.3H360.35ZM363.35,275.6H365.15V273.3H363.35ZM367.8,275.6L367.8,273.4L368.92,271.45L370.03,268.42L371.15,266.4L372.27,269.13L373.38,271.8L374.5,273.4L374.5,275.6ZM374.5,275.6L374.5,273.4L375.48,272.98L376.45,272.51L377.42,272.91L378.4,273.4L378.4,275.6ZM381.3,275.6L381.3,273.4L382.35,272.36L383.4,270.21L384.45,270.38L385.5,270.51L386.55,269.3L387.6,270.52L388.65,270.98L389.7,270.16L390.75,271.8L391.8,273.4L391.8,275.6ZM391.8,275.6L391.8,273.4L392.77,270.38L393.75,267.23L394.73,271.37L395.7,273.4L395.7,275.6ZM395.7,275.6L395.7,273.4L396.65,272.41L397.6,273.4L397.6,275.6ZM398.6,275.6L398.6,273.4L399.55,267.39L400.5,265.08L401.45,268.3L402.4,273.4L402.4,275.6ZM406.3,275.6L406.3,273.4L407.35,272.02L408.4,270.43L409.45,271.72L410.5,273.4L410.5,275.6ZM410.5,275.6L410.5,273.4L411.38,271.01L412.25,267.2L413.12,270.57L414,273.4L414,275.6ZM414,275.6L414,273.4L415.07,272.87L416.15,272.09L417.23,271.62L418.3,270.52L419.38,271.85L420.45,271.46L421.53,271.93L422.6,273.4L422.6,275.6ZM427.4,275.6L427.4,273.4L428.6,272.36L429.8,272.47L431,273.24L432.2,273.4L432.2,275.6ZM435,275.6H437V273.3H435ZM246.7,297.7H248.6V295.4H246.7ZM252.4,297.7H255.3V295.4H252.4ZM258.2,297.7H264V295.4H258.2ZM275.5,297.7H278.4V295.4H275.5ZM283.2,297.7L283.2,295.5L284.48,295.5L285.77,294.61L287.05,293.66L288.33,295.24L289.62,295.5L290.9,295.5L290.9,297.7ZM291.8,297.7L291.8,295.5L292.9,295.5L294,295.03L295.1,294.56L296.2,295.43L297.3,295.43L298.4,295.21L299.5,294.29L300.6,295.5L301.7,295.22L302.8,295.45L303.9,295.5L305,295.44L306.1,295.5L307.2,295.5L307.2,297.7ZM311,297.7L311,295.5L312,293.19L313,291.5L314,293.07L315,295.5L315,297.7ZM315,297.7L315,295.5L315.95,293.28L316.9,290.24L317.85,292.5L318.8,295.5L318.8,297.7ZM318.8,297.7L318.8,295.5L319.75,292.27L320.7,290L321.65,292.77L322.6,295.5L322.6,297.7ZM322.6,297.7L322.6,295.5L323.8,294.4L325,294.19L326.2,294.91L327.4,295.5L327.4,297.7ZM333.2,297.7H335V295.4H333.2ZM338,297.7L338,295.5L339.09,295.5L340.18,295.5L341.26,295.21L342.35,295.43L343.44,295.5L344.52,294.72L345.61,295.5L346.7,295.5L346.7,297.7ZM355.3,297.7L355.3,295.5L356.27,295.5L357.25,294.08L358.23,294.83L359.2,295.5L359.2,297.7ZM363,297.7L363,295.5L364.08,295.14L365.16,293.79L366.24,293.89L367.32,292.86L368.41,292.53L369.49,293L370.57,291.82L371.65,292.84L372.73,292.01L373.81,293.9L374.89,292.93L375.98,294.15L377.06,293.07L378.14,293.49L379.22,295.4L380.3,295.5L380.3,297.7ZM380.3,297.7L380.3,295.5L381.48,293.79L382.65,291.01L383.82,293.07L385,295.5L385,297.7ZM385,297.7L385,295.5L386.23,294.19L387.45,292.57L388.67,294.06L389.9,295.5L389.9,297.7ZM389.9,297.7L389.9,295.5L390.92,292.25L391.95,288.41L392.98,292.6L394,295.5L394,297.7ZM394,297.7L394,295.5L394.9,293.47L395.8,292.96L396.7,294.37L397.6,295.5L397.6,297.7ZM397.6,297.7L397.6,295.5L398.68,295.09L399.76,293.05L400.84,291.82L401.93,291.98L403.01,292.73L404.09,292.7L405.17,291.77L406.25,293.48L407.33,293.6L408.41,291.03L409.49,291.89L410.57,293.46L411.66,293.15L412.74,294.26L413.82,294.77L414.9,295.5L414.9,297.7ZM414.9,297.7L414.9,295.5L415.87,294.65L416.83,293.78L417.8,292.77L418.77,293.38L419.73,295.08L420.7,295.5L420.7,297.7ZM422.6,297.7L422.6,295.5L423.8,291.66L425,292.41L426.2,293.53L427.4,295.5L427.4,297.7ZM428.4,297.7L428.4,295.5L429.37,295.18L430.33,294.01L431.3,292.18L432.27,293.37L433.23,295.5L434.2,295.5L434.2,297.7ZM243.4,341.5L243.4,339.3L244.55,338.17L245.7,339.3L245.7,341.5ZM265,341.5H269.7V339.2H265ZM270.7,341.5L270.7,339.3L271.82,339.3L272.93,338.64L274.05,338.49L275.17,339.3L276.28,339.3L277.4,339.3L277.4,341.5ZM282.1,341.5H283.9V339.2H282.1ZM290.9,341.5L290.9,339.3L292.1,338.4L293.3,337.34L294.5,338.41L295.7,339.3L295.7,341.5ZM300.5,341.5H302.4V339.2H300.5ZM306.3,341.5L306.3,339.3L307.33,339.23L308.37,338.88L309.4,338.4L310.43,338.42L311.47,339.21L312.5,339.3L312.5,341.5ZM312.5,341.5L312.5,339.3L313.55,339.3L314.6,339.1L315.65,338.48L316.7,339.22L317.75,338.98L318.8,339.3L318.8,341.5ZM324.5,341.5L324.5,339.3L325.48,339.3L326.45,339.01L327.42,338.51L328.4,339.3L328.4,341.5ZM332.2,341.5L332.2,339.3L333.15,339.3L334.1,338.44L335.05,339.3L336,339.3L336,341.5ZM338,341.5L338,339.3L338.95,338.98L339.9,338.72L340.85,338.52L341.8,339.3L341.8,341.5ZM344.7,341.5H346.7V339.2H344.7ZM356.3,341.5L356.3,339.3L357.75,339.15L359.2,339.3L359.2,341.5ZM379.3,341.5L379.3,339.3L380.52,339.3L381.75,339.3L382.98,338.89L384.2,339.3L384.2,341.5ZM386,341.5L386,339.3L386.98,339.3L387.95,337.72L388.93,338.54L389.9,338.84L390.88,337.85L391.85,337.89L392.82,338.89L393.8,339.3L393.8,341.5ZM395.35,341.5H397.15V339.2H395.35ZM397.85,341.5H399.65V339.2H397.85ZM400.5,341.5L400.5,339.3L401.62,338.49L402.75,337.62L403.88,338.34L405,339.3L405,341.5ZM405,341.5L405,339.3L406.25,337.7L407.5,335.64L408.75,338.25L410,339.3L410,341.5ZM410,341.5L410,339.3L411.12,338.38L412.25,337.84L413.38,337.93L414.5,339.3L414.5,341.5ZM414.5,341.5L414.5,339.3L415.57,338.82L416.65,338.05L417.73,338.67L418.8,339.3L418.8,341.5ZM420.7,341.5H422.6V339.2H420.7ZM426.5,341.5H428.4V339.2H426.5ZM436,341.5H438V339.2H436ZM252.4,364.6H254.3V362.3H252.4ZM258.2,364.6L258.2,362.4L259.27,362.4L260.35,361.78L261.43,361.41L262.5,362.25L263.57,361.65L264.65,362.35L265.73,362.4L266.8,362.4L266.8,364.6ZM269.7,364.6H272.6V362.3H269.7ZM275.5,364.6L275.5,362.4L276.45,362.16L277.4,359.74L278.35,361.89L279.3,362.4L279.3,364.6ZM281.3,364.6L281.3,362.4L282.25,362.01L283.2,361.74L284.15,361.31L285.1,362.4L285.1,364.6ZM293.8,364.6L293.8,362.4L294.94,362.4L296.07,362.15L297.21,360.96L298.35,360.68L299.48,360.91L300.62,361.3L301.75,359.81L302.89,359.6L304.03,360.38L305.16,361.45L306.3,359.95L307.44,360.07L308.57,359.84L309.71,359.65L310.85,359.71L311.98,360.31L313.12,361.17L314.25,361.18L315.39,361.66L316.53,361.97L317.66,362.4L318.8,362.4L318.8,364.6ZM318.8,364.6L318.8,362.4L319.75,361.44L320.7,358.83L321.65,357.54L322.6,358.9L323.55,361.3L324.5,362.4L324.5,364.6ZM324.5,364.6L324.5,362.4L325.48,361.72L326.45,361.59L327.42,361.99L328.4,362.4L328.4,364.6ZM332.2,364.6L332.2,362.4L333.17,362.15L334.13,361.54L335.1,361.37L336.07,361.92L337.03,362.4L338,362.4L338,364.6ZM338,364.6L338,362.4L339.2,361.68L340.4,362.24L341.6,361.86L342.8,362.4L342.8,364.6ZM345.7,364.6H347.6V362.3H345.7ZM354.9,364.6H356.7V362.3H354.9ZM364,364.6L364,362.4L365.28,361.77L366.57,361.48L367.85,362.33L369.13,361.51L370.42,362.38L371.7,362.4L371.7,364.6ZM377.4,364.6L377.4,362.4L378.52,361.91L379.65,358.86L380.77,359.45L381.9,360.23L383.02,357.93L384.15,357.54L385.27,358.89L386.4,359.97L387.52,358.12L388.65,360.34L389.77,361.9L390.9,362.4L390.9,364.6ZM393.8,364.6L393.8,362.4L394.94,362.4L396.07,361.62L397.21,360.38L398.35,359.04L399.49,357.96L400.62,360.14L401.76,358.94L402.9,359.95L404.04,358.22L405.18,359.33L406.31,358.85L407.45,358.67L408.59,359.96L409.73,360.92L410.86,362.4L412,362.4L412,364.6ZM414.9,364.6L414.9,362.4L416.03,361.76L417.17,360.51L418.3,360.55L419.43,360.21L420.57,361.67L421.7,362.4L421.7,364.6ZM429.25,364.6H431.05V362.3H429.25ZM432.5,364.6H435V362.3H432.5ZM436,364.6H438V362.3H436ZM242.8,387.3H244.7V385H242.8ZM247.6,387.3L247.6,385.1L248.8,384.8L250,385.1L251.2,383.73L252.4,383.9L253.6,385.07L254.8,384.11L256,384.9L257.2,385.1L257.2,387.3ZM257.2,387.3L257.2,385.1L258.4,384.48L259.6,382.71L260.8,384.08L262,385.1L262,387.3ZM262,387.3L262,385.1L263.2,383.48L264.4,380.63L265.6,383.76L266.8,385.1L266.8,387.3ZM269.7,387.3H272.6V385H269.7ZM278.4,387.3L278.4,385.1L279.37,385.1L280.33,384.31L281.3,382.52L282.27,384.55L283.23,385.1L284.2,385.1L284.2,387.3ZM289,387.3L289,385.1L290.12,384.62L291.23,382.93L292.35,379.79L293.47,382.3L294.58,383.94L295.7,385.1L295.7,387.3ZM295.7,387.3L295.7,385.1L296.82,385.1L297.95,384.85L299.07,384.51L300.2,384.26L301.32,384.15L302.45,384L303.57,382.89L304.7,384.24L305.82,384.53L306.95,384.67L308.07,385.1L309.2,385.1L309.2,387.3ZM310.1,387.3L310.1,385.1L311.08,384.69L312.07,382.94L313.05,382.49L314.03,383.77L315.02,385.08L316,385.1L316,387.3ZM316,387.3L316,385.1L317.1,383.58L318.2,381.8L319.3,379.08L320.4,380.48L321.5,383.35L322.6,385.1L322.6,387.3ZM322.6,387.3L322.6,385.1L323.57,384.14L324.53,383.83L325.5,384.65L326.47,384.63L327.43,384.42L328.4,385.1L328.4,387.3ZM332.2,387.3H334.2V385H332.2ZM340,387.3H341.8V385H340ZM352.4,387.3H354.3V385H352.4ZM356.3,387.3H358.2V385H356.3ZM365,387.3L365,385.1L365.95,383.5L366.9,381.77L367.85,379.13L368.8,382.62L369.75,383.34L370.7,385.1L370.7,387.3ZM376.5,387.3L376.5,385.1L377.62,385.1L378.73,384.73L379.85,383.95L380.97,384.21L382.08,385.1L383.2,385.1L383.2,387.3ZM387,387.3L387,385.1L388.04,383.72L389.08,383.34L390.12,383.23L391.17,382.34L392.21,381.89L393.25,381.98L394.29,381.66L395.33,383.01L396.38,382.74L397.42,383.92L398.46,383.53L399.5,385.1L399.5,387.3ZM401.5,387.3L401.5,385.1L402.9,380.91L404.3,385.1L404.3,387.3ZM404.3,387.3L404.3,385.1L405.44,384.76L406.59,381.9L407.73,380.14L408.88,377.9L410.02,375.92L411.16,376.76L412.31,374.3L413.45,373.82L414.59,374.04L415.74,375.95L416.88,376.22L418.03,379.91L419.17,380.95L420.31,382.06L421.46,384.41L422.6,385.1L422.6,387.3ZM425.5,387.3H427.4V385H425.5ZM436,387.3H438V385H436ZM244.45,410.4H246.25V408.1H244.45ZM257.2,410.4H259.2V408.1H257.2ZM263,410.4L263,408.2L264.12,407.43L265.23,404.94L266.35,404.12L267.47,405.96L268.58,407.78L269.7,408.2L269.7,410.4ZM270.7,410.4L270.7,408.2L271.65,405.03L272.6,403.71L273.55,405.39L274.5,408.2L274.5,410.4ZM278.4,410.4L278.4,408.2L279.6,407.6L280.8,406.6L282,406.69L283.2,405.7L284.4,404.91L285.6,405.64L286.8,407.84L288,408.2L288,410.4ZM288,410.4L288,408.2L289.17,407.97L290.33,405.94L291.5,405.52L292.67,406.4L293.83,407.86L295,408.2L295,410.4ZM295,410.4L295,408.2L296.08,406.9L297.17,405.14L298.25,405.67L299.33,406.01L300.42,406.76L301.5,408.2L301.5,410.4ZM301.5,410.4L301.5,408.2L302.62,407.33L303.75,405.47L304.88,405.1L306,405.99L307.12,406.12L308.25,405.21L309.38,405.1L310.5,404.68L311.62,404.65L312.75,405.67L313.88,406.99L315,408.2L315,410.4ZM315,410.4L315,408.2L316.08,407.76L317.17,406.79L318.25,405.04L319.33,406.17L320.42,408.05L321.5,408.2L321.5,410.4ZM321.5,410.4L321.5,408.2L322.65,407.95L323.8,406.68L324.95,405.71L326.1,406.97L327.25,407.82L328.4,408.2L328.4,410.4ZM330.3,410.4H333V408.1H330.3ZM334.5,410.4H338V408.1H334.5ZM338,410.4H340V408.1H338ZM342,410.4H345.7V408.1H342ZM353.4,410.4L353.4,408.2L354.3,406.5L355.2,406.5L356.1,407.32L357,408.2L357,410.4ZM357,410.4L357,408.2L358,407.52L359,406.62L360,407.8L361,408.2L361,410.4ZM366.8,410.4H369.7V408.1H366.8ZM372.6,410.4L372.6,408.2L374.05,407.29L375.5,408.2L375.5,410.4ZM378.4,410.4L378.4,408.2L379.37,407.3L380.33,405.46L381.3,403.98L382.27,405.43L383.23,407.84L384.2,408.2L384.2,410.4ZM384.2,410.4L384.2,408.2L385.29,408.2L386.39,406.74L387.48,406.61L388.57,406.8L389.66,407.42L390.76,407.3L391.85,407.44L392.94,407.27L394.04,407.59L395.13,406.86L396.22,407.28L397.31,406.78L398.41,408.2L399.5,408.2L399.5,410.4ZM399.5,410.4L399.5,408.2L400.47,403.19L401.43,400.77L402.4,397.54L403.37,401.58L404.33,404.68L405.3,408.2L405.3,410.4ZM405.3,410.4L405.3,408.2L406.75,401.42L408.2,408.2L408.2,410.4ZM408.2,410.4L408.2,408.2L409.4,402.51L410.6,394.12L411.8,402.91L413,408.2L413,410.4ZM413,410.4L413,408.2L413.95,401.23L414.9,402.97L415.85,399.44L416.8,408.2L416.8,410.4ZM416.8,410.4L416.8,408.2L417.93,405.91L419.07,403.67L420.2,403.83L421.33,403.46L422.47,405.98L423.6,408.2L423.6,410.4ZM424.5,410.4H427V408.1H424.5ZM428.5,410.4H431V408.1H428.5ZM432.5,410.4H435V408.1H432.5ZM436,410.4H438V408.1H436Z" fill="#3d3590"/>
<path d="M250,304.4H447M251.2,303.2V312.3H261M250,418.2H371.3M370.8,417V426.3H361" stroke="#111" stroke-width="2.3" fill="none"/>
<path d="M265,312.3L260,309V315.6Z M357,426.3L362,423V429.6Z" fill="#111"/>
<g font-size="11.8" font-style="italic" text-anchor="middle" color="#141414">
<text x="357.6" y="318.2">Lzts2</text>
<text x="311.2" y="431">Pcgf2</text>
</g>
<rect x="442.5" y="219.7" width="2.1" height="35.5" fill="#c0202c"/>
<rect x="442.5" y="263" width="2.1" height="35.4" fill="#2b2d64"/>
<rect x="442.5" y="330" width="2.1" height="35.7" fill="#c0202c"/>
<rect x="442.5" y="374.8" width="2.1" height="34.7" fill="#2b2d64"/>
<g font-size="11.5" text-anchor="middle">
<text x="485.5" y="235.1" color="#ad1a2a">Vector control</text>
<text x="487" y="248.9" color="#ad1a2a">leukemias</text>
<text x="487" y="277.4" color="#25274f">Utx sh#1</text>
<text x="487" y="291.3" color="#25274f">leukemias</text>
<text x="485.5" y="346.8" color="#ad1a2a">Vector control</text>
<text x="487" y="360.6" color="#ad1a2a">leukemias</text>
<text x="487" y="389.9" color="#25274f">Utx sh#1</text>
<text x="487" y="402.6" color="#25274f">leukemias</text>
</g>
<!-- Panel D -->
<text x="-1.5" y="543.7" font-size="18" font-weight="bold" color="#141414">D</text>
<g font-size="10.65" text-anchor="middle" color="#141414">
<text x="169.6" y="544.4">Gene set: down regulated in Utx sh#1 murine leukemias</text>
<text x="170.1" y="556.4">Vector controls vs Utx sh#1 MOHITO samples</text>
</g>
<text transform="translate(34,611) rotate(-90)" font-size="10.4" text-anchor="middle" color="#141414">Enrichment score (ES)</text>
<g font-size="10.8" text-anchor="end" color="#141414"><text x="55.5" y="572.25">0.4</text><text x="55.5" y="588.05">0.3</text><text x="55.5" y="603.85">0.2</text><text x="55.5" y="619.65">0.1</text><text x="55.5" y="635.55">0</text><text x="55.5" y="651.05">-0.1</text></g>
<g stroke="#ededed" stroke-width="0.7" fill="none">M101.1,567.3V661.3M143.7,567.3V661.3M186.3,567.3V661.3M228.9,567.3V661.3M271.5,567.3V661.3M58.5,647.65H280M58.5,615.95H280M58.5,600.1H280M58.5,584.25H280</g>
<path d="M280,567.3H58.5V661.3H280" fill="none" stroke="#dcdcdc" stroke-width="0.8"/><path d="M58.5,692H280" stroke="#d4d4d4" stroke-width="0.8"/>
<path d="M58.5,631.8H280" stroke="#bdbdbd" stroke-width="1"/>
<path d="M58.5,631.8 L59.2,623.3 L60.7,617 L62.3,613.8 L63.4,609.6 L64.5,602.2 L65.5,595.8 L67.6,593.3 L70.4,591.6 L71.9,588.4 L73.3,585.3 L75,582.1 L77.2,577.9 L79.3,575.8 L82.4,574.7 L84.6,572.6 L87.7,572.6 L90.9,573 L94.1,572.6 L97.3,571.5 L100.4,572.2 L103.6,573 L106.8,573.6 L111,575.8 L115.2,577.2 L119.5,578.5 L123.7,580.6 L130,585.3 L140.6,592.7 L151.2,600 L160,605.6 L171.7,613.8 L183.5,622 L195.2,631.4 L206.9,638.4 L218.7,644.3 L230.4,649 L237.4,653.7 L243.3,656.5 L246.8,654.8 L250.3,656 L253.9,655.5 L257.4,652.5 L260.9,647.8 L264.4,645.4 L267.9,644.3 L269.8,639.6 L271.5,631.4" fill="none" stroke="#76a640" stroke-width="1.8" stroke-linejoin="round"/>
<text x="230.2" y="581.9" font-size="9.45" color="#141414">p=0.007</text>
<rect x="58.5" y="662.5" width="0.79" height="29.5" fill="#2d2d2d"/><rect x="59.19" y="662.5" width="1.45" height="29.5" fill="#141414"/><rect x="60.53" y="662.5" width="1.41" height="29.5" fill="#141414"/><rect x="61.84" y="662.5" width="1.42" height="29.5" fill="#464646"/><rect x="63.16" y="662.5" width="1.26" height="29.5" fill="#5a5a5a"/><rect x="64.33" y="662.5" width="1.51" height="29.5" fill="#1c1c1c"/><rect x="65.74" y="662.5" width="1.3" height="29.5" fill="#232323"/><rect x="66.94" y="662.5" width="0.86" height="29.5" fill="#1c1c1c"/><rect x="67.7" y="662.5" width="1.45" height="29.5" fill="#141414"/><rect x="69.05" y="662.5" width="1.29" height="29.5" fill="#373737"/><rect x="70.24" y="662.5" width="0.97" height="29.5" fill="#d0d0d0"/><rect x="71.21" y="662.5" width="0.29" height="29.5" fill="#373737"/><rect x="72.2" y="662.5" width="0.82" height="29.5" fill="#5a5a5a"/><rect x="72.92" y="662.5" width="1.03" height="29.5" fill="#1c1c1c"/><rect x="73.86" y="662.5" width="0.8" height="29.5" fill="#1c1c1c"/><rect x="74.56" y="662.5" width="0.85" height="29.5" fill="#5a5a5a"/><rect x="75.31" y="662.5" width="1.39" height="29.5" fill="#1c1c1c"/><rect x="76.6" y="662.5" width="1.5" height="29.5" fill="#5a5a5a"/><rect x="77.99" y="662.5" width="1.03" height="29.5" fill="#464646"/><rect x="78.92" y="662.5" width="0.69" height="29.5" fill="#f2f2f2"/><rect x="80.3" y="662.5" width="0.74" height="29.5" fill="#e4e4e4"/><rect x="81.04" y="662.5" width="0.8" height="29.5" fill="#373737"/><rect x="81.74" y="662.5" width="0.78" height="29.5" fill="#141414"/><rect x="82.43" y="662.5" width="1.53" height="29.5" fill="#1c1c1c"/><rect x="83.86" y="662.5" width="0.72" height="29.5" fill="#dfdfdf"/><rect x="84.58" y="662.5" width="0.92" height="29.5" fill="#232323"/><rect x="85.39" y="662.5" width="0.76" height="29.5" fill="#1c1c1c"/><rect x="86.06" y="662.5" width="0.89" height="29.5" fill="#373737"/><rect x="86.85" y="662.5" width="1.57" height="29.5" fill="#5a5a5a"/><rect x="88.32" y="662.5" width="0.75" height="29.5" fill="#2d2d2d"/><rect x="88.97" y="662.5" width="0.92" height="29.5" fill="#1c1c1c"/><rect x="89.79" y="662.5" width="0.73" height="29.5" fill="#d8d8d8"/><rect x="90.52" y="662.5" width="0.58" height="29.5" fill="#5a5a5a"/><rect x="91.7" y="662.5" width="0.77" height="29.5" fill="#6e6e6e"/><rect x="92.37" y="662.5" width="0.79" height="29.5" fill="#5a5a5a"/><rect x="93.06" y="662.5" width="0.74" height="29.5" fill="#323232"/><rect x="94.5" y="662.5" width="1.13" height="29.5" fill="#232323"/><rect x="95.53" y="662.5" width="0.71" height="29.5" fill="#464646"/><rect x="96.14" y="662.5" width="1.51" height="29.5" fill="#464646"/><rect x="97.55" y="662.5" width="1.37" height="29.5" fill="#373737"/><rect x="98.82" y="662.5" width="1.08" height="29.5" fill="#464646"/><rect x="99.8" y="662.5" width="1.29" height="29.5" fill="#464646"/><rect x="100.99" y="662.5" width="1.11" height="29.5" fill="#5a5a5a"/><rect x="102" y="662.5" width="1.47" height="29.5" fill="#232323"/><rect x="103.37" y="662.5" width="1.29" height="29.5" fill="#464646"/><rect x="104.56" y="662.5" width="0.93" height="29.5" fill="#d5d5d5"/><rect x="105.48" y="662.5" width="0.96" height="29.5" fill="#1c1c1c"/><rect x="106.34" y="662.5" width="0.76" height="29.5" fill="#232323"/><rect x="107" y="662.5" width="2" height="29.5" fill="#a9a9a9"/><rect x="109" y="662.5" width="1.06" height="29.5" fill="#464646"/><rect x="109.96" y="662.5" width="1.02" height="29.5" fill="#2d2d2d"/><rect x="110.89" y="662.5" width="1.13" height="29.5" fill="#373737"/><rect x="111.92" y="662.5" width="1.37" height="29.5" fill="#464646"/><rect x="113.18" y="662.5" width="0.62" height="29.5" fill="#1c1c1c"/><rect x="113.7" y="662.5" width="1.5" height="29.5" fill="#c3c3c3"/><rect x="115.2" y="662.5" width="0.88" height="29.5" fill="#282828"/><rect x="115.98" y="662.5" width="0.9" height="29.5" fill="#2d2d2d"/><rect x="116.79" y="662.5" width="0.73" height="29.5" fill="#141414"/><rect x="117.41" y="662.5" width="1.3" height="29.5" fill="#0f0f0f"/><rect x="118.62" y="662.5" width="1.39" height="29.5" fill="#161616"/><rect x="119.91" y="662.5" width="0.7" height="29.5" fill="#222222"/><rect x="120.51" y="662.5" width="1.25" height="29.5" fill="#1e1e1e"/><rect x="121.65" y="662.5" width="1.34" height="29.5" fill="#131313"/><rect x="122.9" y="662.5" width="1.21" height="29.5" fill="#171717"/><rect x="124" y="662.5" width="0.83" height="29.5" fill="#131313"/><rect x="124.74" y="662.5" width="0.82" height="29.5" fill="#191919"/><rect x="125.46" y="662.5" width="0.64" height="29.5" fill="#161616"/><rect x="128.3" y="662.5" width="0.77" height="29.5" fill="#aaaaaa"/><rect x="128.97" y="662.5" width="1.07" height="29.5" fill="#828282"/><rect x="129.94" y="662.5" width="0.7" height="29.5" fill="#f5f5f5"/><rect x="130.64" y="662.5" width="0.95" height="29.5" fill="#c9c9c9"/><rect x="131.5" y="662.5" width="0.76" height="29.5" fill="#5a5a5a"/><rect x="132.16" y="662.5" width="0.92" height="29.5" fill="#e0e0e0"/><rect x="133.09" y="662.5" width="1.43" height="29.5" fill="#464646"/><rect x="134.41" y="662.5" width="0.77" height="29.5" fill="#f2f2f2"/><rect x="135.18" y="662.5" width="1.12" height="29.5" fill="#232323"/><rect x="138.5" y="662.5" width="1.57" height="29.5" fill="#464646"/><rect x="139.97" y="662.5" width="1.23" height="29.5" fill="#5a5a5a"/><rect x="141.1" y="662.5" width="0.5" height="29.5" fill="#969696"/><rect x="143" y="662.5" width="1.28" height="29.5" fill="#6e6e6e"/><rect x="144.18" y="662.5" width="0.52" height="29.5" fill="#969696"/><rect x="144.6" y="662.5" width="1.33" height="29.5" fill="#141414"/><rect x="145.83" y="662.5" width="1.12" height="29.5" fill="#464646"/><rect x="146.86" y="662.5" width="1.53" height="29.5" fill="#2d2d2d"/><rect x="148.28" y="662.5" width="1.31" height="29.5" fill="#464646"/><rect x="149.49" y="662.5" width="1.5" height="29.5" fill="#2d2d2d"/><rect x="150.89" y="662.5" width="0.71" height="29.5" fill="#1c1c1c"/><rect x="153" y="662.5" width="0.78" height="29.5" fill="#464646"/><rect x="153.68" y="662.5" width="1.06" height="29.5" fill="#464646"/><rect x="154.64" y="662.5" width="0.91" height="29.5" fill="#969696"/><rect x="155.45" y="662.5" width="1.04" height="29.5" fill="#6e6e6e"/><rect x="156.39" y="662.5" width="0.71" height="29.5" fill="#464646"/><rect x="158" y="662.5" width="0.94" height="29.5" fill="#d0d0d0"/><rect x="158.94" y="662.5" width="0.73" height="29.5" fill="#ededed"/><rect x="159.67" y="662.5" width="0.43" height="29.5" fill="#828282"/><rect x="162.3" y="662.5" width="1.33" height="29.5" fill="#2d2d2d"/><rect x="163.53" y="662.5" width="0.89" height="29.5" fill="#f3f3f3"/><rect x="164.42" y="662.5" width="1.05" height="29.5" fill="#141414"/><rect x="165.38" y="662.5" width="1.39" height="29.5" fill="#5a5a5a"/><rect x="166.67" y="662.5" width="0.88" height="29.5" fill="#1c1c1c"/><rect x="167.45" y="662.5" width="1.57" height="29.5" fill="#1c1c1c"/><rect x="168.92" y="662.5" width="0.8" height="29.5" fill="#cccccc"/><rect x="169.2" y="662.5" width="1.46" height="29.5" fill="#aaaaaa"/><rect x="170.56" y="662.5" width="0.24" height="29.5" fill="#323232"/><rect x="170.7" y="662.5" width="1.07" height="29.5" fill="#202020"/><rect x="171.67" y="662.5" width="0.73" height="29.5" fill="#0f0f0f"/><rect x="172.3" y="662.5" width="2.3" height="29.5" fill="#aaaaaa"/><rect x="174.6" y="662.5" width="0.63" height="29.5" fill="#d3d3d3"/><rect x="175.23" y="662.5" width="0.54" height="29.5" fill="#cfcfcf"/><rect x="175.77" y="662.5" width="0.54" height="29.5" fill="#dddddd"/><rect x="176.2" y="662.5" width="1.5" height="29.5" fill="#bbbbbb"/><rect x="190.8" y="662.5" width="0.99" height="29.5" fill="#6e6e6e"/><rect x="191.69" y="662.5" width="0.63" height="29.5" fill="#cdcdcd"/><rect x="192.32" y="662.5" width="0.78" height="29.5" fill="#323232"/><rect x="194.6" y="662.5" width="0.66" height="29.5" fill="#f6f6f6"/><rect x="195.26" y="662.5" width="0.9" height="29.5" fill="#ebebeb"/><rect x="196.17" y="662.5" width="1.38" height="29.5" fill="#5a5a5a"/><rect x="197.44" y="662.5" width="0.9" height="29.5" fill="#dbdbdb"/><rect x="198.34" y="662.5" width="0.6" height="29.5" fill="#d1d1d1"/><rect x="198.94" y="662.5" width="1.34" height="29.5" fill="#5a5a5a"/><rect x="200.17" y="662.5" width="0.74" height="29.5" fill="#f2f2f2"/><rect x="200.91" y="662.5" width="0.61" height="29.5" fill="#ededed"/><rect x="201.52" y="662.5" width="0.75" height="29.5" fill="#d8d8d8"/><rect x="202.27" y="662.5" width="1.17" height="29.5" fill="#232323"/><rect x="203.34" y="662.5" width="0.65" height="29.5" fill="#e8e8e8"/><rect x="203.98" y="662.5" width="1.28" height="29.5" fill="#464646"/><rect x="205.16" y="662.5" width="1" height="29.5" fill="#dbdbdb"/><rect x="206.16" y="662.5" width="0.73" height="29.5" fill="#d6d6d6"/><rect x="206.89" y="662.5" width="1" height="29.5" fill="#464646"/><rect x="207.79" y="662.5" width="0.31" height="29.5" fill="#5a5a5a"/><rect x="208" y="662.5" width="1.6" height="29.5" fill="#bebebe"/><rect x="209.6" y="662.5" width="0.98" height="29.5" fill="#969696"/><rect x="210.48" y="662.5" width="0.66" height="29.5" fill="#cbcbcb"/><rect x="211.15" y="662.5" width="0.91" height="29.5" fill="#464646"/><rect x="211.96" y="662.5" width="0.56" height="29.5" fill="#dcdcdc"/><rect x="212.52" y="662.5" width="1.16" height="29.5" fill="#828282"/><rect x="213.58" y="662.5" width="1.32" height="29.5" fill="#6e6e6e"/><rect x="214.79" y="662.5" width="1.4" height="29.5" fill="#323232"/><rect x="216.09" y="662.5" width="0.51" height="29.5" fill="#6e6e6e"/><rect x="216.5" y="662.5" width="0.93" height="29.5" fill="#242424"/><rect x="217.33" y="662.5" width="0.77" height="29.5" fill="#2a2a2a"/><rect x="220.4" y="662.5" width="1.34" height="29.5" fill="#aaaaaa"/><rect x="221.64" y="662.5" width="0.46" height="29.5" fill="#aaaaaa"/><rect x="222" y="662.5" width="0.73" height="29.5" fill="#f9f9f9"/><rect x="222.73" y="662.5" width="0.56" height="29.5" fill="#ebebeb"/><rect x="223.29" y="662.5" width="0.53" height="29.5" fill="#f2f2f2"/><rect x="223.83" y="662.5" width="1.38" height="29.5" fill="#aaaaaa"/><rect x="225.1" y="662.5" width="1.17" height="29.5" fill="#464646"/><rect x="226.17" y="662.5" width="0.95" height="29.5" fill="#dadada"/><rect x="227.12" y="662.5" width="0.66" height="29.5" fill="#cccccc"/><rect x="227.78" y="662.5" width="1.44" height="29.5" fill="#828282"/><rect x="229.12" y="662.5" width="0.85" height="29.5" fill="#464646"/><rect x="229.87" y="662.5" width="1.23" height="29.5" fill="#969696"/><rect x="237.3" y="662.5" width="2.3" height="29.5" fill="#acacac"/><rect x="239.6" y="662.5" width="1.5" height="29.5" fill="#6e6e6e"/><rect x="241" y="662.5" width="0.81" height="29.5" fill="#5a5a5a"/><rect x="241.71" y="662.5" width="1.55" height="29.5" fill="#969696"/><rect x="243.15" y="662.5" width="1.13" height="29.5" fill="#464646"/><rect x="244.18" y="662.5" width="0.96" height="29.5" fill="#6e6e6e"/><rect x="245.04" y="662.5" width="0.96" height="29.5" fill="#d4d4d4"/><rect x="246" y="662.5" width="1.14" height="29.5" fill="#aaaaaa"/><rect x="247.04" y="662.5" width="0.73" height="29.5" fill="#e8e8e8"/><rect x="247.77" y="662.5" width="1.59" height="29.5" fill="#464646"/><rect x="249.26" y="662.5" width="0.92" height="29.5" fill="#f7f7f7"/><rect x="250.19" y="662.5" width="0.91" height="29.5" fill="#969696"/><rect x="251" y="662.5" width="0.51" height="29.5" fill="#dedede"/><rect x="251.51" y="662.5" width="0.98" height="29.5" fill="#cacaca"/><rect x="252.48" y="662.5" width="0.99" height="29.5" fill="#5a5a5a"/><rect x="253.38" y="662.5" width="1.49" height="29.5" fill="#232323"/><rect x="254.77" y="662.5" width="1.13" height="29.5" fill="#2d2d2d"/><rect x="255.8" y="662.5" width="2.2" height="29.5" fill="#acacac"/><rect x="258" y="662.5" width="1.55" height="29.5" fill="#0f0f0f"/><rect x="259.45" y="662.5" width="1.07" height="29.5" fill="#232323"/><rect x="260.42" y="662.5" width="1.21" height="29.5" fill="#2c2c2c"/><rect x="261.53" y="662.5" width="0.59" height="29.5" fill="#f6f6f6"/><rect x="262.11" y="662.5" width="0.84" height="29.5" fill="#181818"/><rect x="262.85" y="662.5" width="1.29" height="29.5" fill="#1b1b1b"/><rect x="264.04" y="662.5" width="0.98" height="29.5" fill="#161616"/><rect x="264.92" y="662.5" width="0.92" height="29.5" fill="#d3d3d3"/><rect x="267.3" y="662.5" width="0.8" height="29.5" fill="#464646"/><rect x="268" y="662.5" width="1.56" height="29.5" fill="#5a5a5a"/><rect x="269.46" y="662.5" width="1.29" height="29.5" fill="#141414"/><rect x="270.65" y="662.5" width="0.65" height="29.5" fill="#2d2d2d"/>
<rect x="58.5" y="692" width="213.2" height="8" fill="url(#gD)"/>
<g font-size="11.35" font-style="italic" stroke-width="0.55">
<text x="59.3" y="713.2" color="#a81a2a">Vector</text>
<text x="278.7" y="713.2" text-anchor="end" color="#25274f">Utx sh#1</text>
</g>
<!-- right heatmap -->
<g font-size="11.6" text-anchor="middle" color="#141414" stroke-width="0.45">
<text x="384.1" y="468.8">TOP25 LEADING EDGE</text>
<text x="384.7" y="481.9">MOHITO samples</text>
</g>
<g><rect x="339.5" y="489" width="12.83" height="9.42" fill="#eee2ec"/><rect x="352.33" y="489" width="12.83" height="9.42" fill="#e896a0"/><rect x="365.17" y="489" width="12.83" height="9.42" fill="#cc1c26"/><rect x="378" y="489" width="12.83" height="9.42" fill="#3a2e90"/><rect x="390.83" y="489" width="12.83" height="9.42" fill="#3a2e90"/><rect x="403.67" y="489" width="12.83" height="9.42" fill="#e896a0"/><rect x="339.5" y="498.42" width="12.83" height="9.42" fill="#cc1c26"/><rect x="352.33" y="498.42" width="12.83" height="9.42" fill="#dc505c"/><rect x="365.17" y="498.42" width="12.83" height="9.42" fill="#dc505c"/><rect x="378" y="498.42" width="12.83" height="9.42" fill="#eee2ec"/><rect x="390.83" y="498.42" width="12.83" height="9.42" fill="#3a2e90"/><rect x="403.67" y="498.42" width="12.83" height="9.42" fill="#3a2e90"/><rect x="339.5" y="507.85" width="12.83" height="9.42" fill="#eee2ec"/><rect x="352.33" y="507.85" width="12.83" height="9.42" fill="#e896a0"/><rect x="365.17" y="507.85" width="12.83" height="9.42" fill="#cc1c26"/><rect x="378" y="507.85" width="12.83" height="9.42" fill="#3a2e90"/><rect x="390.83" y="507.85" width="12.83" height="9.42" fill="#3a2e90"/><rect x="403.67" y="507.85" width="12.83" height="9.42" fill="#e896a0"/><rect x="339.5" y="517.27" width="12.83" height="9.42" fill="#eee2ec"/><rect x="352.33" y="517.27" width="12.83" height="9.42" fill="#cc1c26"/><rect x="365.17" y="517.27" width="12.83" height="9.42" fill="#e896a0"/><rect x="378" y="517.27" width="12.83" height="9.42" fill="#3a2e90"/><rect x="390.83" y="517.27" width="12.83" height="9.42" fill="#3a2e90"/><rect x="403.67" y="517.27" width="12.83" height="9.42" fill="#e896a0"/><rect x="339.5" y="526.7" width="12.83" height="9.42" fill="#dc505c"/><rect x="352.33" y="526.7" width="12.83" height="9.42" fill="#eee2ec"/><rect x="365.17" y="526.7" width="12.83" height="9.42" fill="#cc1c26"/><rect x="378" y="526.7" width="12.83" height="9.42" fill="#eee2ec"/><rect x="390.83" y="526.7" width="12.83" height="9.42" fill="#3a2e90"/><rect x="403.67" y="526.7" width="12.83" height="9.42" fill="#eee2ec"/><rect x="339.5" y="536.12" width="12.83" height="9.42" fill="#e896a0"/><rect x="352.33" y="536.12" width="12.83" height="9.42" fill="#cc1c26"/><rect x="365.17" y="536.12" width="12.83" height="9.42" fill="#dc505c"/><rect x="378" y="536.12" width="12.83" height="9.42" fill="#3a2e90"/><rect x="390.83" y="536.12" width="12.83" height="9.42" fill="#eee2ec"/><rect x="403.67" y="536.12" width="12.83" height="9.42" fill="#eee2ec"/><rect x="339.5" y="545.54" width="12.83" height="9.42" fill="#eee2ec"/><rect x="352.33" y="545.54" width="12.83" height="9.42" fill="#cc1c26"/><rect x="365.17" y="545.54" width="12.83" height="9.42" fill="#cc1c26"/><rect x="378" y="545.54" width="12.83" height="9.42" fill="#3a2e90"/><rect x="390.83" y="545.54" width="12.83" height="9.42" fill="#eee2ec"/><rect x="403.67" y="545.54" width="12.83" height="9.42" fill="#dc505c"/><rect x="339.5" y="554.97" width="12.83" height="9.42" fill="#cc1c26"/><rect x="352.33" y="554.97" width="12.83" height="9.42" fill="#cc1c26"/><rect x="365.17" y="554.97" width="12.83" height="9.42" fill="#cecae6"/><rect x="378" y="554.97" width="12.83" height="9.42" fill="#8480c4"/><rect x="390.83" y="554.97" width="12.83" height="9.42" fill="#3a2e90"/><rect x="403.67" y="554.97" width="12.83" height="9.42" fill="#eee2ec"/><rect x="339.5" y="564.39" width="12.83" height="9.42" fill="#cc1c26"/><rect x="352.33" y="564.39" width="12.83" height="9.42" fill="#eee2ec"/><rect x="365.17" y="564.39" width="12.83" height="9.42" fill="#eee2ec"/><rect x="378" y="564.39" width="12.83" height="9.42" fill="#eee2ec"/><rect x="390.83" y="564.39" width="12.83" height="9.42" fill="#3a2e90"/><rect x="403.67" y="564.39" width="12.83" height="9.42" fill="#8480c4"/><rect x="339.5" y="573.82" width="12.83" height="9.42" fill="#cc1c26"/><rect x="352.33" y="573.82" width="12.83" height="9.42" fill="#e896a0"/><rect x="365.17" y="573.82" width="12.83" height="9.42" fill="#dc505c"/><rect x="378" y="573.82" width="12.83" height="9.42" fill="#3a2e90"/><rect x="390.83" y="573.82" width="12.83" height="9.42" fill="#3a2e90"/><rect x="403.67" y="573.82" width="12.83" height="9.42" fill="#cc1c26"/><rect x="339.5" y="583.24" width="12.83" height="9.42" fill="#e896a0"/><rect x="352.33" y="583.24" width="12.83" height="9.42" fill="#8480c4"/><rect x="365.17" y="583.24" width="12.83" height="9.42" fill="#cc1c26"/><rect x="378" y="583.24" width="12.83" height="9.42" fill="#8480c4"/><rect x="390.83" y="583.24" width="12.83" height="9.42" fill="#3a2e90"/><rect x="403.67" y="583.24" width="12.83" height="9.42" fill="#eee2ec"/><rect x="339.5" y="592.66" width="12.83" height="9.42" fill="#dc505c"/><rect x="352.33" y="592.66" width="12.83" height="9.42" fill="#e896a0"/><rect x="365.17" y="592.66" width="12.83" height="9.42" fill="#cc1c26"/><rect x="378" y="592.66" width="12.83" height="9.42" fill="#8480c4"/><rect x="390.83" y="592.66" width="12.83" height="9.42" fill="#3a2e90"/><rect x="403.67" y="592.66" width="12.83" height="9.42" fill="#e896a0"/><rect x="339.5" y="602.09" width="12.83" height="9.42" fill="#e896a0"/><rect x="352.33" y="602.09" width="12.83" height="9.42" fill="#8480c4"/><rect x="365.17" y="602.09" width="12.83" height="9.42" fill="#cc1c26"/><rect x="378" y="602.09" width="12.83" height="9.42" fill="#eee2ec"/><rect x="390.83" y="602.09" width="12.83" height="9.42" fill="#3a2e90"/><rect x="403.67" y="602.09" width="12.83" height="9.42" fill="#eee2ec"/><rect x="339.5" y="611.51" width="12.83" height="9.42" fill="#cc1c26"/><rect x="352.33" y="611.51" width="12.83" height="9.42" fill="#dc505c"/><rect x="365.17" y="611.51" width="12.83" height="9.42" fill="#8480c4"/><rect x="378" y="611.51" width="12.83" height="9.42" fill="#eee2ec"/><rect x="390.83" y="611.51" width="12.83" height="9.42" fill="#cc1c26"/><rect x="403.67" y="611.51" width="12.83" height="9.42" fill="#3a2e90"/><rect x="339.5" y="620.94" width="12.83" height="9.42" fill="#dc505c"/><rect x="352.33" y="620.94" width="12.83" height="9.42" fill="#eee2ec"/><rect x="365.17" y="620.94" width="12.83" height="9.42" fill="#cc1c26"/><rect x="378" y="620.94" width="12.83" height="9.42" fill="#3a2e90"/><rect x="390.83" y="620.94" width="12.83" height="9.42" fill="#eee2ec"/><rect x="403.67" y="620.94" width="12.83" height="9.42" fill="#cc1c26"/><rect x="339.5" y="630.36" width="12.83" height="9.42" fill="#dc505c"/><rect x="352.33" y="630.36" width="12.83" height="9.42" fill="#cc1c26"/><rect x="365.17" y="630.36" width="12.83" height="9.42" fill="#8480c4"/><rect x="378" y="630.36" width="12.83" height="9.42" fill="#3a2e90"/><rect x="390.83" y="630.36" width="12.83" height="9.42" fill="#3a2e90"/><rect x="403.67" y="630.36" width="12.83" height="9.42" fill="#eee2ec"/><rect x="339.5" y="639.78" width="12.83" height="9.42" fill="#eee2ec"/><rect x="352.33" y="639.78" width="12.83" height="9.42" fill="#8480c4"/><rect x="365.17" y="639.78" width="12.83" height="9.42" fill="#cc1c26"/><rect x="378" y="639.78" width="12.83" height="9.42" fill="#8480c4"/><rect x="390.83" y="639.78" width="12.83" height="9.42" fill="#3a2e90"/><rect x="403.67" y="639.78" width="12.83" height="9.42" fill="#e896a0"/><rect x="339.5" y="649.21" width="12.83" height="9.42" fill="#dc505c"/><rect x="352.33" y="649.21" width="12.83" height="9.42" fill="#cc1c26"/><rect x="365.17" y="649.21" width="12.83" height="9.42" fill="#8480c4"/><rect x="378" y="649.21" width="12.83" height="9.42" fill="#3a2e90"/><rect x="390.83" y="649.21" width="12.83" height="9.42" fill="#8480c4"/><rect x="403.67" y="649.21" width="12.83" height="9.42" fill="#8480c4"/><rect x="339.5" y="658.63" width="12.83" height="9.42" fill="#dc505c"/><rect x="352.33" y="658.63" width="12.83" height="9.42" fill="#eee2ec"/><rect x="365.17" y="658.63" width="12.83" height="9.42" fill="#cc1c26"/><rect x="378" y="658.63" width="12.83" height="9.42" fill="#eee2ec"/><rect x="390.83" y="658.63" width="12.83" height="9.42" fill="#3a2e90"/><rect x="403.67" y="658.63" width="12.83" height="9.42" fill="#eee2ec"/><rect x="339.5" y="668.06" width="12.83" height="9.42" fill="#cc1c26"/><rect x="352.33" y="668.06" width="12.83" height="9.42" fill="#eee2ec"/><rect x="365.17" y="668.06" width="12.83" height="9.42" fill="#e896a0"/><rect x="378" y="668.06" width="12.83" height="9.42" fill="#eee2ec"/><rect x="390.83" y="668.06" width="12.83" height="9.42" fill="#3a2e90"/><rect x="403.67" y="668.06" width="12.83" height="9.42" fill="#8480c4"/><rect x="339.5" y="677.48" width="12.83" height="9.42" fill="#dc505c"/><rect x="352.33" y="677.48" width="12.83" height="9.42" fill="#e896a0"/><rect x="365.17" y="677.48" width="12.83" height="9.42" fill="#cc1c26"/><rect x="378" y="677.48" width="12.83" height="9.42" fill="#cecae6"/><rect x="390.83" y="677.48" width="12.83" height="9.42" fill="#3a2e90"/><rect x="403.67" y="677.48" width="12.83" height="9.42" fill="#eee2ec"/><rect x="339.5" y="686.9" width="12.83" height="9.42" fill="#cc1c26"/><rect x="352.33" y="686.9" width="12.83" height="9.42" fill="#cc1c26"/><rect x="365.17" y="686.9" width="12.83" height="9.42" fill="#dc505c"/><rect x="378" y="686.9" width="12.83" height="9.42" fill="#8480c4"/><rect x="390.83" y="686.9" width="12.83" height="9.42" fill="#3a2e90"/><rect x="403.67" y="686.9" width="12.83" height="9.42" fill="#cecae6"/><rect x="339.5" y="696.33" width="12.83" height="9.42" fill="#dc505c"/><rect x="352.33" y="696.33" width="12.83" height="9.42" fill="#cc1c26"/><rect x="365.17" y="696.33" width="12.83" height="9.42" fill="#dc505c"/><rect x="378" y="696.33" width="12.83" height="9.42" fill="#8480c4"/><rect x="390.83" y="696.33" width="12.83" height="9.42" fill="#8480c4"/><rect x="403.67" y="696.33" width="12.83" height="9.42" fill="#3a2e90"/><rect x="339.5" y="705.75" width="12.83" height="9.42" fill="#cecae6"/><rect x="352.33" y="705.75" width="12.83" height="9.42" fill="#e896a0"/><rect x="365.17" y="705.75" width="12.83" height="9.42" fill="#cc1c26"/><rect x="378" y="705.75" width="12.83" height="9.42" fill="#3a2e90"/><rect x="390.83" y="705.75" width="12.83" height="9.42" fill="#3a2e90"/><rect x="403.67" y="705.75" width="12.83" height="9.42" fill="#dc505c"/><rect x="339.5" y="715.18" width="12.83" height="9.42" fill="#eee2ec"/><rect x="352.33" y="715.18" width="12.83" height="9.42" fill="#dc505c"/><rect x="365.17" y="715.18" width="12.83" height="9.42" fill="#cc1c26"/><rect x="378" y="715.18" width="12.83" height="9.42" fill="#3a2e90"/><rect x="390.83" y="715.18" width="12.83" height="9.42" fill="#3a2e90"/><rect x="403.67" y="715.18" width="12.83" height="9.42" fill="#eee2ec"/></g>
<path d="M339.5,489V724.6M352.33,489V724.6M365.17,489V724.6M378,489V724.6M390.83,489V724.6M403.67,489V724.6M416.5,489V724.6M339.5,489H416.5M339.5,498.42H416.5M339.5,507.85H416.5M339.5,517.27H416.5M339.5,526.7H416.5M339.5,536.12H416.5M339.5,545.54H416.5M339.5,554.97H416.5M339.5,564.39H416.5M339.5,573.82H416.5M339.5,583.24H416.5M339.5,592.66H416.5M339.5,602.09H416.5M339.5,611.51H416.5M339.5,620.94H416.5M339.5,630.36H416.5M339.5,639.78H416.5M339.5,649.21H416.5M339.5,658.63H416.5M339.5,668.06H416.5M339.5,677.48H416.5M339.5,686.9H416.5M339.5,696.33H416.5M339.5,705.75H416.5M339.5,715.18H416.5M339.5,724.6H416.5" stroke="#1e1a3a" stroke-width="0.9" fill="none"/>
<g font-size="8.4" font-style="italic" color="#25274f"><text x="422" y="497.31">S100a4</text><text x="422" y="506.8">Ect2l</text><text x="422" y="516.28">S100a4</text><text x="422" y="525.76">Wdr86</text><text x="422" y="535.25">Ldlrap1</text><text x="422" y="544.73">Tcf7l1</text><text x="422" y="554.22">Zfr2</text><text x="422" y="563.7">Hvcn1</text><text x="422" y="573.18">Cdk15</text><text x="422" y="582.67">Tmem176b</text><text x="422" y="592.15">Padi3</text><text x="422" y="601.64">Serpinf1</text><text x="422" y="611.12">Anxa5</text><text x="422" y="620.6">Zc3h12d</text><text x="422" y="630.09">Nr2f1</text><text x="422" y="639.57">Hvcn1</text><text x="422" y="649.06">Kctd17</text><text x="422" y="655.9">Sipa1l2</text><path d="M422.5,663H436" stroke="#25274f" stroke-width="1.1"/><text x="422" y="676.67">Cdk15</text><text x="422" y="686.09">Tspan32</text><text x="422" y="695.52">Tmem176b</text><text x="422" y="704.94">Utx</text><text x="422" y="714.36">Il2rb</text><text x="422" y="723.79">Tspan32</text></g>
<rect x="342.8" y="728.1" width="29.4" height="1.9" fill="#b51e2d"/>
<rect x="382.6" y="728.1" width="29.4" height="1.9" fill="#2b2d64"/>
<g font-size="10.4" font-style="italic" text-anchor="middle" stroke-width="0.6">
<text x="358.3" y="740.9" color="#a81a2a">Vector</text>
<text x="397.5" y="740.9" color="#25274f">Utx</text>
<text x="396.9" y="752.8" color="#25274f">sh#1</text>
</g>
</svg>
</body></html>
